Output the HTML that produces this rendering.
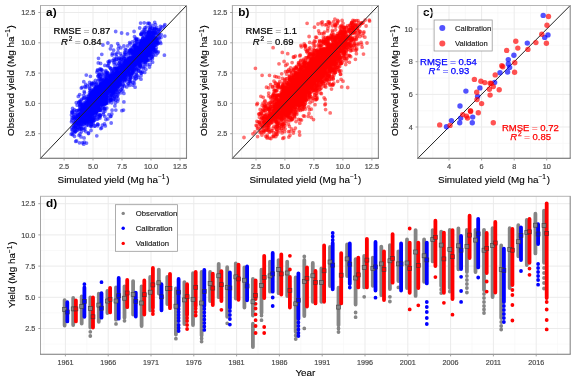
<!DOCTYPE html>
<html><head><meta charset="utf-8"><style>
html,body{margin:0;padding:0;background:#fff;width:575px;height:383px;overflow:hidden}
svg{display:block;filter:blur(0.28px)}
</style></head><body>
<svg width="575" height="383" viewBox="0 0 575 383" font-family="'Liberation Sans', sans-serif">
<rect width="575" height="383" fill="#fff"/>
<line x1="49.6" y1="5.5" x2="49.6" y2="158.3" stroke="#f5f5f5" stroke-width="0.6"/>
<line x1="78.6" y1="5.5" x2="78.6" y2="158.3" stroke="#f5f5f5" stroke-width="0.6"/>
<line x1="107.5" y1="5.5" x2="107.5" y2="158.3" stroke="#f5f5f5" stroke-width="0.6"/>
<line x1="136.5" y1="5.5" x2="136.5" y2="158.3" stroke="#f5f5f5" stroke-width="0.6"/>
<line x1="165.5" y1="5.5" x2="165.5" y2="158.3" stroke="#f5f5f5" stroke-width="0.6"/>
<line x1="40.5" y1="148.9" x2="186.5" y2="148.9" stroke="#f5f5f5" stroke-width="0.6"/>
<line x1="40.5" y1="118.6" x2="186.5" y2="118.6" stroke="#f5f5f5" stroke-width="0.6"/>
<line x1="40.5" y1="88.3" x2="186.5" y2="88.3" stroke="#f5f5f5" stroke-width="0.6"/>
<line x1="40.5" y1="57.9" x2="186.5" y2="57.9" stroke="#f5f5f5" stroke-width="0.6"/>
<line x1="40.5" y1="27.6" x2="186.5" y2="27.6" stroke="#f5f5f5" stroke-width="0.6"/>
<line x1="64.1" y1="5.5" x2="64.1" y2="158.3" stroke="#ebebeb" stroke-width="1"/>
<line x1="93" y1="5.5" x2="93" y2="158.3" stroke="#ebebeb" stroke-width="1"/>
<line x1="122" y1="5.5" x2="122" y2="158.3" stroke="#ebebeb" stroke-width="1"/>
<line x1="151" y1="5.5" x2="151" y2="158.3" stroke="#ebebeb" stroke-width="1"/>
<line x1="180" y1="5.5" x2="180" y2="158.3" stroke="#ebebeb" stroke-width="1"/>
<line x1="40.5" y1="133.7" x2="186.5" y2="133.7" stroke="#ebebeb" stroke-width="1"/>
<line x1="40.5" y1="103.4" x2="186.5" y2="103.4" stroke="#ebebeb" stroke-width="1"/>
<line x1="40.5" y1="73.1" x2="186.5" y2="73.1" stroke="#ebebeb" stroke-width="1"/>
<line x1="40.5" y1="42.8" x2="186.5" y2="42.8" stroke="#ebebeb" stroke-width="1"/>
<line x1="40.5" y1="12.5" x2="186.5" y2="12.5" stroke="#ebebeb" stroke-width="1"/>
<line x1="241.5" y1="5.5" x2="241.5" y2="158.3" stroke="#f5f5f5" stroke-width="0.6"/>
<line x1="270.5" y1="5.5" x2="270.5" y2="158.3" stroke="#f5f5f5" stroke-width="0.6"/>
<line x1="299.4" y1="5.5" x2="299.4" y2="158.3" stroke="#f5f5f5" stroke-width="0.6"/>
<line x1="328.4" y1="5.5" x2="328.4" y2="158.3" stroke="#f5f5f5" stroke-width="0.6"/>
<line x1="357.4" y1="5.5" x2="357.4" y2="158.3" stroke="#f5f5f5" stroke-width="0.6"/>
<line x1="232.4" y1="148.9" x2="378.4" y2="148.9" stroke="#f5f5f5" stroke-width="0.6"/>
<line x1="232.4" y1="118.6" x2="378.4" y2="118.6" stroke="#f5f5f5" stroke-width="0.6"/>
<line x1="232.4" y1="88.3" x2="378.4" y2="88.3" stroke="#f5f5f5" stroke-width="0.6"/>
<line x1="232.4" y1="57.9" x2="378.4" y2="57.9" stroke="#f5f5f5" stroke-width="0.6"/>
<line x1="232.4" y1="27.6" x2="378.4" y2="27.6" stroke="#f5f5f5" stroke-width="0.6"/>
<line x1="256" y1="5.5" x2="256" y2="158.3" stroke="#ebebeb" stroke-width="1"/>
<line x1="284.9" y1="5.5" x2="284.9" y2="158.3" stroke="#ebebeb" stroke-width="1"/>
<line x1="313.9" y1="5.5" x2="313.9" y2="158.3" stroke="#ebebeb" stroke-width="1"/>
<line x1="342.9" y1="5.5" x2="342.9" y2="158.3" stroke="#ebebeb" stroke-width="1"/>
<line x1="371.9" y1="5.5" x2="371.9" y2="158.3" stroke="#ebebeb" stroke-width="1"/>
<line x1="232.4" y1="133.7" x2="378.4" y2="133.7" stroke="#ebebeb" stroke-width="1"/>
<line x1="232.4" y1="103.4" x2="378.4" y2="103.4" stroke="#ebebeb" stroke-width="1"/>
<line x1="232.4" y1="73.1" x2="378.4" y2="73.1" stroke="#ebebeb" stroke-width="1"/>
<line x1="232.4" y1="42.8" x2="378.4" y2="42.8" stroke="#ebebeb" stroke-width="1"/>
<line x1="232.4" y1="12.5" x2="378.4" y2="12.5" stroke="#ebebeb" stroke-width="1"/>
<clipPath id="ca"><rect x="40.5" y="5.5" width="146.0" height="152.8"/></clipPath>
<clipPath id="cb"><rect x="232.4" y="5.5" width="145.99999999999997" height="152.8"/></clipPath>
<g clip-path="url(#ca)">
<path d="M106.7 99.6h0M79.4 110.8h0M117 75.8h0M141.7 52.3h0M118.8 81.9h0M88.3 110h0M96.7 105.1h0M95.6 106.8h0M97.8 118.9h0M89.6 102.1h0M90.8 110h0M145.1 54.5h0M151.4 49.7h0M96.3 86.6h0M78.2 122.5h0M82.6 107.6h0M114 76h0M85.8 131.6h0M101.9 78.4h0M99.9 99.9h0M144.1 52.9h0M86.7 96.5h0M100.5 115h0M93.6 96.1h0M84.4 119.5h0M96.4 107.3h0M84.2 112.1h0M135.3 51.1h0M103 86.9h0M80.8 103.6h0M97.1 104h0M87.8 113.4h0M94.2 108.6h0M98.2 103.9h0M103.3 85.4h0M87.2 108.9h0M93.2 104.1h0M118.6 81.8h0M146.4 58.3h0M125.6 75.2h0" stroke="#0000ff" stroke-width="3.8" stroke-linecap="round" stroke-opacity="0.55" fill="none"/>
<path d="M121 80.1h0M162 27.2h0M143.6 55.4h0M99.8 69.1h0M150 36.6h0M157.8 43h0M94.7 105.3h0M84.4 115.6h0M87 98.6h0M77.4 130.2h0M162.9 27.8h0M156 55h0M150.6 37.7h0M125.7 61.2h0M117.7 101.1h0M82.3 118.6h0M153.7 33.8h0M121.8 70.5h0M148.1 39.3h0M115.5 94.2h0M105.8 91.7h0M155.8 49.6h0M129.6 42.7h0M96.7 98h0M93.2 109.9h0M98.1 98.3h0M144.8 33.1h0M90.7 109.3h0M127.6 45.9h0M97.5 104.9h0M98.5 58.3h0M89.6 122.6h0M100.4 98.8h0M117.5 77.8h0M100.1 116.8h0M133.1 71.5h0M101.7 85.3h0M75.3 131.5h0M121.6 67.9h0M96.5 97.1h0" stroke="#0000ff" stroke-width="3.8" stroke-linecap="round" stroke-opacity="0.55" fill="none"/>
<path d="M129 63.5h0M141 66.6h0M95.2 89h0M156.4 40.2h0M132.6 70.6h0M119 63.3h0M112 80.1h0M106.5 92.2h0M87.7 102.2h0M110.3 100h0M98.7 86.8h0M97.9 91.8h0M99.5 97.5h0M117.1 82.4h0M89.9 117.6h0M95.3 101.7h0M86.9 108.7h0M140.8 42.9h0M121.1 65.9h0M150.5 41.7h0M71.5 121.8h0M115.8 91.9h0M141.1 61.6h0M92.2 115.7h0M87.1 111.1h0M114.1 81.7h0M145.9 56.4h0M144.2 33.1h0M155.2 40.9h0M141.5 72.9h0M109.4 88.1h0M150.2 28.6h0M106.1 91.4h0M136.7 54.7h0M106.9 100.1h0M81.8 121h0M123.7 76.7h0M104.2 108.7h0M145.6 61.9h0M90.5 104.8h0" stroke="#0000ff" stroke-width="3.8" stroke-linecap="round" stroke-opacity="0.55" fill="none"/>
<path d="M120.1 62.7h0M145.4 58.5h0M95.3 106.8h0M106.5 95.4h0M98.4 104.9h0M111.9 83.5h0M96.3 89.6h0M109 114.7h0M100.6 89.1h0M94.6 108.8h0M93.3 110h0M150.2 45.3h0M97.1 99.5h0M106.8 97.9h0M137.5 51h0M100.3 106.9h0M88.8 101.3h0M85 128.7h0M96.6 99.9h0M83.2 104.8h0M148.4 54.9h0M138.9 51.3h0M118.7 72.2h0M83 114.3h0M118.2 74.7h0M116.5 83.1h0M123.5 76.8h0M151.1 41.6h0M146.3 50.9h0M140.2 46.3h0M110.5 116.6h0M137.3 57.8h0M109.5 87.7h0M113.8 84.1h0M77.3 126.9h0M103.5 82.9h0M150.2 32.2h0M131.3 73.8h0M144 51.2h0M90.5 109.4h0" stroke="#0000ff" stroke-width="3.8" stroke-linecap="round" stroke-opacity="0.55" fill="none"/>
<path d="M100.3 115.3h0M98.9 102.1h0M150.5 50.7h0M152.6 31.8h0M82 106.5h0M127.4 70.4h0M99.6 93.2h0M93.6 91.1h0M97.8 87.9h0M130.1 58.4h0M81.3 105.2h0M92.2 95.1h0M89.2 115.9h0M90.2 110.7h0M149.5 50.5h0M107.9 87.8h0M143.1 38.2h0M141.9 40.7h0M106.9 86.8h0M126.3 63.4h0M136.7 39.5h0M97.5 95.3h0M96.9 100.9h0M133.4 53.2h0M87.6 115.4h0M91.7 85.5h0M91.2 126.6h0M139.8 60.2h0M140.7 55.9h0M101.9 88.5h0M134 56.2h0M79.9 121.2h0M136.5 62.1h0M147 48.3h0M149.4 29.7h0M140.6 23.1h0M112.5 92.8h0M146.4 54.9h0M77 129.8h0M86.1 119.6h0" stroke="#0000ff" stroke-width="3.8" stroke-linecap="round" stroke-opacity="0.55" fill="none"/>
<path d="M94 117.6h0M85.7 111.5h0M91.7 105.2h0M100.8 98.2h0M94.6 107.6h0M144.7 59.2h0M146.5 39.6h0M142.6 71.9h0M136.1 51.1h0M105.3 91h0M136 75.9h0M94.2 96.5h0M80.7 125.9h0M97.3 95.2h0M95.6 101.6h0M89.7 115.6h0M121.3 59h0M122.5 75.4h0M142.3 47.4h0M125.4 71.2h0M80.5 101.9h0M115.2 54.1h0M85.2 109.6h0M113.8 86h0M106.3 90.8h0M96.5 93.5h0M83.3 114.5h0M143.3 62.7h0M103.5 112.5h0M128.7 52.7h0M117.3 78.2h0M154.1 41.8h0M73.7 114.2h0M126.2 50h0M85.2 121.5h0M103.7 93.8h0M142.3 46.7h0M78.4 121.8h0M116.5 56.7h0M110.5 81h0" stroke="#0000ff" stroke-width="3.8" stroke-linecap="round" stroke-opacity="0.55" fill="none"/>
<path d="M121.4 55.9h0M72 117.9h0M86.5 119.4h0M106.8 108.1h0M136.5 65.8h0M122.9 70.6h0M137.7 53.3h0M133.3 52.3h0M122.4 77.9h0M132.5 60.6h0M106.2 93.4h0M145.3 51.3h0M94.5 110.3h0M139.1 61.9h0M95.8 100.7h0M132.6 72.5h0M88.6 122.3h0M85.5 105h0M128.1 64.9h0M156.2 44.7h0M87.1 106h0M134.8 56.8h0M128.1 69.2h0M103.7 87.3h0M152 41.2h0M112.8 90.7h0M120.8 92.8h0M105.9 108.9h0M138.4 64.5h0M89.7 119.8h0M84.5 110h0M102.6 93.5h0M137.7 59.6h0M98.5 106.8h0M145.5 49.2h0M92.7 94.5h0M116.6 72.6h0M158.4 31.6h0M145.3 52.2h0M129.2 72.3h0" stroke="#0000ff" stroke-width="3.8" stroke-linecap="round" stroke-opacity="0.55" fill="none"/>
<path d="M105.1 74.7h0M117.4 92.3h0M86.3 123.4h0M144 52.1h0M93 103.5h0M95 95.7h0M106 73.5h0M123.5 66.7h0M117.2 84.7h0M91.2 94h0M145 62.7h0M88.2 115.2h0M99.8 118.2h0M134.5 49.5h0M150.5 48.7h0M84.9 110.4h0M147.3 44.3h0M119.2 86.2h0M158.3 51.8h0M98.5 99.4h0M87.9 124.3h0M141.8 55h0M99.3 91.7h0M148.3 47.7h0M150.8 40.2h0M94.6 103.2h0M96.1 86.7h0M147.9 53.3h0M86.3 75.1h0M83.7 121.1h0M125.4 73.2h0M105.3 96.1h0M124.2 75.4h0M115.8 100.2h0M99.6 90.3h0M92.6 122.1h0M103.8 100.2h0M123.4 67.9h0M105.5 87.5h0M85.4 104.1h0" stroke="#0000ff" stroke-width="3.8" stroke-linecap="round" stroke-opacity="0.55" fill="none"/>
<path d="M106.6 91.4h0M100.9 96.8h0M108.2 87.7h0M135.8 56.1h0M153.3 47.4h0M91.5 93.3h0M104.9 99.5h0M140.8 56.3h0M94.3 104.6h0M155.8 34.9h0M118.2 80.2h0M125.3 75.7h0M129.3 74.9h0M82.5 111.3h0M116 84.3h0M145.5 48.3h0M136.1 48.5h0M114.5 77.4h0M123.2 68.1h0M95.5 113.4h0M137.7 63.9h0M140.9 41.2h0M97.9 98.8h0M150.1 51.4h0M90.7 101.7h0M141 34.2h0M105.1 108.4h0M139.1 64.3h0M94.5 86.6h0M99.3 89.9h0M143.9 40.3h0M115.6 102.8h0M147.4 33.1h0M147.1 59.8h0M110.9 116.2h0M87.2 115.1h0M90 103h0M143.7 47.8h0M141.6 59.2h0M123.5 65.9h0" stroke="#0000ff" stroke-width="3.8" stroke-linecap="round" stroke-opacity="0.55" fill="none"/>
<path d="M89.3 113.8h0M83.7 108.5h0M114.3 72.2h0M95.5 97.5h0M91.4 119.1h0M146.9 50.3h0M93.3 100.6h0M143.4 60.1h0M88.2 103.1h0M91.8 105.6h0M86.4 122.6h0M97.7 70.7h0M92.1 91.1h0M85 120h0M109.9 85.8h0M71.2 134.2h0M75.2 119.7h0M100.8 91.1h0M101.7 87.7h0M146.3 44.4h0M121.8 62h0M128.8 65.7h0M120.8 79.4h0M94 107.6h0M136.7 53h0M111.4 99.6h0M101.2 86.5h0M138.6 77.4h0M102.8 103.4h0M137 47.7h0M111.1 95.8h0M129.6 81.4h0M149.5 53.9h0M123.9 71.5h0M138.6 71h0M101.8 99.6h0M96.5 105.8h0M136.6 57.6h0M124.9 70.5h0M97.3 95.5h0" stroke="#0000ff" stroke-width="3.8" stroke-linecap="round" stroke-opacity="0.55" fill="none"/>
<path d="M72.6 108.4h0M155.2 45.3h0M93.9 91.2h0M91.2 125.2h0M95 109.5h0M102.2 84.9h0M149.2 52.4h0M84.4 111.4h0M150.7 42.7h0M126.1 80.1h0M95.6 115.2h0M117.2 86h0M86.1 110.9h0M97.1 108h0M147.9 46.1h0M96 96.8h0M99.5 96.6h0M148.2 45.3h0M96.9 99.3h0M91.2 96.2h0M101.3 79.6h0M114.7 78.8h0M101.9 74.2h0M106.6 74.6h0M132.3 68.3h0M104.5 89.7h0M103.5 87.7h0M101 83.2h0M149 49.7h0M87.6 106.5h0M99 90.6h0M143.2 68.6h0M87.6 104h0M154.2 44.9h0M102.5 108.5h0M156.3 42.5h0M88.4 102.2h0M100.3 92.6h0M146.7 51.4h0M130.4 62h0" stroke="#0000ff" stroke-width="3.8" stroke-linecap="round" stroke-opacity="0.55" fill="none"/>
<path d="M91 112.9h0M82.2 106.5h0M152.4 50.7h0M117.9 89.3h0M154.7 22.3h0M107.8 90.1h0M150 45.2h0M155.4 37.8h0M117.8 79h0M148.9 41.5h0M95.6 97.6h0M91.3 121.4h0M124.6 85.9h0M145.9 57h0M97.5 94.2h0M130.9 62.6h0M102.1 100.6h0M141.3 34.3h0M104 104.7h0M114.6 67.7h0M96.5 93h0M130.9 57.8h0M131.7 52.7h0M147.4 54.3h0M96.8 107.6h0M76.1 124.2h0M151.9 44.8h0M153.8 41.4h0M92.6 100.9h0M139.4 64h0M117.9 81.9h0M137.9 51.2h0M87.1 98.5h0M124.8 70.3h0M122.8 77.5h0M97.2 100.3h0M126.7 68.4h0M118.3 79.1h0M74.1 126.6h0M87 115.4h0" stroke="#0000ff" stroke-width="3.8" stroke-linecap="round" stroke-opacity="0.55" fill="none"/>
<path d="M100.7 76.5h0M145.4 49.6h0M95.5 80.3h0M134 52.7h0M95.1 105.8h0M150.7 46.5h0M109.1 90.9h0M123.9 93.4h0M84.2 91.5h0M96.7 106.5h0M107.9 84.6h0M141.8 53h0M90.2 103h0M153.3 33.3h0M125 58.9h0M84.9 106.4h0M105.9 119.6h0M104.1 108.9h0M100.7 90.6h0M107.8 89h0M82.2 104.6h0M92.5 100.5h0M153.7 37.9h0M97.7 101.2h0M103.8 103.8h0M101.8 99.1h0M113.2 90.1h0M131.8 68.5h0M157.4 44h0M81.4 124h0M98.5 96.6h0M103.8 91.8h0M157.6 53h0M119.8 84.6h0M85.8 103.5h0M87.8 112.5h0M79 102.6h0M106.3 83.8h0M88.4 117.1h0M107.5 87.1h0" stroke="#0000ff" stroke-width="3.8" stroke-linecap="round" stroke-opacity="0.55" fill="none"/>
<path d="M90.6 117.9h0M145.5 38.5h0M138.4 62.1h0M132.7 51.1h0M121.1 59.4h0M105.9 96.7h0M148 41.3h0M103.7 101h0M147.6 55.8h0M92.3 93.9h0M114.1 90.5h0M148.6 40.8h0M119.7 62h0M101 85h0M77 110.7h0M153.2 47h0M81.3 123h0M111.1 89.4h0M93 92.4h0M97.6 100.9h0M124.7 54.2h0M127.4 60.1h0M110.1 81.9h0M80.3 120.2h0M111 81.6h0M117.9 76.5h0M97.2 100.8h0M95.8 84.5h0M93.8 94.9h0M136.5 69.7h0M84 130h0M124.3 61.5h0M150.7 40.2h0M149.1 46.6h0M121.7 72.1h0M138.5 62.8h0M91.1 107.2h0M111.3 77.7h0M147.4 52.4h0M93.4 112.6h0" stroke="#0000ff" stroke-width="3.8" stroke-linecap="round" stroke-opacity="0.55" fill="none"/>
<path d="M99.6 103.4h0M106.9 92.9h0M81 116.9h0M99.3 74.7h0M81.8 110.5h0M81.3 88.1h0M147.2 48.8h0M96.4 90.7h0M124.1 63.2h0M100.5 84.4h0M121.5 77.6h0M109.2 79.1h0M120 84.8h0M86.1 109h0M129.4 64.4h0M88.6 96.1h0M133.6 61.4h0M134.1 56.8h0M143.9 54.9h0M89.3 105.6h0M118.4 86.1h0M79 126.8h0M151.8 39.3h0M143.5 46.2h0M87.8 116.5h0M90.5 112.5h0M99.4 101.8h0M148.9 23.2h0M111.8 71.2h0M99.7 76.2h0M146.9 52h0M112.5 82.6h0M110.5 91.4h0M141.4 60.2h0M121.8 69.4h0M93.2 111.2h0M84.3 117.4h0M120.5 73.8h0M118.8 45.8h0M86.7 99.2h0" stroke="#0000ff" stroke-width="3.8" stroke-linecap="round" stroke-opacity="0.55" fill="none"/>
<path d="M84.8 117.9h0M115.8 59.9h0M98 80.9h0M146.3 34.4h0M99 104.7h0M73.3 125.3h0M98.2 100.3h0M137.8 47.8h0M76.9 116.2h0M119.3 91.6h0M81.9 108.5h0M86.4 125.5h0M130 64.5h0M102.2 88.9h0M153.8 49.4h0M144 45h0M129 67.8h0M135.7 56.5h0M83.3 112.6h0M143.5 32.1h0M97.1 97.2h0M103.5 87.6h0M90.4 105.1h0M127 62h0M96.6 99.4h0M118.8 67.8h0M115.8 59.1h0M100.5 109.7h0M149.2 43.8h0M97 83.1h0M102.7 94.4h0M137.2 75.6h0M92.7 111.3h0M148.3 43.2h0M96 112.7h0M143.9 42.5h0M74.6 117.4h0M104.1 87.1h0M129.2 62.9h0M125 79.1h0" stroke="#0000ff" stroke-width="3.8" stroke-linecap="round" stroke-opacity="0.55" fill="none"/>
<path d="M93.5 105.4h0M148.5 52.7h0M88.5 133.5h0M143.2 67h0M75.3 130.9h0M97.6 124.2h0M84.3 142.2h0M161.2 34.7h0M122.1 72h0M91 93.7h0M151.2 41h0M142.6 58.9h0M129.6 79.6h0M88.3 119.4h0M73.4 111.2h0M100.2 95.5h0M131.1 51.5h0M82.3 124.6h0M106.4 85.5h0M96.8 106.2h0M105.1 89.3h0M125.6 71.9h0M105.8 92.9h0M143.1 49.7h0M148.2 38.2h0M79.7 119.9h0M149.9 26.5h0M137.3 51.7h0M112.6 78.2h0M99.5 99.4h0M134.4 46.4h0M110.2 85.9h0M147.5 52.6h0M138.7 62.6h0M72.1 129.6h0M112.2 82h0M116.7 77.2h0M90 103.5h0M112.9 93.5h0M76.6 118.5h0" stroke="#0000ff" stroke-width="3.8" stroke-linecap="round" stroke-opacity="0.55" fill="none"/>
<path d="M149.5 23.6h0M145.7 44.3h0M88.2 102h0M116.6 76.5h0M124.8 74.8h0M144.6 52.8h0M91.1 119.6h0M103.3 94.4h0M145.1 61.5h0M151.3 36.7h0M132 62h0M105.9 94.3h0M112.1 110.2h0M80 134h0M118.1 76.3h0M92.1 92.6h0M121.6 33h0M91.3 102.9h0M93.9 109h0M90.9 115.9h0M146.5 59.8h0M78.5 125.2h0M149.5 67h0M100.2 103.4h0M106.5 77.9h0M160.3 29.3h0M127.6 74.1h0M114.3 87.1h0M130.4 68.4h0M93.6 113.1h0M129.2 80.5h0M99.7 92.8h0M158.2 43.4h0M114.8 96.8h0M80.8 100.8h0M137.3 48.2h0M95.3 100h0M128.5 73.2h0M96 102.4h0M129.8 63.8h0" stroke="#0000ff" stroke-width="3.8" stroke-linecap="round" stroke-opacity="0.55" fill="none"/>
<path d="M77 113.1h0M160.8 43.4h0M136.5 41.3h0M152.7 28.6h0M132.7 72.6h0M157.1 42.2h0M90.6 107.5h0M152 39.9h0M157.1 40.7h0M103.4 93.8h0M97.8 100.4h0M94.1 105.6h0M124.6 56h0M101 97h0M130 50.5h0M89.4 114.2h0M104.5 89.3h0M101.1 81.2h0M123.5 110.1h0M95.8 107.1h0M97.7 90.8h0M135.8 78.8h0M92.2 90.1h0M119.4 77.5h0M153.9 45.6h0M114.5 86h0M99.2 98.6h0M109.2 76.5h0M152.3 44.2h0M116.4 70.6h0M147.6 52.3h0M102.9 106.8h0M90 101.6h0M134.8 62.6h0M100.3 99h0M133.9 58.8h0M134.2 57.5h0M100.8 128.6h0M129.3 59.2h0M89.2 94.8h0" stroke="#0000ff" stroke-width="3.8" stroke-linecap="round" stroke-opacity="0.55" fill="none"/>
<path d="M124.2 67h0M93.6 89.9h0M115.8 79.5h0M122.7 68.7h0M151.2 47.8h0M97.9 99.8h0M144.6 41.1h0M107.8 81.4h0M104 91.6h0M92.1 113.3h0M88.8 104.7h0M133.1 71.3h0M124.6 66h0M112.3 86.5h0M72 112.5h0M84 117.5h0M147.7 39.1h0M128.6 77.1h0M145.3 48.5h0M131.4 50.4h0M109.2 75.8h0M122.7 66.5h0M95.1 96.1h0M109 86.1h0M101 92.5h0M98.7 108.7h0M124.9 75.3h0M107.4 88.2h0M148.5 49.6h0M89.5 104.9h0M73.6 127.8h0M77.7 127.4h0M93.9 82.5h0M112.2 74.1h0M104.5 98.6h0M100.4 90h0M116 84.1h0M109.8 67.6h0M137.6 61.6h0M105.4 98.6h0" stroke="#0000ff" stroke-width="3.8" stroke-linecap="round" stroke-opacity="0.55" fill="none"/>
<path d="M103.7 99.1h0M129.8 62.9h0M133.9 46.2h0M113 82.2h0M138.8 70.6h0M85 117.3h0M76.5 110.8h0M118.2 93.1h0M146.9 36.4h0M134.3 56.7h0M92.2 109.2h0M74.3 124.1h0M109.3 89.8h0M116.6 90.3h0M147 47.2h0M152.2 39.3h0M92.3 114.1h0M134.8 55.3h0M129.5 50.4h0M107.9 84.4h0M127 63.1h0M133.1 73.3h0M114.7 84h0M134.4 51.4h0M110.8 93.7h0M148 35.4h0M81.4 112.3h0M131.2 63.5h0M151.7 48.4h0M90.6 102.8h0M93.8 97.6h0M97.8 101.2h0M100.3 81.9h0M100.5 84.5h0M95.8 98.2h0M95.6 97.2h0M157.2 42h0M80.8 115.4h0M142.4 60.8h0M146.2 46.7h0" stroke="#0000ff" stroke-width="3.8" stroke-linecap="round" stroke-opacity="0.55" fill="none"/>
<path d="M134.9 46h0M154.9 27.9h0M95.2 92.2h0M106.9 85.2h0M149.4 35.7h0M86.5 143.1h0M107.5 97.2h0M148.2 38.1h0M148 56.4h0M134.2 51.9h0M75.6 125.3h0M120.1 81.9h0M149.6 29.9h0M94.1 101.7h0M103.5 101.5h0M127.3 74h0M135.7 60.8h0M99 97.7h0M102.4 125.1h0M145.6 48.4h0M120.8 84.6h0M149.9 48.8h0M101.9 102.2h0M94 94.8h0M146.4 27.1h0M142.8 48.3h0M90.5 112.6h0M113.2 92.5h0M93.7 96.8h0M97.5 101.1h0M124 77.4h0M87.3 103.1h0M96.8 99.6h0M137.4 57h0M157.7 35.6h0M134.3 83.5h0M105 99.3h0M116.4 70.2h0M110.4 75.8h0M99.4 114.8h0" stroke="#0000ff" stroke-width="3.8" stroke-linecap="round" stroke-opacity="0.55" fill="none"/>
<path d="M114.8 74.7h0M113.8 72.9h0M130.6 82.4h0M90.9 110.6h0M88.9 99.7h0M103.8 96.5h0M102.9 88.5h0M86.8 119.8h0M120.5 77.7h0M90.5 111.1h0M145.5 57.8h0M91.6 104.5h0M137.9 56.9h0M112.5 73.7h0M135.3 48.4h0M96.4 90.8h0M131.8 58.1h0M146.4 52.6h0M109.7 84.5h0M94.8 108.3h0M92.5 105.2h0M145.9 45.6h0M117.6 81.9h0M93.7 95.3h0M123.4 79.3h0M127.5 33.8h0M148.6 32.9h0M78.3 123.2h0M97.9 96.5h0M119.9 78.9h0M155.8 38.6h0M105.8 100.2h0M152.1 41.1h0M145.8 45.3h0M142.2 44.2h0M115.8 90.1h0M116.5 74.1h0M88.5 108.5h0M94.9 104h0M133.8 65.6h0" stroke="#0000ff" stroke-width="3.8" stroke-linecap="round" stroke-opacity="0.55" fill="none"/>
<path d="M82.1 110.2h0M130.3 53.6h0M140.8 56.7h0M118.1 98.9h0M150.3 37.3h0M102.6 93.3h0M134.8 62.9h0M96.9 95.3h0M130.3 62.9h0M117.3 79h0M134.4 65.6h0M108 89.2h0M120.9 72.8h0M90.2 114.1h0M126.8 73.5h0M107.7 93.2h0M160.4 26.4h0M72.8 134.8h0M135.1 40h0M100.6 102.7h0M120.6 53.8h0M148.7 38.2h0M106 95h0M126.7 86.9h0M97.9 104h0M128.5 75h0M131.6 59.8h0M78.6 124.2h0M119.8 71.6h0M152.4 30.5h0M104.8 82.2h0M133.9 69.2h0M144.6 44.3h0M145.3 52.7h0M111.1 77h0M101.8 86.8h0M87.7 109.2h0M109.2 92.1h0M99 110.6h0M115.3 88.3h0" stroke="#0000ff" stroke-width="3.8" stroke-linecap="round" stroke-opacity="0.55" fill="none"/>
<path d="M97.8 101.6h0M85.9 120.4h0M142.7 58h0M148.4 32.6h0M103.9 91.9h0M95.5 88.1h0M141.1 45.2h0M126.5 77h0M156 42.3h0M152.3 40.5h0M127.8 65.9h0M79.8 119.5h0M144.5 55.9h0M148.9 43h0M83 103.4h0M94.5 97.4h0M133.3 77.3h0M144.5 40.8h0M85.5 102.1h0M109.2 81.9h0M92.4 104.5h0M100.5 92.3h0M140.7 43.3h0M132.5 51.8h0M107 73h0M112.6 70.3h0M95.8 95.2h0M164.4 55.2h0M123.7 75.3h0M104.8 77.6h0M150.8 35.3h0M130.6 57.7h0M100.6 100h0M86.6 111.9h0M152.6 37.4h0M135.8 51h0M102.5 80.2h0M93.4 98.7h0M79.7 94.6h0M147 51.5h0" stroke="#0000ff" stroke-width="3.8" stroke-linecap="round" stroke-opacity="0.55" fill="none"/>
<path d="M150.1 64.4h0M153.5 31h0M142.2 31.8h0M92.5 102.6h0M101.4 91.6h0M147.4 42.1h0M74.7 122.8h0M96.9 72.1h0M136.3 72.4h0M96.5 89h0M80.6 120.5h0M99.8 92.5h0M105.9 85.3h0M149.9 38.3h0M115 75.4h0M104.5 123.9h0M147.9 35.3h0M108.4 91.8h0M142.5 51.9h0M99.5 78h0M98 91.9h0M146.3 31.4h0M150.9 58.1h0M140.8 64.6h0M101.1 87.8h0M130.2 44h0M146.5 60.3h0M93.5 105h0M97 95.8h0M106.5 92.1h0M106.2 80.8h0M83.5 124h0M129.4 74.4h0M88 113.2h0M100.5 110h0M149.3 42.4h0M106 82.3h0M106 100.9h0M80.1 117.9h0M113.8 81.9h0" stroke="#0000ff" stroke-width="3.8" stroke-linecap="round" stroke-opacity="0.55" fill="none"/>
<path d="M109.6 88.8h0M149.4 53.4h0M98.1 88.1h0M106.5 91.2h0M114.6 77.8h0M96.5 105h0M100.8 84.8h0M104.7 86h0M135.9 59.2h0M120.1 76.1h0M125.3 73.1h0M104.4 97.5h0M104 80.7h0M109.8 80.8h0M106.2 87.2h0M150 34.1h0M120.6 82.8h0M98.3 91.4h0M91.6 113.8h0M107.6 85.8h0M92.9 120.2h0M97.9 100.3h0M73.4 117.5h0M73 118.3h0M89 106.8h0M134.3 57h0M124.1 80.3h0M87.1 121.6h0M153.1 40.9h0M83 120.4h0M87.3 119.9h0M109.5 60.8h0M100.8 88.6h0M95.7 101.7h0M124.9 64.8h0M87 103.6h0M85.9 111.9h0M134 57.8h0M100.4 94.5h0M148.9 32h0" stroke="#0000ff" stroke-width="3.8" stroke-linecap="round" stroke-opacity="0.55" fill="none"/>
<path d="M91.5 97.1h0M95.4 94.4h0M141.3 48.6h0M121.3 69.1h0M74.2 132.7h0M124.3 58.4h0M109.6 82.9h0M95 111.3h0M103.6 90.1h0M96 100.1h0M97.7 104h0M96.7 90.2h0M135.6 49.1h0M95.1 117h0M118.4 59.8h0M96.3 83.7h0M107.6 84h0M135.8 45h0M92.2 99.1h0M81.4 99.5h0M142.9 51.3h0M96.3 100.6h0M147 43.1h0M117.8 72.8h0M98.3 97.1h0M98 101.8h0M140.3 71.5h0M140.2 65.3h0M94.2 120h0M123.8 58.6h0M108.8 79.7h0M95.7 98.9h0M96.1 112.2h0M148.5 49.6h0M91.3 104.3h0M89.1 117.4h0M150.1 41.1h0M98.2 87.8h0M110.5 88.4h0M154.8 32.2h0" stroke="#0000ff" stroke-width="3.8" stroke-linecap="round" stroke-opacity="0.55" fill="none"/>
<path d="M100.3 92.6h0M101.2 91.7h0M102.5 83.7h0M95.3 92.5h0M106.1 93.9h0M100.3 98h0M123.8 64.4h0M90.1 94.9h0M115 69h0M100.2 95.5h0M137.1 55.2h0M100.2 94.7h0M100.9 85.8h0M111.3 90h0M135.8 68.5h0M84.1 137.9h0M92.5 103.1h0M114.6 99h0M123.6 74.1h0M164.2 26.1h0M103.3 94.8h0M97.5 70h0M153.5 48.1h0M137.9 56h0M95.6 112.1h0M151.1 41.3h0M128.5 84h0M104.8 94h0M113.9 62.3h0M96 106h0M77.2 105.2h0M139.6 56.7h0M90.7 116h0M149 53.8h0M87.7 102.3h0M151.8 39.9h0M135.7 55.3h0M139.4 58.2h0M89.9 113.3h0M144.8 63.8h0" stroke="#0000ff" stroke-width="3.8" stroke-linecap="round" stroke-opacity="0.55" fill="none"/>
<path d="M122.2 72.3h0M135.1 62h0M130.1 58.8h0M133.3 66.4h0M157.8 39.8h0M110 84.6h0M147.5 55.8h0M98.6 102.7h0M106.6 80.5h0M77.7 119.1h0M84 118.7h0M151.9 56.7h0M159.1 30.6h0M114.5 79.2h0M88.3 125.3h0M114.9 76.5h0M98.8 108h0M144.1 36.9h0M99.9 96.8h0M158.1 29.6h0M117.8 65.6h0M85.5 104.3h0M146.1 47h0M90.3 91.3h0M139 62.5h0M164.8 36.1h0M97.1 93.9h0M77.3 114.6h0M97.1 88.4h0M140.3 55.7h0M85.3 119.1h0M104.7 101.5h0M72.1 133.8h0M106.4 88h0M84.1 124.1h0M142.4 55.8h0M106.2 101.6h0M102.3 87.7h0M147.8 55.3h0M154.1 41.7h0" stroke="#0000ff" stroke-width="3.8" stroke-linecap="round" stroke-opacity="0.55" fill="none"/>
<path d="M96.2 88.3h0M102.9 45h0M102.3 104.6h0M147.1 59.1h0M98.1 106.6h0M81.2 116.6h0M83.6 115.3h0M141.7 56.3h0M98.7 90.3h0M76.4 122.8h0M139.8 62.1h0M83.9 121.5h0M108.2 65.5h0M97.8 103.8h0M155 32.7h0M95.3 99.1h0M87.7 107.8h0M101.9 83.4h0M139.1 58.1h0M106.8 85.6h0M97 91.8h0M99 110.4h0M135.1 54.1h0M113.4 77.1h0M102.1 98.8h0M84.2 107.4h0M133.3 62.8h0M110.6 68.3h0M135.1 87.2h0M90.6 105.3h0M161 37.5h0M106.5 79.6h0M98.5 92h0M94.7 120.2h0M105.3 90.2h0M104.8 89.2h0M100 90.6h0M112.8 95.8h0M96.7 97.3h0M88.3 102.6h0" stroke="#0000ff" stroke-width="3.8" stroke-linecap="round" stroke-opacity="0.55" fill="none"/>
<path d="M99.1 89.8h0M90.9 113.5h0M134.5 61.7h0M128 53.4h0M108.9 89.9h0M126.2 71.7h0M103.6 86.6h0M106.3 78.9h0M123.3 77.1h0M90.9 103.5h0M150.7 44.7h0M105 99.1h0M121.8 69.5h0M83.4 111.9h0M93.5 97.6h0M82.4 142.8h0M119.8 65.4h0M89.6 88.4h0M99.6 88.6h0M147.6 45.1h0M87.5 106.7h0M113.2 82.6h0M148.8 48.8h0M97.1 90.7h0M118.5 84.7h0M80.7 126.4h0M97.4 105h0M123.9 101.9h0M83.9 116.5h0M104.9 111.2h0M96 88h0M90.9 109.1h0M114.6 89h0M136.3 74.3h0M90.5 112.1h0M125 72.3h0M120.2 64.7h0M121.8 71.4h0M139 54.8h0M91.6 97h0" stroke="#0000ff" stroke-width="3.8" stroke-linecap="round" stroke-opacity="0.55" fill="none"/>
<path d="M145.3 53.8h0M149.5 54.6h0M145.7 55h0M94.6 126h0M135.9 64.4h0M88.7 123.3h0M112.9 96.1h0M150.9 44.9h0M150.3 41.4h0M71.5 115h0M104.7 87.2h0M128.4 62.6h0M96.9 97.2h0M101.9 97.9h0M109.8 87h0M79.2 122.8h0M83.6 128h0M116.5 85.1h0M104.8 100.8h0M149.1 39.7h0M133.9 59.3h0M135 42.9h0M114.1 86.9h0M114.1 58.9h0M156.3 47.7h0M150.4 60.3h0M80.2 107.2h0M109.4 61.8h0M140.2 57.6h0M146.4 49.3h0M133.8 54.6h0M147.9 37.5h0M150.5 36h0M111.7 102.8h0M82.4 112.2h0M97.4 103.2h0M122.4 86.7h0M148 53h0M147.7 38.9h0M118.4 68.4h0" stroke="#0000ff" stroke-width="3.8" stroke-linecap="round" stroke-opacity="0.55" fill="none"/>
<path d="M115.4 88.9h0M88.4 133h0M135.7 60.7h0M151.8 37.9h0M147.4 64.5h0M128.8 68.3h0M139.1 60.4h0M130.7 66.6h0M117.2 96.1h0M117.3 71.5h0M93.5 120.7h0M79.8 128.9h0M116.4 59.3h0M155.9 39.2h0M92.4 101.3h0M115.4 68.3h0M121.2 71.6h0M139.8 55.3h0M134.8 64.3h0M123.3 77.1h0M93 107h0M146.7 48.9h0M84.4 116h0M128.7 66.3h0M109.3 95.4h0M84.7 120.4h0M95.2 102.1h0M102.3 88.4h0M103.3 90.7h0M91.3 113.3h0M97.5 103.5h0M86.3 111.5h0M128.3 59.7h0M100.6 63.4h0M80.1 118.4h0M96.8 115.2h0M127.9 64.2h0M105.8 71.8h0M91.1 99.1h0M125.4 60.6h0" stroke="#0000ff" stroke-width="3.8" stroke-linecap="round" stroke-opacity="0.55" fill="none"/>
<path d="M98.1 86.7h0M117.9 95h0M107.4 85.2h0M83.5 121.3h0M104.1 88.4h0M91 130.5h0M87.2 111h0M139.2 59h0M158.9 33.7h0M116.7 54.1h0M144.7 53.2h0M78.5 123.6h0M137.7 54.4h0M152.8 49.1h0M101.7 99.5h0M131.2 50.7h0M138.9 50.5h0M125.3 67.6h0M147.4 51.1h0M119.8 83.5h0M104.7 81.8h0M136.7 69.1h0M106.3 91.6h0M92.8 110.6h0M125.1 72h0M141.8 53.2h0M102.6 93.3h0M83.7 113.8h0M115.6 80.4h0M75.7 141.4h0M101.7 96.1h0M110.5 98.2h0M148.1 45.4h0M144 48.4h0M86.8 101.1h0M117.2 82.7h0M135 51.9h0M151 40.2h0M95.4 89.7h0M80.4 118h0" stroke="#0000ff" stroke-width="3.8" stroke-linecap="round" stroke-opacity="0.55" fill="none"/>
<path d="M105.1 81.8h0M116.6 78.9h0M99.9 107h0M123.9 46h0M115.3 81.5h0M118.1 68.7h0M80.3 122.4h0M123.4 72.1h0M105.5 85.7h0M140.2 53.4h0M92.1 113.4h0M114.2 96.8h0M101.9 104.5h0M115.5 80.1h0M112.4 86.1h0M99.2 96.1h0M111.5 82h0M149.4 32h0M112.7 87.5h0M142.7 38.2h0M136.1 63.6h0M113.6 74.6h0M102.3 84.7h0M104.7 82h0M134.2 49.7h0M142.6 43.6h0M118 80.3h0M125.8 60.2h0M129.7 58.4h0M146.8 39.9h0M138.1 55.7h0M113 88.5h0M132.4 41.9h0M119.8 78.3h0M118.8 80.8h0M136 61.5h0M120.7 89.6h0M116.6 75h0M144.8 52h0M105.8 85.6h0" stroke="#0000ff" stroke-width="3.8" stroke-linecap="round" stroke-opacity="0.55" fill="none"/>
<path d="M116.9 89.1h0M122.7 65.6h0M139.4 65.5h0M133.2 68.6h0M143.1 56.8h0M133.1 82.7h0M96.8 135.8h0M145.8 44.2h0M152.8 37.7h0M98.5 88.8h0M145.1 46.2h0M141.5 60.6h0M116.7 81.5h0M103.4 88.4h0M141.8 53.1h0M144.1 43.2h0M129.2 63.3h0M92.7 104.5h0M102.8 102.4h0M110.3 81.6h0M74.1 131h0M92.1 106.5h0M111.3 92.7h0M123.2 68.9h0M89 113.5h0M144.8 59.5h0M91.7 96.3h0M108.1 92.8h0M113.2 89.2h0M152.6 36.5h0M104.5 88.5h0M118.5 81.1h0M134.5 70.2h0M98.1 96.4h0M99.7 100.8h0M89.5 92.7h0M105.3 83.9h0M131.9 64.1h0M137.8 49.2h0M83.3 117.7h0" stroke="#0000ff" stroke-width="3.8" stroke-linecap="round" stroke-opacity="0.55" fill="none"/>
<path d="M137.7 58h0M117.3 75.9h0M104 89.6h0M79.1 114.5h0M146.7 41.2h0M122.1 76.9h0M87.6 103.7h0M85.8 87.4h0M116.4 80.7h0M92.4 104.7h0M95.9 111.4h0M83 110.1h0M92.6 102.9h0M140.1 65.7h0M122.6 74.9h0M109 89.3h0M131.6 63.7h0M145.6 55.9h0M155.6 37.8h0M91 101.9h0M84.8 115.1h0M126.2 65.6h0M110.7 77.9h0M125.5 52.7h0M79.2 115.2h0M132.3 67.8h0M99 86.4h0M104.9 65.4h0M111.1 99.1h0M140.6 54.8h0M118.3 48.6h0M89.2 106.5h0M140.9 57.2h0M141.7 41.3h0M100.1 92.1h0M99.8 95h0M105.3 92.2h0M152 28.3h0M114.6 93h0M141.7 59h0" stroke="#0000ff" stroke-width="3.8" stroke-linecap="round" stroke-opacity="0.55" fill="none"/>
<path d="M94.6 111h0M146.4 49.6h0M109 77.8h0M105.4 93h0M153.2 47.7h0M141.7 45.2h0M90 88.7h0M95.4 103.2h0M90.9 101.5h0M124.4 72.5h0M74.5 136.3h0M92.2 115.8h0M95.7 101h0M90.9 95.4h0M146.5 49.4h0M80.9 117.6h0M119 72.8h0M148 47.8h0M127.8 83.3h0M140.2 58.9h0M125.3 62.4h0M105.7 102.8h0M98 124.4h0M118 76.5h0M105.8 88.9h0M77.1 122.3h0M140 66.3h0M144.7 39.3h0M145 40.9h0M116.2 86.1h0M81.7 119.6h0M138.5 49.9h0M76.4 128.8h0M86.1 105.2h0M159.1 37.8h0M98 76h0M106.4 82.4h0M113.8 77.6h0M86.8 120.3h0M149.1 49.6h0" stroke="#0000ff" stroke-width="3.8" stroke-linecap="round" stroke-opacity="0.55" fill="none"/>
<path d="M89 107.9h0M79.4 116.1h0M92.1 119.3h0M153.7 35.3h0M98.7 93.2h0M84.8 102.4h0M105.2 98.6h0M111.2 85.7h0M106.1 102.7h0M132.7 85.2h0M131.7 64.2h0M137.7 61h0M139 49h0M97.2 94.1h0M85.1 116h0M129.6 58.9h0M124 77.7h0M144.6 56.6h0M105.8 98.9h0M112.6 87.4h0M117.4 82.4h0M137.9 39.2h0M155.4 32.6h0M153.8 33h0M100.2 102h0M107.5 83.2h0M122.5 73.3h0M125.5 72.4h0M114.5 73.9h0M114.3 64.2h0M106.8 97.7h0M126.9 71.3h0M84.5 108.1h0M125.1 66h0M110.5 74.6h0M148.5 50h0M103.1 96.9h0M80.2 113.9h0M144.9 66.3h0M148.6 50.9h0" stroke="#0000ff" stroke-width="3.8" stroke-linecap="round" stroke-opacity="0.55" fill="none"/>
<path d="M143.4 53h0M126.2 79.7h0M119.7 83.9h0M79.4 101.3h0M96.4 96.7h0M106.1 80.7h0M156.6 27.5h0M148 54.7h0M123.4 62.3h0M94.3 108.8h0M127.7 66.8h0M156 38.5h0M99.8 73.8h0M137.2 59.8h0M132.5 53.9h0M101.8 96.4h0M147.1 54.2h0M88.6 99.1h0M153.4 40.5h0M103.4 93h0M115.3 89h0M125.7 54.4h0M105.3 99.8h0M116.2 64h0M147.4 47.1h0M81.7 115.6h0M141 44.1h0M107.4 87.2h0M83.5 95.4h0M103.1 84.3h0M86 113.4h0M95.7 89.3h0M97.5 103.3h0M120.1 65.2h0M155.5 24.6h0M97.3 110.8h0M126 64.5h0M149.2 39.5h0M143.6 55.2h0M83.7 144.2h0" stroke="#0000ff" stroke-width="3.8" stroke-linecap="round" stroke-opacity="0.55" fill="none"/>
<path d="M121.3 59.6h0M146.9 43h0M84.5 92.8h0M130.2 74.1h0M103.6 89.9h0M146.4 39.3h0M111.2 95.3h0M122.1 75.1h0M150.5 42h0M149.3 43.2h0M96.2 105h0M77 122.6h0M144.7 40.7h0M146.8 48.5h0M84.7 97.4h0M111.4 89.7h0M141 79.2h0M148.6 42.8h0M150 43.8h0M121.4 65.7h0M111 84.6h0M72.3 112.5h0M126.1 68h0M146.3 48.8h0M103.1 95.6h0M93 112.2h0M101.2 104.7h0M151 55h0M90 109.1h0M108.6 83.7h0M157.1 38.3h0M78.3 96.4h0M99.8 99.9h0M96.2 87.8h0M97.4 105.3h0M96.2 107.2h0M83.3 116h0M141 46.7h0M91.6 102.6h0M135.2 58.7h0" stroke="#0000ff" stroke-width="3.8" stroke-linecap="round" stroke-opacity="0.55" fill="none"/>
<path d="M113.8 79.4h0M106.1 103.5h0M134.7 60.5h0M121.2 89.8h0M101.3 101.6h0M113.7 71.5h0M140.8 48.6h0M122.8 73.8h0M79 123.4h0M142.1 53.9h0M90.9 101.1h0M87.1 114h0M121.4 70.3h0M99.6 100h0M111.1 79.3h0M139.7 55.3h0M80.6 116.3h0M141.1 59.5h0M156.6 29.9h0M152.4 58.7h0M136.9 43.4h0M144.8 58.3h0M87 115.3h0M113.8 99.1h0M126.5 67.3h0M99.9 96.2h0M101.7 92.2h0M148.6 37h0M100 102.3h0M127.2 64.1h0M116.6 68.3h0M146.1 36.2h0M91.6 84.2h0M107.1 82.1h0M155.5 33h0M95.2 94.6h0M148.8 51.9h0M141 75.7h0M98.9 79.3h0M97 96.5h0" stroke="#0000ff" stroke-width="3.8" stroke-linecap="round" stroke-opacity="0.55" fill="none"/>
<path d="M117.5 87.8h0M139 48.2h0M146.4 42.6h0M94.7 99.8h0M104.6 96.4h0M134.3 63.7h0M83.7 115.4h0M103.2 73.9h0M90.5 95.1h0M89 111.3h0M79 110.3h0M100.1 87.4h0M93.4 105.5h0M153 41.7h0M125.3 70.6h0M110 100.8h0M152.3 38.6h0M153.7 43.8h0M141 53.6h0M102.2 75.4h0M79.5 128.8h0M101.4 92.1h0M105.4 95.3h0M128.2 70.9h0M83.3 98.6h0M116.6 74.7h0M93.5 97.7h0M80.4 113.7h0M100.9 85.3h0M147.6 23.3h0M86.7 110.6h0M141.1 34.6h0M82.5 108.8h0M111.5 76.1h0M137.2 54.5h0M108.7 63.3h0M117.9 85h0M126.8 61.1h0M92.8 97.4h0M131.2 58.1h0" stroke="#0000ff" stroke-width="3.8" stroke-linecap="round" stroke-opacity="0.55" fill="none"/>
<path d="M103.6 103.1h0M112.9 77.3h0M140.9 63.5h0M105 91.6h0M99 91.2h0M96.9 101.9h0M113.5 81.6h0M75.7 127.4h0M87.4 108.7h0M148.4 55.1h0M92.7 119.1h0M86.7 103.6h0M97.9 114.6h0M143.6 49.9h0M152.6 62.2h0M122.9 90.8h0M150.3 27.1h0M104.2 87.1h0M92.6 119.3h0M147 43.4h0M110.6 97h0M95.9 98.3h0M98.5 104.7h0M100.6 89.1h0M90 103.9h0M139.9 55.6h0M118.3 86.5h0M90.3 112.9h0M99.8 94h0M110.9 99.9h0M81.7 128.8h0M106.3 84.7h0M101.7 104.7h0M130.3 70.7h0M150.8 36.5h0M87.9 107.6h0M100.7 69.1h0M147.8 55h0M84.8 86.7h0M130.9 58.3h0" stroke="#0000ff" stroke-width="3.8" stroke-linecap="round" stroke-opacity="0.55" fill="none"/>
<path d="M152.2 37.1h0M74.9 126.7h0M128.5 69h0M144.5 51.4h0M154.7 29.1h0M141.1 40.3h0M95 99.1h0M150.6 43h0M103.5 80.1h0M138.3 56.4h0M97 96.1h0M122.9 84.2h0M109.9 89.3h0M144.4 57h0M134.3 66.2h0M114 68.7h0M139.2 59.6h0M93.3 123.1h0M145.2 40.7h0M113.8 68.9h0M113.8 81.5h0M136.2 78.2h0M152.7 39h0M96.2 105.7h0M152 47.6h0M150.8 45.7h0M154.1 34.4h0M97.2 98.8h0M97.1 111.3h0M136.3 65.6h0M108.1 73.2h0M149.6 54.7h0M101.1 93.9h0M93.1 111.1h0M151.6 32.4h0M110.1 88.9h0M119.7 73.3h0M79.4 109.3h0M148.2 36.8h0M71.9 120.2h0" stroke="#0000ff" stroke-width="3.8" stroke-linecap="round" stroke-opacity="0.55" fill="none"/>
<path d="M81.8 110.1h0M151 52.7h0M74.1 122.6h0M132.7 47.9h0M147.4 60.4h0M133.2 57.5h0M108.4 98.1h0M89.4 121.6h0M108.8 80.3h0M124.8 63.9h0M93.8 107h0M91.8 101.7h0M116.3 82.8h0M93.3 93.7h0M86 110.5h0M113.6 82h0M114.9 105.9h0M124.2 70h0M92.7 118.3h0M104.9 116.4h0M105.3 86.2h0M130.1 59.9h0M147.4 55.2h0M107.2 81.6h0M154.2 39.9h0M109.2 85.4h0M72.4 130.8h0M97.4 97.5h0M139.6 41.4h0M90.2 104.6h0M137.9 56.6h0M105.3 85.7h0M107.7 85.5h0M73.6 128.8h0M85.8 84.3h0M141.6 41.1h0M143 58h0M151.6 40.3h0M89.6 82.5h0M130.6 78h0" stroke="#0000ff" stroke-width="3.8" stroke-linecap="round" stroke-opacity="0.55" fill="none"/>
<path d="M147.9 43.1h0M147.4 44.3h0M116.8 74.9h0M144.3 51.2h0M89.7 98.1h0M84.2 114.7h0M153.8 40.4h0M159.6 29.8h0M77.3 117h0M113 86.7h0M119.5 58.4h0M93.2 105.3h0M98 90.5h0M103.4 92.4h0M84.3 107.7h0M141.7 50.7h0M97.6 103.7h0M111.5 91h0M124.5 71.6h0M123.9 69.6h0M91.9 109.4h0M100.5 93.5h0M80.1 117.5h0M125.4 65.9h0M108.9 101h0M119.2 79.1h0M140.3 50.7h0M143.5 46.2h0M139.7 49.2h0M117.9 77.6h0M118.5 73.6h0M133.8 60.6h0M89.3 113h0M135.4 53.1h0M105.6 91.1h0M142.3 54.6h0M123.9 66.9h0M121.9 110.7h0M106.8 80.4h0M134.6 61h0" stroke="#0000ff" stroke-width="3.8" stroke-linecap="round" stroke-opacity="0.55" fill="none"/>
<path d="M146.6 43.2h0M81.1 114.5h0M93.1 100h0M92.5 107.4h0M116.5 73.6h0M98 97.8h0M96.3 96h0M146.5 45.4h0M105.6 94.3h0M142.4 52.2h0M84.2 114.4h0M100 86.6h0M75.7 121h0M113.8 85.3h0M124.5 81.7h0M128.8 66.1h0M137.9 56h0M117.6 86.6h0M88.8 100.2h0M150.9 41.4h0M113.3 92h0M145.5 42.6h0M121.3 70.9h0M160.1 42h0M91.9 121.6h0M109 76.3h0M98.6 104.6h0M114.8 79.7h0M107.3 81.4h0M106.2 82.9h0M85.3 123.1h0M106.9 82.4h0M117.7 86.2h0M130.3 58.9h0M101.7 100.1h0M102.9 94h0M93.5 92h0M75.2 127.3h0M107.1 94.1h0M88.1 108.5h0" stroke="#0000ff" stroke-width="3.8" stroke-linecap="round" stroke-opacity="0.55" fill="none"/>
<path d="M121 66.4h0M106 81.2h0M90.3 107.4h0M96.8 98.8h0M152.6 48.3h0M130.4 67.5h0M101.6 97h0M104.8 103.9h0M127.4 57.9h0M125.4 79h0M96.8 105.5h0M121.6 73.7h0M143.7 42.9h0M119.5 77.7h0M140.1 67h0M139 61.5h0M107.6 81.5h0M105.5 76.4h0M138 53.7h0M102.6 89.8h0M97.6 96.9h0M83.8 81.7h0M94.3 107.5h0M91.7 124.3h0M98.9 74.4h0M80.1 104.5h0M95.5 98.5h0M107.9 88.1h0M86.1 105.6h0M84.8 112.3h0M95.6 93h0M140.8 53h0M128.2 56.4h0M132.2 68.2h0M142.6 57h0M149.1 44.4h0M111.2 123h0M139.3 49.1h0M87.1 111.9h0M144.7 46.6h0" stroke="#0000ff" stroke-width="3.8" stroke-linecap="round" stroke-opacity="0.55" fill="none"/>
<path d="M106.1 86.9h0M137 68.4h0M90.9 105.5h0M86.6 104.4h0M77 116.7h0M107.6 75.7h0M79.6 114.9h0M151.1 46.3h0M106.2 86.7h0M138.6 57.9h0M91.8 103.5h0M136.1 52.1h0M129.4 85.4h0M89.4 104.6h0M133.1 58h0M88.7 107.7h0M103.7 99.9h0M91.6 105.2h0M116.8 83h0M143.1 51.9h0M133 69.3h0M137 62.5h0M121.8 71.1h0M125.6 76.3h0M111.9 80.8h0M123.2 57.1h0M89.5 98.2h0M93.3 102.5h0M101.3 92.5h0M149.2 40.6h0M97.2 97.3h0M94.2 100h0M96.2 111.5h0M98.2 76.1h0M112.5 80.9h0M114.8 78.8h0M77.2 123.3h0M99.4 98.9h0M135.5 60h0M144 29.5h0" stroke="#0000ff" stroke-width="3.8" stroke-linecap="round" stroke-opacity="0.55" fill="none"/>
<path d="M87.4 114h0M150.7 36.5h0M82.5 104.6h0M152.8 42.5h0M135.9 50.1h0M86.5 111.3h0M132.3 51.5h0M120.7 80.1h0M97.2 99h0M148.1 48.2h0M154.8 51.6h0M90.9 107.1h0M79.9 105.2h0M82.8 109.4h0M152.2 57.1h0M144.8 61.3h0M116.8 69.3h0M89.9 104.2h0M111.3 83.3h0M110.4 76.4h0M143.3 49h0M128.7 66.8h0M106 103.2h0M95.5 98.9h0M164.9 24.7h0M88.2 113.1h0M105.3 125.9h0M105.4 100.3h0M144.9 29.8h0M144.2 47.8h0M76.5 140.9h0M94.5 95.2h0M87.4 115.4h0M154.6 41.5h0M104 82h0M122.7 64.7h0M90.9 104.5h0M94.2 99.5h0M87.4 120.3h0M130.3 77.3h0" stroke="#0000ff" stroke-width="3.8" stroke-linecap="round" stroke-opacity="0.55" fill="none"/>
<path d="M154.2 42.2h0M144.5 51h0M87.6 107.8h0M98.3 62.9h0M103 94h0M144.1 53.8h0M82.9 113.1h0M88.5 102.9h0M144.2 22.8h0M143.7 47.3h0M133.7 57.1h0M105 83.6h0M91.4 92.8h0M97.9 103.3h0M91.7 100.7h0M119.8 71.9h0M90.6 114.1h0M147.2 38.6h0M130.5 50h0M137.2 47.5h0M98.2 97.2h0M123.2 84.9h0M149.8 55.2h0M86.6 118.5h0M115.8 110.1h0M114.8 77.5h0M146.4 58.9h0M114.7 81.3h0M117.5 69.2h0M134.3 52.3h0M96.6 103.8h0M134.8 76.8h0M129.2 63.7h0M77.3 123.1h0M142.7 50.5h0M101.1 98h0M91 102.3h0M82.8 121.9h0M111.8 114h0M111.5 86.5h0" stroke="#0000ff" stroke-width="3.8" stroke-linecap="round" stroke-opacity="0.55" fill="none"/>
<path d="M100.2 97.5h0M98.7 87.3h0M100.6 110.6h0M111.4 75.5h0M140.3 60.1h0M119 83h0M130.8 54.6h0M79.8 113.9h0M147.9 38.2h0M85.7 108.8h0M131.8 50h0M128.6 71.7h0M73.9 116.9h0M140.6 45.3h0M134.3 80.3h0M109.9 87.8h0M98.4 91.4h0M104.6 82.3h0M154.2 45.8h0M154.7 29h0M145.7 50.9h0M113.4 77.9h0M82.1 87.3h0M90.2 105.7h0M90.9 103.8h0M152.9 32.7h0M92.7 101.7h0M108.1 61.8h0M102.4 87.6h0M118.9 58.2h0M110.4 99.7h0M88.9 101.8h0M133.7 66.7h0M96.8 106.2h0M101.6 69.7h0M111.7 94.3h0M150 49.3h0M91.6 109.1h0M143.6 53.3h0M93.9 83.6h0" stroke="#0000ff" stroke-width="3.8" stroke-linecap="round" stroke-opacity="0.55" fill="none"/>
<path d="M84.6 107.7h0M146.7 48.2h0M95.9 111.3h0M125.8 65.9h0M107.4 86.4h0M120.6 71.8h0M90.5 121.3h0M139.9 61.3h0M79.8 106.5h0M143.6 43.9h0M131.7 74.6h0M97.7 105.9h0M134.5 55.1h0M89.9 99.7h0M144 44.7h0M112.6 60.7h0M118.1 75.3h0M74.5 110h0M100.6 98.6h0M148.8 33.2h0M128.2 65h0M83.9 115.3h0M128.9 59h0M119.4 71h0M108.5 81.5h0M93.5 102.8h0M145.9 69.3h0M101.6 88.4h0M151.4 49h0M124.1 58.2h0M78.8 102.5h0M135.3 46.1h0M143.3 53.4h0M136.3 48h0M144.2 43.8h0M74.8 114.4h0M122.4 73.9h0M94 102.7h0M85.3 114.2h0M147.3 43.5h0" stroke="#0000ff" stroke-width="3.8" stroke-linecap="round" stroke-opacity="0.55" fill="none"/>
<path d="M149 43.6h0M87 115.5h0M152.6 47.8h0M113.9 89.4h0M104.1 93.9h0M99.1 107.9h0M95.9 100.7h0M116.4 73.9h0M114.3 60.5h0M100.2 89.2h0M106.7 84.4h0M137.4 42.1h0M88.4 119.5h0M144.3 52.1h0M109 86.6h0M103.4 97.4h0M118 68.4h0M91.9 105.6h0M153.3 48.3h0M94.7 91.9h0M81.4 114.9h0M131 69h0M80.8 129.1h0M107 84.7h0M115.7 76.9h0M89.4 96.9h0M75.6 117.7h0M106.9 89h0M142.2 50.2h0M138.5 61.6h0M81 124.7h0M123.2 73.4h0M77.8 115.7h0M109.6 82.4h0M84.6 122.5h0M142.9 35.1h0M96.3 101.5h0M116.8 68.3h0M90.4 90.8h0M89.2 100.7h0" stroke="#0000ff" stroke-width="3.8" stroke-linecap="round" stroke-opacity="0.55" fill="none"/>
<path d="M130 67.7h0M99.1 85.2h0M81.3 131.8h0M99.7 115.8h0M136.2 63.3h0M141 51.3h0M106.8 91.2h0M116.3 72.8h0M97.9 109.7h0M98.9 97.5h0M139.3 68h0M111.8 89.8h0M92.2 98.9h0M113.8 82.9h0M84.4 119.6h0M97 96.4h0M95.6 101.8h0M116.9 76.5h0M124.4 66.3h0M81 136.9h0M142.9 38.8h0M100.3 94.5h0M155.4 39.6h0M131.5 67h0M150.8 52.7h0M94.4 106.3h0M130.3 76.8h0M90.4 76.3h0M115.8 79.3h0M115.2 75.8h0M103.4 114.5h0M104.7 79.4h0M88.8 113.5h0M142.4 53.3h0M92.1 105.5h0M128.3 69.7h0M144.5 44.4h0M94.9 126h0M108.8 84.2h0M116.7 72.7h0" stroke="#0000ff" stroke-width="3.8" stroke-linecap="round" stroke-opacity="0.55" fill="none"/>
<path d="M144.1 44.8h0M79 135.3h0M136.8 61.6h0M85.4 115.8h0M148.4 41.1h0M100.5 99.8h0M133.8 45.3h0M118.6 77.1h0M104.5 88.3h0M101.2 85.8h0M106.7 96.4h0M91.1 95.5h0M100.9 84.5h0M122.6 75.5h0M74.2 119.1h0M132.6 60.5h0M104.5 84.3h0M94 96.3h0M89.7 85.2h0M152.8 54.4h0M151.3 53.5h0M105.3 87.4h0M141.1 59.6h0M139.7 50.2h0M140.4 45.6h0M85.2 121.9h0M83.8 106.7h0M90.8 108.5h0M105.2 92.2h0M150.6 45.6h0M100.9 83.5h0M137 53.6h0M130.5 81.4h0M81.3 110.5h0M114 74.9h0M109.4 89.7h0M92.2 109.4h0M103.9 105h0M100.2 95h0M145.9 58.4h0" stroke="#0000ff" stroke-width="3.8" stroke-linecap="round" stroke-opacity="0.55" fill="none"/>
<path d="M131.4 69.9h0M107.3 72.3h0M78.5 120.4h0M97 119.1h0M135.4 63.4h0M138.6 51.6h0M122.4 80.8h0M124.6 52.4h0M117.7 72.7h0M85.8 116.4h0M131.3 48h0M91.2 108.1h0M135.2 65h0M129 63h0M91.5 124.4h0M113 100.3h0M120.7 72.1h0M110.9 69h0M146.5 49.5h0M141.4 33.4h0M147.9 60.6h0M101.8 54.3h0M130.4 73.8h0M147.1 36.9h0M147.6 47.7h0M106 103.6h0M115.2 82.3h0M93.2 103.3h0M138.8 46.5h0M104.4 85.3h0M115.9 87h0M107.5 65.8h0M131.4 63.2h0M101.6 94.3h0M151.1 44.6h0M116.5 96.9h0M134 54.2h0M81.4 128.3h0M88.5 106.3h0M95.2 110.4h0" stroke="#0000ff" stroke-width="3.8" stroke-linecap="round" stroke-opacity="0.55" fill="none"/>
<path d="M128.8 66.8h0M140.6 52.5h0M132.8 55.7h0M153.5 36h0M110.7 80.7h0M83.4 115.4h0M96.1 99.3h0M128.8 68.9h0M108.5 102.8h0M118.4 80.9h0M76.3 102.7h0M124.6 61h0M122 70.8h0M113.6 50.2h0M150.9 42h0M117 77.1h0M129.9 59h0M86.1 113.1h0M143.4 50.9h0M135.1 64.2h0M152.2 47.9h0M98 95.3h0M119.9 75.3h0M134.1 31.5h0M127.3 73h0M102.3 90.8h0M92.7 94.4h0M120.7 67.9h0M105.4 94.9h0M115.4 77.9h0M150.5 42.6h0M91.3 110.2h0M152.5 25.3h0M149.7 34.1h0M155.9 51h0M88.3 112.8h0M142.2 41.6h0M107.8 118.9h0M90.6 107.9h0M111.2 84.6h0" stroke="#0000ff" stroke-width="3.8" stroke-linecap="round" stroke-opacity="0.55" fill="none"/>
<path d="M153.4 49.9h0M106.1 91.9h0M98.1 99h0M80 121.6h0M151.2 41.5h0M128.6 70.5h0M131.9 52.1h0M105.1 97.9h0M91.8 111.4h0M92.6 96.4h0M156.1 29.3h0M140 60.4h0M90.9 97.6h0M99.7 102.8h0M122.4 87.8h0M108.5 94.8h0M126 77.6h0M125.4 67.7h0M114.3 79.4h0M97.4 106.6h0M83.6 98.3h0M112.6 84.6h0M134.5 36.7h0M88.8 105.9h0M83.5 111.2h0M140.8 43.7h0M103.2 90h0M136.8 50.5h0M96.4 96.5h0M106.9 77.1h0M94.5 117.6h0M153.3 41h0M97.8 91.9h0M144.1 54.9h0M138.5 54.7h0M116.6 77.5h0M146.1 40.8h0M130.3 78.6h0M117.4 86.1h0M99.9 95.3h0" stroke="#0000ff" stroke-width="3.8" stroke-linecap="round" stroke-opacity="0.55" fill="none"/>
<path d="M96.8 102.1h0M103.1 86.3h0M148.3 41.2h0M95.5 102.5h0M99.6 99.8h0M106.6 89.5h0M90.7 105.4h0M99 86.9h0M141.2 73h0M95.9 100.4h0M95.3 96.6h0M91.8 101.1h0M92.5 83.6h0M98.9 96.5h0M100.5 102.7h0M128.3 71.7h0M114.4 93.4h0M115.5 85.1h0M141.1 43.9h0M122.5 81.2h0M97.2 99h0M108 86.2h0M149.1 44.4h0M87.7 108.6h0M102.2 70.5h0M99.1 90.8h0M92.4 112.5h0M109.8 80.6h0M108.7 85.5h0M88.9 103.2h0M159.3 38.1h0M96.7 109.3h0M146.6 50.8h0M146.3 48.6h0M84.7 108.3h0M132.2 66.3h0M88.8 116.7h0M122.4 70.7h0M109.4 91.2h0M119.1 83.6h0" stroke="#0000ff" stroke-width="3.8" stroke-linecap="round" stroke-opacity="0.55" fill="none"/>
<path d="M91.6 83.2h0M143.3 51.9h0M101.6 104.8h0M132.4 64.4h0M121.6 67.8h0M111.6 78.5h0M158.8 34.3h0M104.2 87h0M94.4 96.8h0M153.5 55.6h0M146.9 45.4h0M90.9 126.1h0M95.6 100.6h0M147 46.5h0M92 105.4h0M104.2 90.9h0M98.2 99.2h0M129.2 60.8h0M114.5 89.2h0M105.2 99.5h0M100.9 89.1h0M151.9 34h0M136.6 39.5h0M115.8 85.4h0M128.3 58.4h0M154.7 44.9h0M93.6 113.9h0M125.9 71.2h0M125.5 74.7h0M111.3 73.1h0M87.3 85.9h0M112.4 53.6h0M154.3 52.6h0M92.8 113.2h0M141 48.4h0M88.8 99.1h0M80.2 114.3h0M105.8 70.6h0M134.8 45.3h0M115.8 84.9h0" stroke="#0000ff" stroke-width="3.8" stroke-linecap="round" stroke-opacity="0.55" fill="none"/>
<path d="M122.7 77.1h0M95 103.7h0M79 123.7h0M134 68.8h0M83 114.3h0M144.5 49.3h0M94.3 106.5h0M92.6 102.4h0M106.7 79.6h0M98.3 101.4h0M153.7 48.6h0M112.9 79.7h0M145.6 40.4h0M94.7 112.2h0M129.1 51.6h0M126.2 72.2h0M102.9 90.4h0M135.5 56.7h0M100.7 70.7h0M145.3 47h0M113.7 79.6h0M107.2 73.9h0M83 117.3h0M92.4 114.9h0M98.7 117h0M147.6 53.9h0M89.7 119.2h0M71.8 127.8h0M104.6 96.8h0M105.6 98h0M90.6 106h0M114.2 81.8h0M152.7 52.5h0M90.8 98.8h0M143.5 41.9h0M107.1 89h0M130.7 71.2h0M99.9 94.1h0M145 27.7h0M129.6 64.5h0" stroke="#0000ff" stroke-width="3.8" stroke-linecap="round" stroke-opacity="0.55" fill="none"/>
<path d="M103.3 94.6h0M94.1 89.2h0M95.7 90.7h0M75.8 131.5h0M125.2 49.5h0M79.5 142.8h0M140.4 60.7h0M115.1 73.4h0M155.9 51.4h0M101.6 127.8h0M72.1 111.3h0M77.9 124.1h0M144.3 53.7h0M80.4 109.5h0M131.4 75.1h0M92.9 118.3h0M149.3 54.9h0M121.9 77.4h0M102.8 98.9h0M129 58.2h0M117.1 76.5h0M97.7 125.8h0M99.1 104.6h0M105.2 83.1h0M150.1 58.7h0M138 47.4h0M100.7 79h0M90.3 99.6h0M99.7 86.9h0M105.4 87.4h0M86.7 106.3h0M83 115.7h0M82.5 117.9h0M144.7 72.4h0M139.1 43.6h0M156.9 32.8h0M110.3 83h0M150.4 33h0M117 83h0M81.3 120.4h0" stroke="#0000ff" stroke-width="3.8" stroke-linecap="round" stroke-opacity="0.55" fill="none"/>
<path d="M115.7 31.5h0M107.9 43h0M117.7 43.6h0M111.3 46h0M110.4 48.8h0M112.1 55.1h0M120.9 47.8h0M139.7 28h0M135.9 38.4h0M137.6 44.7h0M118 52h0" stroke="#0000ff" stroke-width="3.8" stroke-linecap="round" stroke-opacity="0.55" fill="none"/>
</g><g clip-path="url(#cb)">
<path d="M315.2 73.1h0M305.2 96.5h0M285.4 115.6h0M299.5 82.9h0M293.6 92h0M300.9 87.8h0M357.4 28.1h0M284.2 118.7h0M339.1 55.1h0M321 52.5h0M298.1 100.8h0M307.4 81.7h0M322 67.3h0M302 78.8h0M300.3 94.3h0M327.4 65.7h0M290.3 79.7h0M316.3 67.4h0M275 104.5h0M291.3 89.1h0M301.2 104.4h0M304 78.1h0M328.4 48.1h0M304.4 81.1h0M278.8 77.3h0M300.2 99.7h0M307.2 68.5h0M286.9 90.6h0M291.1 91.6h0M332.1 57.1h0M342.4 45.5h0M334.7 63h0M305.1 79.9h0M298.7 84.3h0M281.2 92.1h0M313.1 43.4h0M328.9 58.2h0M303.5 84.9h0M321.2 77.1h0M325.2 83.7h0" stroke="#ff0000" stroke-width="3.8" stroke-linecap="round" stroke-opacity="0.55" fill="none"/>
<path d="M304.7 69.8h0M293.8 130.6h0M337.6 20.4h0M320.9 54.8h0M298.2 98.3h0M310.9 60h0M293.1 75.4h0M306.9 83.5h0M310.1 71.1h0M304.4 70.9h0M287.8 113.3h0M307.1 67.8h0M309.9 87.7h0M294.9 117.8h0M295.8 94.1h0M332.5 46.3h0M257.4 103.4h0M335.7 24.8h0M332.9 45.1h0M316.8 65h0M321.2 84.6h0M317.2 56.7h0M297.5 74.9h0M275.1 90.5h0M287.1 91.4h0M295.1 102.3h0M274.9 113.4h0M295.9 86.8h0M329.4 47.1h0M317 54.9h0M340.5 46.6h0M271.5 114.5h0M325.6 109.6h0M292.9 84.3h0M270.8 115h0M284.6 93.2h0M329.9 71.5h0M292.2 94.1h0M324.4 74.2h0M286 79h0" stroke="#ff0000" stroke-width="3.8" stroke-linecap="round" stroke-opacity="0.55" fill="none"/>
<path d="M319.4 74.7h0M318.9 45.6h0M292.8 103.9h0M314.5 27.2h0M304.7 45.6h0M334.5 39.6h0M355 40h0M337.7 81.3h0M283.4 105.7h0M282.5 78.5h0M333.1 63.8h0M286.2 94.3h0M284 89.8h0M280.9 103.2h0M301.3 84.6h0M323.3 83.4h0M277.5 87.2h0M277.6 114.2h0M287.5 103.5h0M277.1 102.4h0M301.4 46.8h0M310.2 72.5h0M274.6 121.1h0M293.4 90.4h0M303.2 77.4h0M313.4 59h0M300.3 99.9h0M307.1 77.8h0M311.9 84.5h0M316.5 78.1h0M350.5 38.3h0M268.6 117.5h0M284.8 105.4h0M281.2 117.3h0M311.4 73.4h0M323.4 42h0M336.7 54.3h0M286.6 121.2h0M306.4 84.7h0M280.6 122.1h0" stroke="#ff0000" stroke-width="3.8" stroke-linecap="round" stroke-opacity="0.55" fill="none"/>
<path d="M284.4 112h0M302.6 93.4h0M292.6 79.8h0M332 72.4h0M307.5 50.6h0M289.9 103.6h0M311.6 72.1h0M323.5 86.2h0M324.2 60.3h0M268.6 95.9h0M322.7 58.3h0M316.8 91h0M312 75.8h0M286.2 96.3h0M300.3 91.1h0M287.8 105.8h0M321.7 68h0M321.4 87.1h0M333.6 52.5h0M318.5 51.6h0M285.2 95.4h0M290.9 103.6h0M284.6 92.9h0M282.5 90.1h0M326.1 56.5h0M287.1 111.7h0M326 67.7h0M288.3 111.6h0M306.7 86.2h0M279.4 105.5h0M347.9 37.2h0M352.3 37.8h0M313.2 49.3h0M321.3 88h0M352.9 33.6h0M312.7 50.6h0M285.7 111.8h0M329.7 38.9h0M288.8 93h0M319.4 40.6h0" stroke="#ff0000" stroke-width="3.8" stroke-linecap="round" stroke-opacity="0.55" fill="none"/>
<path d="M283.4 87.8h0M326 43.7h0M317.3 66.5h0M298.6 101.6h0M323.3 75.4h0M278.3 95.3h0M270.3 97.1h0M337.1 53.4h0M306.5 86.7h0M261.6 114.1h0M335.4 59.4h0M345.1 40.1h0M329.4 55.6h0M279.4 114.5h0M282.8 83.5h0M278.5 107.4h0M344.3 49.3h0M307.1 86.9h0M320.7 65.8h0M307.8 86.6h0M314.3 73.2h0M302.5 83.4h0M308.2 74.8h0M291.5 108.9h0M300.1 73.3h0M304.4 75.9h0M326.6 72.5h0M283.3 103.4h0M278.4 86.9h0M300 84.5h0M315.3 99.7h0M304.6 80.6h0M301.8 93h0M302.7 78.1h0M262.9 118.3h0M344.6 52.6h0M344.6 31.9h0M287.4 83h0M314.3 81.7h0M315 90.4h0" stroke="#ff0000" stroke-width="3.8" stroke-linecap="round" stroke-opacity="0.55" fill="none"/>
<path d="M313.3 90.2h0M328.3 48.2h0M310.9 74.9h0M283.1 113.9h0M307.1 94.6h0M304.9 88h0M316.7 72.4h0M310 89h0M329.4 23.1h0M280.6 118.5h0M318.8 76h0M308.2 73.4h0M322.8 68.4h0M293.1 90.4h0M271.8 114.8h0M330.3 48.6h0M320 62.5h0M338.9 41.9h0M343.2 27.1h0M277.2 116.1h0M308.6 106.8h0M344.2 58.2h0M281 108.2h0M321.3 81.6h0M336.6 36h0M273.6 94.3h0M283.7 106.5h0M271.6 117.1h0M338.5 54h0M300 101.5h0M337 48h0M336.4 63.1h0M313 76h0M299 82.4h0M356.5 49.9h0M314.2 77.7h0M308.3 86.4h0M294.4 85.6h0M313.6 73.2h0M342.4 26.3h0" stroke="#ff0000" stroke-width="3.8" stroke-linecap="round" stroke-opacity="0.55" fill="none"/>
<path d="M322.6 55h0M294 68.1h0M294.4 98.5h0M329.9 48.5h0M274.2 102.2h0M260.2 109.5h0M323.3 59.8h0M306 83.7h0M350.6 48.4h0M287.1 105h0M301.7 73.3h0M288.8 137.1h0M301 72.5h0M295.5 79.2h0M289.8 79.8h0M279 109.2h0M332.7 55.4h0M321 69.2h0M301.2 84.2h0M305.5 49.2h0M314.7 69.8h0M334.9 68.9h0M261.3 132.5h0M264.7 107.5h0M287.1 93h0M304.1 87.4h0M269.2 115.6h0M274.2 90.9h0M309.8 72.2h0M322.8 62.1h0M343.6 57.1h0M312.1 63.7h0M326.1 64.4h0M305.6 71.7h0M294.4 116.4h0M296.8 104.3h0M336.5 53h0M318.6 82.5h0M311.5 78.1h0M320.8 72.6h0" stroke="#ff0000" stroke-width="3.8" stroke-linecap="round" stroke-opacity="0.55" fill="none"/>
<path d="M296.6 102.4h0M346.5 35.9h0M330.6 56.6h0M318 81.9h0M323.8 67.4h0M299 92.8h0M281 104.4h0M303.7 82h0M330.1 23.3h0M275.9 127.8h0M354.9 24.8h0M276.6 134.2h0M330.2 59h0M284.6 103.3h0M259.4 117.2h0M273.6 119.8h0M287.3 90.1h0M317.9 55.9h0M324 59.1h0M309.4 64h0M320.5 68.5h0M307.4 90.9h0M328.4 50.5h0M322.8 62.8h0M347.3 44.7h0M334 53.6h0M293.9 70.3h0M326 55.2h0M278.7 101.5h0M281.4 110h0M274.7 93.4h0M273.2 116.9h0M349.8 42.3h0M344.6 43.4h0M327.1 50.6h0M322.8 74.6h0M299.6 103h0M282.8 124.4h0M297.7 89.1h0M276.7 108.1h0" stroke="#ff0000" stroke-width="3.8" stroke-linecap="round" stroke-opacity="0.55" fill="none"/>
<path d="M290 135.3h0M269.1 122.2h0M289.2 89h0M289.4 84.5h0M269.3 115.9h0M284.1 93.6h0M309.1 82.3h0M290.7 101.4h0M273.5 113.5h0M305.1 75.2h0M300.6 75.9h0M305.5 103.5h0M301.1 86h0M318.4 57.3h0M288.7 100.1h0M277.3 98.8h0M285.3 103h0M305.7 80h0M310 47.6h0M256.9 121.3h0M320.6 45.3h0M287 98.4h0M286.5 82.5h0M325.4 55.6h0M289.9 96.3h0M309.4 84.3h0M292.2 103.8h0M312.5 80.3h0M344.1 35.2h0M325.6 69.4h0M334.4 64.3h0M316.3 88.8h0M291.7 106.3h0M328.2 65h0M306.4 77.6h0M300.2 78.2h0M292 119.2h0M330 50.5h0M264 131.5h0M272 113.8h0" stroke="#ff0000" stroke-width="3.8" stroke-linecap="round" stroke-opacity="0.55" fill="none"/>
<path d="M298.9 95.8h0M317.7 54h0M321.3 65.7h0M276.5 104.4h0M311.3 88.3h0M304.9 81.7h0M325.7 62.9h0M327.7 44.5h0M332.1 36.8h0M348.4 38.7h0M320.7 52.3h0M360.3 24.7h0M345.2 32.3h0M349.4 44.8h0M321.7 81.8h0M311.6 81.6h0M273.6 106.1h0M337.3 55h0M302.4 91.8h0M333 46.1h0M296.6 95.5h0M305.3 94.4h0M357 25h0M294.6 81.6h0M270.4 114.7h0M291.9 108.5h0M310.3 81.5h0M313.8 65.8h0M301 92.6h0M334.2 47.3h0M335.6 38.1h0M335.6 42.1h0M335.5 29.8h0M288.9 82.5h0M321.4 72.6h0M292 78h0M301.6 80.1h0M330.7 55.7h0M295 93.4h0M302.5 96.4h0" stroke="#ff0000" stroke-width="3.8" stroke-linecap="round" stroke-opacity="0.55" fill="none"/>
<path d="M348.8 29.6h0M281.1 117.5h0M289.5 79.4h0M324.8 73.5h0M269 129h0M322.2 59.2h0M329.5 75.6h0M316 66.3h0M293.2 100.9h0M293.5 93.9h0M322.5 55.4h0M307.7 77.4h0M274 110.3h0M296.1 81.2h0M295.8 93.8h0M341.7 86.9h0M324.3 64.6h0M310.1 83.5h0M342.7 41.8h0M296.7 99.8h0M336.9 37.3h0M285.5 96.7h0M348.1 55.8h0M318.8 51.6h0M342.3 37.8h0M304.9 91.9h0M289.2 100.9h0M321.5 50h0M328.8 57.5h0M303.1 91.1h0M296.7 78.2h0M274.6 116.2h0M300.5 92.6h0M335.2 25.5h0M334.6 60.9h0M298.4 104.6h0M293 80.1h0M309.6 62.6h0M304.9 80.6h0M313.8 59h0" stroke="#ff0000" stroke-width="3.8" stroke-linecap="round" stroke-opacity="0.55" fill="none"/>
<path d="M290.7 110.3h0M309.1 74.9h0M318.4 56.3h0M283.9 97.6h0M335.8 56.7h0M336 46.6h0M289.1 108.7h0M300.3 86.1h0M343.9 51.5h0M275.9 99.4h0M331.1 66.1h0M320.8 56.2h0M310.4 75.6h0M306 84.2h0M337.8 59.1h0M312 55.7h0M319.6 75.5h0M273.4 111.3h0M318.2 80.2h0M296.4 99.9h0M302.8 83.1h0M343 81.2h0M344.1 29.8h0M280.2 98.3h0M323 64.2h0M306.3 76.4h0M353.5 27.9h0M327.6 75.7h0M303.5 90.1h0M310.7 67.8h0M309.2 65.9h0M320.7 75h0M263.5 118.5h0M296.8 114.3h0M272 130.7h0M321.6 78h0M303.9 62.8h0M316.6 73.3h0M334.4 63.9h0M324.1 70.9h0" stroke="#ff0000" stroke-width="3.8" stroke-linecap="round" stroke-opacity="0.55" fill="none"/>
<path d="M347.8 45.1h0M292 101.4h0M293.1 92.1h0M324.9 104.8h0M299.6 105.5h0M305.1 88.1h0M331 46.4h0M311.4 79.8h0M335.4 46h0M307.7 75.1h0M359.9 36.6h0M318.6 31h0M308.3 86.3h0M348.3 45.4h0M298.5 119.5h0M299.6 81.7h0M328.2 75.6h0M290.2 93.9h0M332.6 63.2h0M326.9 62.7h0M285.7 90.8h0M339.9 41.4h0M347.7 87.5h0M293.7 93.7h0M298.5 100.7h0M316.7 60.2h0M306.8 73.4h0M334.5 60.3h0M311.1 58.3h0M299.3 89.3h0M325.1 86h0M327.8 62h0M334 73.4h0M319.1 68.3h0M342.1 20.4h0M333.7 42.7h0M345.4 41.8h0M266.4 122.6h0M332.4 44.6h0M276.8 114.3h0" stroke="#ff0000" stroke-width="3.8" stroke-linecap="round" stroke-opacity="0.55" fill="none"/>
<path d="M299.4 71.5h0M282 113.7h0M312.1 55.6h0M269.6 105.2h0M318.4 66.2h0M302.9 63.3h0M340.3 63.4h0M320.7 58h0M305.7 72.1h0M287.6 94.5h0M306.2 89.9h0M354.3 20.6h0M294.3 99.9h0M321.9 33.6h0M306.3 88.7h0M286.4 89.5h0M320.5 80.3h0M345.9 38.3h0M334.9 19.1h0M289.7 100.2h0M265.4 105.1h0M328 38h0M343.9 44h0M320.8 76.1h0M304.5 89.4h0M330.3 51.9h0M315.1 79.7h0M319 68.9h0M317.1 68.3h0M278.8 83.4h0M323.8 59.4h0M305 85.4h0M314.1 77h0M305.9 90.6h0M299.9 104.9h0M283.2 114.7h0M284 96.2h0M323.5 68.8h0M314.5 65.1h0M332.9 51.3h0" stroke="#ff0000" stroke-width="3.8" stroke-linecap="round" stroke-opacity="0.55" fill="none"/>
<path d="M303.3 75h0M324.6 63.4h0M322.1 62h0M263.3 111.6h0M306.2 90.1h0M289 99h0M365.2 20.1h0M326.3 53.7h0M332.1 39.5h0M287.8 94.5h0M301.5 71.9h0M262.8 115.6h0M307.3 84.2h0M305.3 62.3h0M322.4 64.1h0M317.7 73.4h0M324.7 64.7h0M299.6 89.6h0M343.8 27.2h0M323.8 33.7h0M300 75.2h0M340.8 45.3h0M284.3 96.1h0M340.4 39.7h0M346.5 61.4h0M305.9 82.5h0M289.4 87.6h0M312.5 65.6h0M333.2 41.5h0M325 62.1h0M275.8 106.6h0M316.2 69.2h0M327 51.6h0M288.6 114h0M316.8 59.1h0M344.1 60.7h0M279 119.1h0M295.6 110.9h0M290.4 93.8h0M281.1 114.5h0" stroke="#ff0000" stroke-width="3.8" stroke-linecap="round" stroke-opacity="0.55" fill="none"/>
<path d="M324.6 52.8h0M298.6 96.7h0M335.4 55.3h0M314.7 79.2h0M310 83.2h0M271.6 122.2h0M289.9 94.9h0M285.3 87.7h0M338.6 67.5h0M321.7 81.8h0M304.5 64.1h0M292.3 95.6h0M329.7 58.9h0M288.3 85.8h0M292.2 93.2h0M300.6 82.6h0M327.5 61.8h0M295.1 93.1h0M324.7 70.1h0M295.1 82.7h0M288.7 87.6h0M337.7 62.3h0M268.3 109h0M346.8 50.1h0M260.5 130.9h0M295.2 100.1h0M325.2 57.7h0M341.1 79.3h0M285 116.2h0M292.4 104.5h0M300.7 95.7h0M302.7 106.6h0M325.5 68h0M281.3 102.7h0M332.5 45.5h0M315 104.7h0M331.8 49h0M294.7 107.1h0M299.1 82.8h0M284 91.4h0" stroke="#ff0000" stroke-width="3.8" stroke-linecap="round" stroke-opacity="0.55" fill="none"/>
<path d="M298.9 73.5h0M274.7 106.4h0M300 97h0M303.7 105.1h0M307.7 92.9h0M302.6 91.4h0M336.5 63.7h0M268.8 108.9h0M327.4 58.6h0M314 77.8h0M312.1 81.9h0M311.4 79.4h0M345.8 39.9h0M282.2 99.9h0M335.2 48.9h0M289.5 77h0M316.4 72.1h0M307.6 71.1h0M326.6 80h0M265.7 136.3h0M274.2 89.9h0M304.8 92.6h0M325.1 50.9h0M280.8 100.4h0M282.9 85.1h0M293.9 92.2h0M302.1 84h0M314.5 83.5h0M297 99.1h0M305.2 87.1h0M321.6 40.6h0M338 60.5h0M312.5 84.1h0M291.2 94.2h0M308.8 85.8h0M288.3 102.5h0M357.3 36.5h0M325.9 53.1h0M289.1 93.3h0M328.4 45.2h0" stroke="#ff0000" stroke-width="3.8" stroke-linecap="round" stroke-opacity="0.55" fill="none"/>
<path d="M282.7 93.1h0M318.6 65.9h0M302.9 86.3h0M300.5 104h0M326 67.6h0M314.1 83h0M306.7 57.7h0M305.1 91h0M273.4 112.7h0M324.6 64.4h0M324.2 54.9h0M316.9 68.1h0M325.4 104h0M294.6 90.3h0M315 61.8h0M284.7 114.1h0M295.2 88.9h0M335.8 26.6h0M298.5 87.2h0M325.8 41.5h0M284 112.3h0M314.5 71.3h0M329 64.5h0M310 70.2h0M273.2 95.9h0M320.2 49.3h0M272.6 114.1h0M307.2 90h0M333.4 47.9h0M346.2 45.4h0M288.2 110.4h0M331.8 51.7h0M295.2 100.2h0M322 66.5h0M287.9 106.8h0M296.7 85.3h0M291.7 81.6h0M280 105.6h0M331.1 60.6h0M298.9 96.1h0" stroke="#ff0000" stroke-width="3.8" stroke-linecap="round" stroke-opacity="0.55" fill="none"/>
<path d="M281.1 112.6h0M275.4 110.8h0M312 70.4h0M300.9 81.2h0M324.8 52.5h0M324.2 64.6h0M304.1 78.4h0M268.4 120.8h0M278.3 102.1h0M273.7 135.6h0M305.2 83.6h0M282.5 110.6h0M355 31.7h0M319.7 67.1h0M306.4 86.7h0M266.7 119.1h0M313.9 81.9h0M322.1 59.7h0M297.5 72.1h0M325.2 56h0M309.1 80.8h0M290.6 117.8h0M343.6 45.8h0M304.8 78.1h0M329.8 72.6h0M276.5 110.1h0M288 71.3h0M340.5 31.6h0M317.2 66.1h0M314.2 67.6h0M281.5 94.1h0M332.8 55.6h0M336.8 44.1h0M335 49.4h0M325.4 56.5h0M308 71.7h0M293.6 81h0M301.5 120.1h0M267.8 122.6h0M299.7 92.7h0" stroke="#ff0000" stroke-width="3.8" stroke-linecap="round" stroke-opacity="0.55" fill="none"/>
<path d="M309.1 36.5h0M308.8 85.8h0M305.7 98.5h0M285.7 102.9h0M272.1 109h0M277.2 109.1h0M339.5 47.2h0M330.9 36h0M312.8 64.6h0M260.4 124.5h0M318.9 56.8h0M289 108.6h0M290 108.8h0M275.9 83.5h0M294 81.9h0M295.5 82.2h0M351.7 22.8h0M298 83.9h0M277.4 118.4h0M346.8 36.1h0M309.6 83.3h0M310.4 89.1h0M297.3 105.2h0M323.1 63.9h0M282.9 85.4h0M319.9 70.7h0M337.9 43.2h0M318.8 44.1h0M276.8 96.7h0M363.3 22.5h0M322.9 72.8h0M344.1 46.3h0M318.1 90.4h0M285.4 102.2h0M301.4 79.6h0M346.4 42.6h0M284.1 99.6h0M276.6 95.5h0M304.4 88.7h0M286.4 113.8h0" stroke="#ff0000" stroke-width="3.8" stroke-linecap="round" stroke-opacity="0.55" fill="none"/>
<path d="M309.5 73.2h0M305.9 92.3h0M321.1 61h0M304.6 95.6h0M287 104h0M292.9 81.3h0M290.9 107.3h0M263.9 106.7h0M263.8 118.6h0M344.8 42.5h0M308.5 70.6h0M321.1 73.2h0M325.5 42h0M306.7 72.9h0M310.8 73.2h0M328.8 59h0M303.4 74.6h0M291.4 100.7h0M349.5 29.8h0M346.8 31.1h0M329.2 56.4h0M327.4 42.9h0M330.4 52.9h0M309.1 79.2h0M308.6 63.3h0M263.8 132.7h0M283.9 102.9h0M264.9 101.6h0M306.7 82h0M309.3 76.7h0M285.5 91.5h0M298.4 83.8h0M304.5 63h0M352.6 27.2h0M311.1 64.1h0M270.4 118.9h0M290 90.2h0M295.9 99.5h0M269.1 132h0M274.7 111.3h0" stroke="#ff0000" stroke-width="3.8" stroke-linecap="round" stroke-opacity="0.55" fill="none"/>
<path d="M314.7 54.2h0M289 89.1h0M293.5 70h0M305.8 69.2h0M308.9 63.8h0M332.6 60.5h0M298.1 74.5h0M327.1 61.4h0M352.1 45.4h0M289.6 75.9h0M337.2 54.7h0M282.6 101.9h0M305.3 76.9h0M292.8 83h0M278.4 110.3h0M334.8 67.1h0M314.4 69h0M343.7 34.1h0M312.9 80.5h0M329.1 45.6h0M279.3 107.4h0M314.9 72.9h0M296.3 67.4h0M313.1 69.9h0M314.1 71.5h0M299.4 85.6h0M288.9 95.6h0M292.2 87.6h0M318 59.1h0M306.7 71.1h0M278 102.9h0M356.2 26.9h0M340.3 57.8h0M342.6 50h0M350.9 45.2h0M282.6 86.9h0M325.8 87.1h0M327.4 41.6h0M299.8 89.3h0M276.1 107h0" stroke="#ff0000" stroke-width="3.8" stroke-linecap="round" stroke-opacity="0.55" fill="none"/>
<path d="M292.3 105h0M277.7 131.1h0M292.1 62.6h0M263.9 121.5h0M306.2 100.4h0M293.9 69.4h0M294.3 91.3h0M317.4 59.7h0M293.7 103.5h0M340.1 35.1h0M350.7 28.2h0M309.9 69.1h0M333.7 58.8h0M295.7 98.5h0M293.6 92.9h0M310.9 54.1h0M307.1 23.3h0M295.8 93.6h0M293.2 86h0M289.8 92.3h0M274 111.9h0M291.9 81.5h0M293.9 98.3h0M277.7 108.3h0M333 49.2h0M317 65h0M286.6 100.3h0M317.4 77.2h0M269.1 116.7h0M262 117.9h0M327.1 61.9h0M320.9 77.3h0M304.6 95.8h0M310.2 85.4h0M332.9 54.4h0M275.5 96.8h0M341.2 50.6h0M292.6 82.1h0M343.7 47.3h0M280.7 86.9h0" stroke="#ff0000" stroke-width="3.8" stroke-linecap="round" stroke-opacity="0.55" fill="none"/>
<path d="M296.3 68.2h0M301.9 76.5h0M320.4 67.8h0M277.8 123.7h0M298.6 94.3h0M282.9 104.1h0M297.4 87.2h0M331.9 56.8h0M358.6 33.3h0M331.6 59.3h0M304 75.4h0M341.2 32.2h0M300.8 99.2h0M273.7 132.7h0M321.7 64.2h0M278.5 110.1h0M330.7 62.6h0M257.6 136.6h0M315.4 72.3h0M346 32.3h0M283.3 128h0M315.9 86.1h0M323.7 43.5h0M293.5 88.8h0M309.9 66.9h0M312.4 82.9h0M326.9 79.6h0M287.5 109.1h0M322.3 24.7h0M313 66.5h0M301 93.3h0M309 95.8h0M309.1 85.4h0M268.2 123h0M275.9 126.7h0M322.6 82.9h0M292.7 104h0M305.7 76.9h0M321.5 45.1h0M318.7 85.5h0" stroke="#ff0000" stroke-width="3.8" stroke-linecap="round" stroke-opacity="0.55" fill="none"/>
<path d="M335.6 49.2h0M314.8 70.5h0M328.6 47.2h0M271.3 119.4h0M275.7 133.8h0M265.5 114.6h0M288.7 89h0M314.5 79.2h0M281 105.3h0M297 98.2h0M282.4 124.4h0M256.9 126h0M315.2 68.5h0M282.2 93.5h0M295.1 84.3h0M325.1 65.6h0M268.2 108.2h0M294.9 107.5h0M315.6 65h0M295.6 102.9h0M308.8 75.6h0M305.2 66.8h0M309.6 65.7h0M337.5 51.6h0M317.7 57.6h0M292.5 102.4h0M321.6 59.6h0M283.6 104.5h0M289.6 102h0M333.8 45.8h0M314 81h0M328.4 76h0M314.2 69.8h0M284.9 93.2h0M285.7 65.4h0M288.8 90.6h0M347.6 39.1h0M320.2 46.6h0M323.2 53.4h0M308.4 66.1h0" stroke="#ff0000" stroke-width="3.8" stroke-linecap="round" stroke-opacity="0.55" fill="none"/>
<path d="M309 76h0M319.4 60.2h0M285 125.6h0M341.4 35.5h0M258.1 128.1h0M322.5 65.7h0M351.2 40.3h0M347.9 38.8h0M264.6 117.3h0M332.3 53.5h0M313 70.4h0M296 101.2h0M298.4 85h0M285.9 104.7h0M298 92h0M324.3 56.7h0M265.2 116h0M281 106.7h0M311.3 77.7h0M287.1 110.5h0M294.1 77.5h0M300.9 102.8h0M283.3 91.5h0M301.3 101h0M335.5 53h0M306.4 82.8h0M331.2 47.4h0M323.9 62.3h0M322.5 54.3h0M296.2 76h0M326.5 64.9h0M288.1 102.7h0M280.8 102h0M294.9 89.7h0M336 43.4h0M317.3 71.5h0M296.7 112.8h0M293.2 93.9h0M305.3 66.4h0M313.3 52.3h0" stroke="#ff0000" stroke-width="3.8" stroke-linecap="round" stroke-opacity="0.55" fill="none"/>
<path d="M316.8 99.3h0M317.6 52.6h0M316.6 72.9h0M303.6 76.3h0M310.8 76.3h0M297.1 79.7h0M313.3 80.7h0M298.5 62.7h0M332.9 66.8h0M331 56.3h0M353.8 39.6h0M295.7 79.5h0M295.9 85.4h0M339.8 50.3h0M330.1 45.9h0M346.4 38.3h0M301 45.3h0M332.7 68.1h0M298.8 92.8h0M324.9 68.4h0M295.2 85.1h0M301.5 95.1h0M342.5 32.7h0M318.8 58.4h0M266.9 126.5h0M336.4 56.5h0M324.1 67.6h0M268.4 121.6h0M292.3 118.6h0M289.2 101.6h0M311.3 109.2h0M320.6 69.5h0M343.4 53.6h0M280.4 103.3h0M289.9 105.7h0M313.1 89.6h0M290.4 107.6h0M292 105h0M311 64.9h0M320.1 63.2h0" stroke="#ff0000" stroke-width="3.8" stroke-linecap="round" stroke-opacity="0.55" fill="none"/>
<path d="M279.2 100.3h0M270.9 108.1h0M332.9 36.8h0M329.9 70.2h0M327.4 47.8h0M327.6 73.4h0M298.1 79.8h0M304.4 82.5h0M278.7 131.9h0M288.6 96.7h0M318.7 67.8h0M301.5 75.4h0M267.8 115.7h0M311.2 68.1h0M300.2 98.9h0M305.6 46.8h0M344 45.7h0M342.8 36.1h0M319 58.4h0M313.5 81.6h0M361.6 44.3h0M346.6 27.5h0M314.6 64.7h0M289.8 116.9h0M283.9 89.2h0M328.3 37.1h0M279.9 99.8h0M362.7 35.7h0M335.2 70.1h0M294.7 93.2h0M281.1 104.8h0M294 79.5h0M297.7 100.1h0M299.5 78.8h0M307.6 81h0M309.2 73.8h0M294.9 114h0M319.9 41.6h0M317.6 78.9h0M330.6 66.8h0" stroke="#ff0000" stroke-width="3.8" stroke-linecap="round" stroke-opacity="0.55" fill="none"/>
<path d="M286.6 97.6h0M333 48.2h0M313.4 72.3h0M344.7 32.5h0M333.4 61.5h0M277.8 108.6h0M302.1 101.2h0M326.3 63.5h0M305.9 92.5h0M304.9 72.1h0M314.2 75h0M355.4 59.3h0M292.4 92.9h0M298.4 97.9h0M287.4 71.2h0M281.5 128.8h0M280.8 102h0M269.5 113.6h0M303.4 84.1h0M348.8 30.5h0M311.1 86.6h0M335.2 38.2h0M276.7 107.6h0M316.9 56.2h0M301.6 102.9h0M328.6 57h0M294.3 115.7h0M299.5 73.6h0M318.2 67.6h0M277.8 103h0M276.4 105.3h0M291.7 95.5h0M283.9 114.2h0M282 100.9h0M302.2 89.4h0M326.5 51.6h0M311.7 79.5h0M274.9 109.1h0M303.6 84.3h0M269.3 124.8h0" stroke="#ff0000" stroke-width="3.8" stroke-linecap="round" stroke-opacity="0.55" fill="none"/>
<path d="M308.2 77.7h0M308.8 71.1h0M308.4 76.9h0M291.1 89h0M330.1 62.5h0M295.8 83.1h0M289.8 110.9h0M276 121.4h0M321.5 78.1h0M344.5 47.8h0M296 80.1h0M304.7 63.7h0M286.2 111h0M309.4 81.1h0M297.7 74.1h0M268.3 130.2h0M320.8 49.9h0M300.4 69.6h0M260.9 127.7h0M310.2 80.4h0M330.1 85.2h0M338.1 69.7h0M356.2 35.2h0M290.6 77.8h0M331.1 37.3h0M329.2 69.4h0M331.4 35.7h0M316.1 69.6h0M282.3 103.1h0M313 61.8h0M263.3 130.3h0M298.4 87.6h0M294.9 72.9h0M291.7 101.1h0M311.1 91.6h0M281.9 119.3h0M288.1 93.7h0M287.6 88.9h0M290.4 84.8h0M265.6 116.9h0" stroke="#ff0000" stroke-width="3.8" stroke-linecap="round" stroke-opacity="0.55" fill="none"/>
<path d="M312.9 82.9h0M289.2 113h0M288.8 69.6h0M285.6 106h0M290 110.8h0M277.7 115.1h0M296.2 90h0M312.8 88.4h0M286.8 103.1h0M274.8 76.3h0M307.8 88.6h0M288.2 92.6h0M318 68h0M308.7 71.7h0M316 76.5h0M329.9 70.5h0M293.4 86.2h0M353.2 25.3h0M316.6 37.4h0M283.7 102.1h0M305.6 100.2h0M309.9 66.1h0M306.9 77.5h0M333.2 52.2h0M296 99.8h0M265.9 121.2h0M312.6 57.6h0M361.1 42.3h0M299.6 85h0M294.2 94.2h0M334.5 45.2h0M270.9 119.2h0M301.6 84.5h0M272.6 117.6h0M299.3 90.4h0M267.1 138.1h0M282.7 106.2h0M286.4 98.3h0M325.3 72.5h0M298.1 86.3h0" stroke="#ff0000" stroke-width="3.8" stroke-linecap="round" stroke-opacity="0.55" fill="none"/>
<path d="M319.4 33.4h0M315.5 73.3h0M292.2 111.2h0M305.8 93.8h0M304.9 95.9h0M290.2 102.5h0M333.3 84.8h0M296.8 81.8h0M287.4 111.1h0M304.7 90h0M264.3 122.6h0M322.2 66.3h0M274 126.4h0M311.2 72.4h0M334.6 65.1h0M359.8 33.9h0M323.3 70.1h0M278.3 84.4h0M321.3 66.7h0M308.4 71.6h0M303.3 60.7h0M316.1 86.4h0M293.9 102.8h0M293.2 81.6h0M279.5 128.1h0M292.9 100h0M327.1 72.3h0M304.3 73.1h0M293.4 57h0M310 102.7h0M302.5 88.5h0M262.3 110.7h0M303.8 77.7h0M287.2 116.8h0M341.6 49.4h0M268.9 121.3h0M310.5 60.5h0M350.7 56.7h0M295.4 98.3h0M358.8 23h0" stroke="#ff0000" stroke-width="3.8" stroke-linecap="round" stroke-opacity="0.55" fill="none"/>
<path d="M299 89.7h0M285.8 106h0M301.2 92.8h0M290.2 99.8h0M279.6 107.1h0M269.9 120.6h0M294 89.4h0M337.7 57.7h0M332.7 31.9h0M296.9 86.3h0M350.2 35.3h0M299.2 79.6h0M299.8 100.1h0M340.3 61.6h0M311.2 70.5h0M287.3 97h0M298.8 85.5h0M345.7 45.2h0M302.1 96.5h0M336.5 69.5h0M312.7 63.1h0M303 84.2h0M342.7 42.5h0M319.5 71.6h0M302.6 67.3h0M328.7 55.1h0M318 24h0M303.4 86.7h0M297.9 94.4h0M297.8 74.5h0M300.3 86.1h0M273 128.2h0M277.3 124.4h0M296.8 81.1h0M328.8 53.9h0M334.5 51.6h0M302.2 106.3h0M293.2 91.7h0M268.8 103.8h0M327.4 38.2h0" stroke="#ff0000" stroke-width="3.8" stroke-linecap="round" stroke-opacity="0.55" fill="none"/>
<path d="M303.5 83h0M325.7 51.3h0M288.5 90.8h0M317.1 77.5h0M309.1 84.4h0M269.3 113.2h0M312.9 74.7h0M344.5 32.6h0M295.1 72.3h0M275.1 119.7h0M312.7 80.5h0M311.9 69.9h0M317.5 85h0M307 80.5h0M355.2 28.3h0M298.8 93h0M327.1 69.1h0M295.3 81.4h0M279.7 107.3h0M270 120.7h0M298 75.9h0M292.9 97.5h0M274.4 104.6h0M327.8 69h0M262 117.9h0M265.6 108.2h0M296.4 109.4h0M314.2 86.5h0M342 44.1h0M289.9 105.2h0M327.4 41.4h0M297.1 96.3h0M343.3 36.3h0M317.5 77.2h0M314.3 50.2h0M311.4 69.3h0M285.4 95.6h0M288.1 92.9h0M292.3 80.8h0M285.2 100.7h0" stroke="#ff0000" stroke-width="3.8" stroke-linecap="round" stroke-opacity="0.55" fill="none"/>
<path d="M269.5 116.3h0M264.9 115.9h0M314.2 78.8h0M315.8 64.2h0M314.3 84.5h0M342.7 32.4h0M295.6 104.1h0M331.8 61.7h0M352.8 28h0M341 49.4h0M297.5 78.6h0M289.4 76.9h0M323.8 39.2h0M273.4 117.7h0M287.2 95.3h0M296.1 96.9h0M330.2 54.7h0M284.2 97.2h0M329.7 50.3h0M309.4 70.8h0M331.3 70.8h0M276.9 121.8h0M284.4 95.6h0M288.3 108.7h0M287.1 83.1h0M296.3 90.5h0M311.5 70.3h0M318.9 66h0M296.1 89.7h0M291.7 105.3h0M334.8 52h0M310.5 80.5h0M353.4 31.9h0M334.4 47.9h0M314.9 72.7h0M305.4 97.2h0M296.4 88.3h0M288.2 101.9h0M342.1 45.6h0M296 121.6h0" stroke="#ff0000" stroke-width="3.8" stroke-linecap="round" stroke-opacity="0.55" fill="none"/>
<path d="M293.7 103.1h0M307.6 73.9h0M276.3 98.4h0M290.2 81.5h0M330.3 57.5h0M319.3 62.9h0M283.9 124.1h0M279.9 95.5h0M328 53.7h0M306.5 80.2h0M290 120.7h0M329.8 58.2h0M304 81.3h0M314.9 76.3h0M340.2 53.9h0M300 79.8h0M324.3 64.2h0M293.8 87.7h0M286.1 105.4h0M332.7 25.8h0M310.9 61.7h0M335 49.1h0M293.1 86.7h0M335.5 38.9h0M299.2 82.2h0M298.3 89.2h0M278.1 110.1h0M309.8 72.8h0M335.5 72.3h0M303.3 92.6h0M330.2 55.9h0M306.4 70h0M316.6 85.5h0M307 76.3h0M314 78.4h0M305.2 76.1h0M332.9 56.7h0M309 92.5h0M288.8 103.8h0M335.3 60.2h0" stroke="#ff0000" stroke-width="3.8" stroke-linecap="round" stroke-opacity="0.55" fill="none"/>
<path d="M276.1 90.6h0M280.2 101.9h0M355.9 32.8h0M296.9 89.6h0M309.3 92.6h0M294.7 110h0M323.6 49.7h0M311.6 58.8h0M274.3 106.8h0M303.3 80.7h0M296.2 83.9h0M346.9 47.8h0M274.9 100.3h0M318.3 59.1h0M280.6 87.1h0M301.8 94.7h0M288.3 92h0M306.7 72.6h0M291.3 98.2h0M283.9 105.6h0M336.3 40.6h0M330.6 61.7h0M304.5 104.6h0M267.1 137h0M282.8 98.4h0M271.6 114h0M304.1 83h0M302.4 93.6h0M321 64.5h0M300.6 87.8h0M298.3 87.7h0M270.6 121.1h0M341.4 51.1h0M312.9 54h0M297.3 81.5h0M353 31h0M264.9 110.7h0M266.5 87.2h0M351.7 39.5h0M283 88.1h0" stroke="#ff0000" stroke-width="3.8" stroke-linecap="round" stroke-opacity="0.55" fill="none"/>
<path d="M286.7 103.2h0M323.5 57.2h0M286.2 101.3h0M312.5 75.7h0M344.6 30h0M292.9 76.2h0M341.7 43.3h0M300.3 55.1h0M310.1 67.4h0M327.4 49h0M326 61.5h0M308.2 53.4h0M286.2 104.8h0M321.2 52h0M304.2 73.5h0M324.2 40h0M329.5 55.9h0M269.5 110.1h0M324.4 59.7h0M323.4 37.2h0M299.8 78.7h0M328.9 52h0M316.6 89h0M330.2 58.5h0M283.3 89.1h0M344.2 52.6h0M363.9 31.8h0M310.6 84.2h0M298 87.8h0M350.3 39.3h0M333.3 70.2h0M329 22h0M326.8 56.8h0M291.5 99.3h0M305.3 60.6h0M293.9 106.8h0M325.5 62.8h0M309.5 87.4h0M291.5 73.8h0M312.7 80.7h0" stroke="#ff0000" stroke-width="3.8" stroke-linecap="round" stroke-opacity="0.55" fill="none"/>
<path d="M294.7 101.4h0M332 62.5h0M318 70.1h0M316.7 52.3h0M322.1 42.4h0M352.1 46.8h0M308.1 79.9h0M332.8 43.7h0M326.1 39.4h0M326.3 62.6h0M316.6 70.9h0M309.9 82.2h0M286.6 104.1h0M317.2 98.1h0M309.2 87.6h0M291.2 102h0M293.2 91.7h0M309.3 82.9h0M340.1 43.7h0M310.5 69.1h0M329.9 67h0M322.1 76.5h0M290.1 89.5h0M277 126.3h0M343.2 45.4h0M310.4 76.8h0M326.3 72.9h0M276.2 103.2h0M314.4 83.2h0M328.7 58.7h0M305.9 81.5h0M318.8 55.1h0M295.4 98.7h0M312.8 69.9h0M343.8 37h0M317.1 85.3h0M266.7 129.5h0M310.8 68.3h0M316.9 88.6h0M282.1 132.9h0" stroke="#ff0000" stroke-width="3.8" stroke-linecap="round" stroke-opacity="0.55" fill="none"/>
<path d="M283.6 126.3h0M339.9 46.8h0M303.9 106.8h0M276.5 95.5h0M294.9 75.2h0M316.6 64.2h0M277.4 86.7h0M350.4 38.1h0M306.4 86.3h0M306.2 77.6h0M301.2 94.1h0M352.8 26.8h0M329.6 76.5h0M340.8 63.4h0M320.4 49.7h0M294.1 101.2h0M340.5 49.9h0M351 28.1h0M285.5 71.7h0M355.8 45.6h0M340.1 42h0M305 93.4h0M321.5 67.3h0M324.3 72.2h0M264.6 121.7h0M356.5 38.1h0M325.7 41.3h0M306.8 82.2h0M312.8 87.6h0M289.5 100.5h0M273.4 119.2h0M333.8 61.7h0M329.3 54h0M315.9 70.3h0M285.1 87.7h0M281.4 92.2h0M267.1 107.2h0M280.4 95.3h0M287.1 88.9h0M275.3 83h0" stroke="#ff0000" stroke-width="3.8" stroke-linecap="round" stroke-opacity="0.55" fill="none"/>
<path d="M279.2 102.6h0M285.4 98h0M329.6 79.1h0M318.6 86.1h0M315.2 41.6h0M296 90.1h0M311.9 86.5h0M329.4 44.5h0M295.5 85.3h0M278.8 113.7h0M304.1 86.4h0M326.8 59.1h0M276.5 129.2h0M305 80.3h0M298 99.1h0M328.6 60.5h0M299.8 100.4h0M310.2 78.3h0M294.8 82.9h0M290.5 85.7h0M279.4 113.8h0M342.6 35.2h0M291.4 93.5h0M350.5 33.1h0M341.6 36.6h0M281.4 103h0M303.1 109.1h0M303.1 76.3h0M297.8 69.2h0M325.7 50.6h0M318.4 55.4h0M334.7 46.7h0M326.5 58.6h0M290.3 110.3h0M283.8 92.7h0M286 92.6h0M265.1 123.5h0M327.1 38.4h0M318.4 80.7h0M276.8 120.6h0" stroke="#ff0000" stroke-width="3.8" stroke-linecap="round" stroke-opacity="0.55" fill="none"/>
<path d="M303.1 83.5h0M327.9 53.6h0M304.7 107h0M298.6 105.6h0M273.1 115.6h0M353.7 40.9h0M293.3 77h0M333.7 64.9h0M331.7 34.2h0M304.3 77.2h0M334 57.9h0M335.2 57.5h0M294.7 86.3h0M299.2 97.6h0M304.7 76.7h0M287.5 98.2h0M297.1 84.2h0M327.8 57.3h0M320.9 56.7h0M316.9 50.8h0M332.4 40.5h0M336.2 55.9h0M308.9 87.5h0M303 99.4h0M331.2 37.6h0M336.3 52.8h0M306.8 70.1h0M281.7 73.8h0M270.5 123.2h0M276.7 106.1h0M301.6 77.1h0M298.7 73.6h0M297.2 83.7h0M321.4 75.8h0M295.3 85.5h0M345.3 37.6h0M302.5 84.7h0M314.8 53.4h0M319.6 41.8h0M321.6 48.8h0" stroke="#ff0000" stroke-width="3.8" stroke-linecap="round" stroke-opacity="0.55" fill="none"/>
<path d="M308.3 67.7h0M344.2 46.6h0M345.1 55h0M329 46.1h0M312.1 73.7h0M289.4 104.6h0M324.1 62.3h0M307.4 83h0M324.4 58.9h0M273.4 116.8h0M329.1 82.2h0M299.7 85.1h0M302.8 77.1h0M306.7 71.3h0M322.8 62.1h0M305 87.2h0M339.3 38.4h0M309.3 67.4h0M285.1 99h0M330.6 64.3h0M328.9 64h0M305 102.2h0M297.5 104.1h0M264 123.6h0M285 106.5h0M301.9 76.8h0M276.1 108.2h0M324.7 49.4h0M281.7 114.5h0M307.6 73.2h0M302.4 85.6h0M327.5 63.7h0M290.8 70.6h0M317.6 62.9h0M327.2 79.5h0M328.6 65.2h0M292.7 105.7h0M283.4 112h0M289.6 99.9h0M266.8 118.5h0" stroke="#ff0000" stroke-width="3.8" stroke-linecap="round" stroke-opacity="0.55" fill="none"/>
<path d="M296 72.5h0M317 50.3h0M292.4 116.8h0M287.1 101.2h0M351 50.1h0M328.3 54.9h0M351.2 40.3h0M294.4 114.7h0M335.4 66.6h0M309.8 92.5h0M308.7 97h0M321.4 63.8h0M335.2 51.2h0M283.6 113.2h0M302.5 94.3h0M311.6 59.6h0M335 72.4h0M295.5 84.9h0M331.8 38.5h0M308.7 68.4h0M343.6 51.1h0M299.6 108.3h0M299.4 104.6h0M273.1 106.2h0M289.4 101.2h0M291.9 111.8h0M320.6 74.3h0M305.7 62.7h0M353.2 23.8h0M345.9 47.3h0M299.7 86.9h0M323.2 66h0M320.2 63h0M302.9 84.7h0M287.2 95.9h0M322.6 57.9h0M278.6 113.1h0M296.1 96.3h0M289.1 84.8h0M314.8 53.3h0" stroke="#ff0000" stroke-width="3.8" stroke-linecap="round" stroke-opacity="0.55" fill="none"/>
<path d="M323.8 48.7h0M288.8 114.8h0M292.4 94.8h0M295.4 92.4h0M283.2 123.2h0M293.4 85.9h0M333.4 68.9h0M322.5 64.2h0M277 90.7h0M281 114h0M310 89.1h0M309.7 54.4h0M298.7 95.7h0M291.3 93.8h0M271 115.7h0M298.5 88.7h0M313.1 81.8h0M332.3 85.2h0M345.8 40.3h0M298.6 88.1h0M328.4 38.8h0M285.1 110h0M339.7 66.4h0M342.4 42.4h0M294.5 86.7h0M303.1 67.5h0M276.8 112.2h0M265.6 129.9h0M309.1 72.8h0M277.2 122.6h0M270.6 108.1h0M338.7 53.7h0M296.7 88.5h0M284.4 109.9h0M279.8 117.4h0M311 70.7h0M305.8 74.8h0M339.4 59.1h0M313.2 98h0M318.1 67h0" stroke="#ff0000" stroke-width="3.8" stroke-linecap="round" stroke-opacity="0.55" fill="none"/>
<path d="M292.5 102h0M311.7 85.9h0M261.2 125.7h0M296.4 68.7h0M315.9 90.1h0M297.3 93.7h0M335 57.4h0M322.1 62h0M296.5 87.4h0M308.6 79.4h0M357.4 30.3h0M291.8 87.8h0M284.3 117.6h0M284.9 123.2h0M288.5 105.4h0M317.5 61.5h0M261 119.3h0M268.9 119.7h0M318.8 66.1h0M299.8 90.3h0M328.7 25.8h0M298.6 80.3h0M295.5 88.9h0M311 80h0M273.8 136.7h0M310.8 74h0M316.3 79.8h0M311.7 76h0M324.9 70.4h0M300.4 80.5h0M332.1 70.3h0M279.8 104.8h0M308.8 65.2h0M350.8 42.4h0M317.1 73.3h0M321.6 65.3h0M265.4 110.5h0M312.7 72.9h0M314.7 68.2h0M330.6 58h0" stroke="#ff0000" stroke-width="3.8" stroke-linecap="round" stroke-opacity="0.55" fill="none"/>
<path d="M289.8 78.8h0M342.3 38.5h0M328.7 63.6h0M276.4 124.2h0M300.7 84.3h0M300.8 104.9h0M280.3 96.2h0M317.5 65h0M286.5 105h0M323.8 63.9h0M316 97.9h0M274.8 108.5h0M328.3 68.9h0M296.6 89.5h0M265.7 122.9h0M303.3 89.6h0M285.8 108h0M283.2 87.9h0M288.8 104.6h0M320.6 63.5h0M334.1 63.1h0M287.6 116h0M284.9 105.1h0M287.4 92.3h0M344.2 27.5h0M308.5 81.6h0M317.8 79.1h0M296.5 80.5h0M342.9 35.3h0M308.2 85h0M332.6 68.3h0M260.9 112.7h0M341 48.9h0M263.6 130.6h0M306.5 78.8h0M327.1 48.4h0M278.5 110.9h0M279.7 95h0M346.3 53.3h0M318.7 75.2h0" stroke="#ff0000" stroke-width="3.8" stroke-linecap="round" stroke-opacity="0.55" fill="none"/>
<path d="M303.3 87.9h0M284.1 61.5h0M301.1 101.7h0M260.1 132.5h0M267.7 127.5h0M318.5 59.5h0M307.9 72.3h0M314.5 73.4h0M327.8 62.7h0M340.4 51.3h0M270.7 106.7h0M282.4 111.3h0M314 80.9h0M332.5 44.6h0M308.9 56.8h0M307.3 95.5h0M293.4 133h0M349.4 62.3h0M306.3 75.2h0M276.1 109h0M268 118.6h0M327.6 49.2h0M262.4 121.6h0M340.4 38.2h0M343.8 49h0M289.7 111.6h0M287.1 110.6h0M264.9 100.6h0M352.5 32.6h0M278.6 115h0M300.5 61.2h0M301.3 76.8h0M259.5 122.6h0M344 27.8h0M325 55.2h0M324.2 51.1h0M288.3 96.1h0M289.4 106.7h0M319.4 53.2h0M291.1 99.4h0" stroke="#ff0000" stroke-width="3.8" stroke-linecap="round" stroke-opacity="0.55" fill="none"/>
<path d="M352.1 39.1h0M311.9 84.2h0M275.1 115h0M296.2 103.2h0M340.3 45h0M301.9 82.5h0M285 102.6h0M352.2 23.5h0M295.9 87.7h0M317.3 49.8h0M306.4 72.7h0M325.2 79.3h0M316.7 67h0M295.5 94h0M295 104.2h0M319.1 77.5h0M304.7 77.4h0M327.9 83.4h0M288.1 117.6h0M309.3 64.4h0M313.2 77.4h0M317.9 78.4h0M300.5 81.3h0M305.4 45.4h0M319.3 75h0M317.9 61.9h0M287.8 99.4h0M339.2 47.7h0M295.3 97.9h0M301.5 86.2h0M333.3 53.6h0M289.3 94.8h0M282.6 112.8h0M293.9 84.9h0M343.8 52.8h0M290 99.2h0M286.5 89.5h0M321.6 71.3h0M322.3 21.9h0M352.7 25.2h0" stroke="#ff0000" stroke-width="3.8" stroke-linecap="round" stroke-opacity="0.55" fill="none"/>
<path d="M290.8 101.7h0M334.4 48.8h0M333.9 56.3h0M308.9 48.8h0M340.9 70.9h0M286.9 94.3h0M323.9 56.5h0M361.5 23.3h0M299.8 92.7h0M327.3 55.4h0M299 85.3h0M338.7 36.8h0M279.2 87.9h0M261.9 135h0M310.2 64.3h0M311.8 85.5h0M315.9 51h0M315.3 66.5h0M303.2 87.7h0M314.2 73.6h0M292.3 88h0M327 80.2h0M339.7 58.2h0M323.2 63.7h0M308 71h0M351.5 23.1h0M321.5 69.1h0M288.1 107h0M350.3 32.3h0M347.2 38.7h0M300.8 85.5h0M281.2 126.1h0M328.2 50.3h0M289.6 109.6h0M324.2 49.2h0M286.3 97.9h0M325.9 59.9h0M319.8 58.9h0M298.1 84.8h0M295.5 81.5h0" stroke="#ff0000" stroke-width="3.8" stroke-linecap="round" stroke-opacity="0.55" fill="none"/>
<path d="M311.2 68.9h0M315.3 76.8h0M313 75.2h0M304.7 86.8h0M272.9 136.3h0M276.2 131.8h0M292.5 82.4h0M291.5 93.2h0M329.2 49.9h0M344 43.6h0M323.8 62.2h0M326.4 47.1h0M339.4 70.9h0M302.7 103.7h0M290.1 94.3h0M266.6 130.3h0M285.2 95.6h0M317 66h0M300.4 69.7h0M335.1 72.5h0M279 125.4h0M284.6 90.2h0M266.5 125.1h0M308 83.4h0M310.5 80.3h0M330.2 112.9h0M334.9 47.9h0M276.7 121.3h0M334.6 55.6h0M296 91.2h0M343.4 52.7h0M304.6 99.4h0M278.4 117.6h0M311.1 73.9h0M325.2 99.5h0M304.1 90.4h0M302.2 87.1h0M264.1 121.5h0M284.5 110.4h0M280.2 102.7h0" stroke="#ff0000" stroke-width="3.8" stroke-linecap="round" stroke-opacity="0.55" fill="none"/>
<path d="M288.7 119.9h0M337 57.7h0M310.8 62.9h0M273 118.2h0M300.4 83.3h0M295.1 99.7h0M291.6 101.6h0M285.5 104.4h0M282 117.1h0M270.9 113.6h0M281.9 118.3h0M323 80.9h0M305.2 80.3h0M287.1 91.8h0M336.5 51.4h0M276.3 107.2h0M312.4 101.2h0M322.9 60.3h0M296.4 95.9h0M292.8 96.9h0M303.2 80.9h0M298.4 96.3h0M311 58.7h0M332.5 70.6h0M308.5 66.8h0M297.6 80.8h0M343.6 40.6h0M270.6 106.6h0M283.3 121.1h0M276.7 129.3h0M291.5 93.2h0M301.1 89.2h0M291.7 92.6h0M322 68.5h0M320.9 69.3h0M300.6 67.6h0M283 93.6h0M332.4 30.4h0M324.2 41.4h0M318.8 52.9h0" stroke="#ff0000" stroke-width="3.8" stroke-linecap="round" stroke-opacity="0.55" fill="none"/>
<path d="M315.7 61.7h0M299.2 101.7h0M286.5 93h0M307.3 64h0M283.5 87.5h0M262.7 125.7h0M300.6 88.5h0M293.8 101h0M266.7 113.9h0M319.3 57.7h0M341.5 63.4h0M269.6 138.2h0M294.3 102.5h0M336.4 41.1h0M304.4 82.5h0M301 94.5h0M338.1 58.5h0M336.4 41.7h0M316.7 85.1h0M323.4 60.9h0M307.4 77.8h0M274.8 113.5h0M283.3 90.5h0M347.5 49.2h0M278.9 103.6h0M328.2 46.5h0M332.3 54.5h0M330.2 69.2h0M334.2 47h0M331.8 57.1h0M338 36h0M309 113.4h0M277.2 99.5h0M295.8 84.9h0M301.9 94h0M296.5 104.4h0M312 69.9h0M294.4 90.2h0M299.9 79.5h0M321.1 83.8h0" stroke="#ff0000" stroke-width="3.8" stroke-linecap="round" stroke-opacity="0.55" fill="none"/>
<path d="M307.8 86h0M326.6 54.7h0M298.9 84.9h0M304 104.2h0M299.9 66.3h0M272.7 95.7h0M276.1 90.8h0M295.8 76.5h0M285.6 91.7h0M276.5 112.5h0M291.5 88.1h0M329 57.1h0M266.1 106.5h0M294.1 88.4h0M271.4 104.2h0M277.4 114.3h0M345 34.2h0M296.9 81.6h0M313.1 71.2h0M324.7 78.2h0M331.2 56.6h0M334.8 49.1h0M337.2 23.7h0M286.2 87h0M317.2 65.7h0M304.6 86.2h0M302.4 104.7h0M287.4 93h0M322.7 60.9h0M313.8 83.3h0M313.6 85.7h0M312.1 59.6h0M325.2 62.9h0M276.7 111.7h0M351 45.7h0M304.2 104.5h0M316.9 67.4h0M324.3 52.6h0M281.2 99.9h0M289 103.5h0" stroke="#ff0000" stroke-width="3.8" stroke-linecap="round" stroke-opacity="0.55" fill="none"/>
<path d="M315.6 87.6h0M307.9 99.2h0M282.1 101.6h0M341.3 42.7h0M335.2 62.4h0M282.6 101.5h0M311.2 78.1h0M304.8 46.3h0M340.4 74.3h0M327.7 50.8h0M313.9 82.5h0M320.4 69.6h0M341.1 25.7h0M267.4 126.1h0M282 95.8h0M281.8 125.7h0M290 131.6h0M285.2 96.8h0M306.6 82.4h0M320.5 71.3h0M322.7 61.4h0M293.3 100.8h0M278.7 123.1h0M346.8 27.6h0M294.9 94.1h0M272.1 122.8h0M340.6 40.9h0M301.6 69.7h0M320.8 74.7h0M303 73.7h0M353.3 28.2h0M304.4 66.4h0M329.4 67.2h0M300.8 91.2h0M310.7 61.7h0M300.8 78.1h0M274.4 112h0M309.7 80.3h0M340.4 30.9h0M333.8 34.6h0" stroke="#ff0000" stroke-width="3.8" stroke-linecap="round" stroke-opacity="0.55" fill="none"/>
<path d="M286.4 85h0M297.9 77.2h0M315 72.6h0M293.6 105.5h0M275.8 114.5h0M311.9 77.2h0M321.7 46h0M298.1 97.5h0M291.7 109.8h0M362.1 23.2h0M352 28.6h0M336.3 47.6h0M343.8 42.5h0M322.5 57.5h0M318 72.1h0M322.2 74.6h0M304.1 76h0M303.8 91.5h0M300.1 95.8h0M299.6 81.6h0M338.2 21.3h0M287 78.6h0M313.9 92.3h0M343.4 38.8h0M323.7 75.4h0M281.6 96.2h0M287.2 106.2h0M310.8 75.8h0M300.7 91.8h0M309.4 72.1h0M369.6 21.1h0M313.3 66.7h0M329.1 65.7h0M317.7 56.2h0M286.5 93h0M298.4 64.3h0M325.3 62.6h0M302 97.6h0M320.2 65.4h0M298 88.1h0" stroke="#ff0000" stroke-width="3.8" stroke-linecap="round" stroke-opacity="0.55" fill="none"/>
<path d="M276.6 98.9h0M289.9 83.7h0M329.8 57.8h0M292.3 84.5h0M280.8 113.9h0M275.3 111.7h0M325.7 75.9h0M307.3 73.6h0M300.2 86.8h0M330.4 54h0M279.1 123.3h0M291.2 100.3h0M276.5 116.7h0M318.1 60.1h0M320.4 85h0M333.6 59h0M306.8 81.9h0M331.4 59.4h0M299.3 103.5h0M296.4 66.3h0M366.1 26h0M269.7 110.9h0M293.6 104.7h0M290.9 93.5h0M323.5 62.1h0M313.2 78.3h0M311.2 86.3h0M324.8 66.9h0M319.7 53.7h0M277 96h0M336.5 45.9h0M286.3 112h0M317.4 56.1h0M332.3 39.1h0M284.6 113.4h0M322.7 49.6h0M321.9 63.1h0M293.3 93.2h0M269.3 115.9h0M339.1 35h0" stroke="#ff0000" stroke-width="3.8" stroke-linecap="round" stroke-opacity="0.55" fill="none"/>
<path d="M314.7 95h0M308 74.3h0M301.4 79.7h0M298.2 88.9h0M342 62.5h0M313.1 62.2h0M303.7 94.8h0M261.2 122.6h0M337 50.2h0M307.7 83.3h0M349.2 37.9h0M336.6 56.6h0M302.2 95.8h0M347.3 31.8h0M325.4 37.6h0M273.9 108.7h0M284.2 97.9h0M295.4 92.6h0M307.8 77.8h0M289.9 79.6h0M292.4 85.2h0M302.7 77.4h0M315.8 75h0M282.3 86.9h0M322 80.5h0M334.5 70.5h0M299.8 55.9h0M306.9 80.2h0M321.2 62.3h0M258.1 121.9h0M327.1 67.2h0M291.2 103.7h0M352.5 32.7h0M308.4 79h0M304.1 99.2h0M335.2 37.2h0M325.3 56.6h0M307.3 81.7h0M313.6 76.7h0M286.6 90.4h0" stroke="#ff0000" stroke-width="3.8" stroke-linecap="round" stroke-opacity="0.55" fill="none"/>
<path d="M279.8 106h0M286.1 106.5h0M319.3 60h0M260.1 114.2h0M280.3 111.3h0M299.1 78.2h0M318.6 64.3h0M312 53.7h0M332.9 76.8h0M330.5 52.2h0M294.7 80.4h0M295.9 75.3h0M304.1 79.6h0M333.1 35.4h0M306.2 79.8h0M321.7 61.1h0M312.8 69.9h0M335 55.9h0M325.9 71.7h0M319.6 63.7h0M312 83.1h0M280.5 112.9h0M315.9 73.7h0M311.6 76.1h0M283.2 117.8h0M314 58.2h0M336.2 56.4h0M285.5 98h0M313 66.5h0M354.4 38h0M330.4 54.8h0M352.9 38.8h0M256.1 125.3h0M257.6 128.8h0M326.4 54.5h0M314 83.1h0M320.7 93.1h0M357.1 25.8h0M299.4 131.8h0M363.5 54.1h0" stroke="#ff0000" stroke-width="3.8" stroke-linecap="round" stroke-opacity="0.55" fill="none"/>
<path d="M324.7 52.6h0M268.8 125.5h0M337.2 67.7h0M342.6 40.4h0M322 64.8h0M281.9 130.7h0M297.7 80.4h0M284.4 108.5h0M294.6 83.9h0M317.5 80h0M307.1 69.9h0M280.3 107.9h0M333.2 37.1h0M359.3 26.2h0M313.2 71.1h0M287.5 101.8h0M283 108.3h0M302.2 93h0M288.5 131.6h0M298.2 87.7h0M317.6 81h0M300 80.4h0M273.1 118.8h0M281.7 95.9h0M310.6 70.4h0M320.9 74.6h0M283.1 96.1h0M339.4 56.5h0M336.9 46.3h0M324.2 61.2h0M312.7 98.3h0M306.4 70.4h0M308.6 73.2h0M324.4 72.8h0M288.3 113.2h0M316.9 58.6h0M306.1 85.2h0M328.4 37.8h0M336.1 44.3h0M333.9 54.3h0" stroke="#ff0000" stroke-width="3.8" stroke-linecap="round" stroke-opacity="0.55" fill="none"/>
<path d="M333.4 22h0M322.6 67.1h0M331.5 58h0M308.9 94.8h0M319.1 59.4h0M274.8 95.7h0M287.8 100.7h0M298.4 97.5h0M301.5 88.3h0M299.4 109.5h0M341.2 50.5h0M309.3 83.9h0M327.1 75.3h0M282.8 138.4h0M307 96.5h0M307.6 83h0M324.4 58.5h0M302.7 70h0M315.4 56.5h0M276.1 109.5h0M322.5 56.2h0M283.5 99.2h0M270 109.9h0M303.8 74.5h0M300.8 94.2h0M291.9 76.2h0M312.4 77.8h0M326.2 57.4h0M350 35.3h0M291.4 98.4h0M318 80h0M322.3 63.2h0M324.7 54.1h0M346.7 58.2h0M310.6 96.3h0M277.7 117h0M308 57.6h0M295.6 81h0M315.2 64h0M344.3 52h0" stroke="#ff0000" stroke-width="3.8" stroke-linecap="round" stroke-opacity="0.55" fill="none"/>
<path d="M313.2 55.5h0M336.6 54h0M332.2 51.4h0M355.6 50.3h0M300.9 97.8h0M334.7 24.9h0M286.2 88.1h0M288.9 101.7h0M342.6 45.2h0M319.7 70.1h0M340.8 57.3h0M296.6 94.9h0M291 111.8h0M307.4 68.9h0M338.4 39h0M296.2 94.2h0M315.7 63.9h0M320.7 70.4h0M268.6 87.8h0M312.4 80.1h0M298.2 87.9h0M336.9 22.7h0M284.9 107.2h0M319.6 71.1h0M293 77.9h0M297.6 82h0M291.3 114.7h0M311.9 69.9h0M349.1 55.4h0M311.6 81.3h0M295.6 73.7h0M355.5 25.6h0M321.7 69h0M308.1 73.8h0M316.6 74.8h0M327.7 65h0M335.9 50.9h0M292 99.5h0M299.9 92.2h0M297.9 75h0" stroke="#ff0000" stroke-width="3.8" stroke-linecap="round" stroke-opacity="0.55" fill="none"/>
<path d="M353.4 29.7h0M282.1 108.5h0M325.9 56.4h0M290.8 96.5h0M336 54.2h0M323.7 61.9h0M288.2 92h0M302.5 101.1h0M294 89.5h0M331.1 64h0M315.2 78.6h0M326.7 53.7h0M293.2 84.9h0M333.2 54.9h0M282.1 112.5h0M284.4 101.7h0M305.2 98.4h0M296.7 88.4h0M284.5 109.8h0M295.5 89.6h0M313.7 74.6h0M325.1 60.2h0M281.3 114.3h0M331.7 57.4h0M328.9 39h0M317.7 87.7h0M292.9 93.5h0M309.6 99h0M347.3 43.3h0M317.6 62.9h0M315.9 61.2h0M292.6 95.1h0M329.9 67.7h0M278.2 85.5h0M296.4 86.7h0M285.6 108h0M314 73.3h0M322.8 59.8h0M328.1 22h0M359.9 31.9h0" stroke="#ff0000" stroke-width="3.8" stroke-linecap="round" stroke-opacity="0.55" fill="none"/>
<path d="M321.8 64.8h0M306.5 65.2h0M337.6 33.7h0M281.8 104.9h0M293.9 75.2h0M326.9 59.5h0M309.7 96.1h0M302.2 91.7h0M275.5 116.6h0M288.3 99h0M304.1 72.5h0M300.9 87.7h0M299.9 87.4h0M299.9 107.2h0M270.9 138.5h0M350.2 25.6h0M307 51.9h0M300.9 86.6h0M287.9 84.5h0M308.1 76.5h0M296.1 67.4h0M263.1 103.1h0M323.7 56.9h0M313.4 78.6h0M323 76.8h0M343.9 38.2h0M316.3 74.9h0M290 97.8h0M332 44.8h0M340.4 51.1h0M288.6 84.9h0M327.8 28.5h0M270.5 111.5h0M311.9 61h0M310.4 86.2h0M338 65.4h0M316.7 79.7h0M318 62.2h0M339.9 41.3h0M309 56.8h0" stroke="#ff0000" stroke-width="3.8" stroke-linecap="round" stroke-opacity="0.55" fill="none"/>
<path d="M358.2 44.6h0M305.5 57.9h0M278.1 111h0M333 64.1h0M335.7 38.5h0M306.1 67.2h0M285.6 113.9h0M280.1 106h0M319.3 68.6h0M320 63.1h0M291.9 95.9h0M289.7 91.7h0M333.2 57.6h0M301.3 88.9h0M304.1 91.4h0M330.9 54.3h0M295.2 95.5h0M298 110.5h0M300.8 97.3h0M314.3 88.6h0M279.3 101.6h0M305.2 82.9h0M297.7 82.8h0M278.3 84.6h0M321.8 63h0M299.9 94.9h0M345 58.7h0M315.9 72.6h0M292.1 90.5h0M252.9 133.8h0M330.4 57.1h0M311 85h0M320.1 55.6h0M307.9 83.7h0M299 71.3h0M340.3 41.3h0M299.2 84.7h0M337 43.1h0M301.1 68.1h0M280.5 98.2h0" stroke="#ff0000" stroke-width="3.8" stroke-linecap="round" stroke-opacity="0.55" fill="none"/>
<path d="M274.6 99.3h0M302 73.7h0M284.9 99.6h0M289.7 97.2h0M326.4 44.7h0M319.7 58.7h0M337.9 52.3h0M268.8 127.8h0M332.2 52.7h0M320.1 70.1h0M272.7 86.8h0M315.8 67.8h0M336.8 67.6h0M302.7 98.5h0M306 75h0M288.5 102.7h0M288.4 91.9h0M322.2 59.5h0M325.1 56.8h0M340 27.2h0M295 85.3h0M284 86.7h0M291.4 100.3h0M328.1 69h0M289.8 101.8h0M331.4 68.3h0M310.1 68.9h0M329.9 57.3h0M332.1 70.7h0M309.6 82.2h0M284.2 94.2h0M333.8 83.1h0M312.5 70.8h0M297.3 74.6h0M277.1 134.6h0M297.5 77h0M286.3 85.4h0M303.3 71.9h0M295.6 83.7h0M288.2 100.6h0" stroke="#ff0000" stroke-width="3.8" stroke-linecap="round" stroke-opacity="0.55" fill="none"/>
<path d="M303.5 91.9h0M290.1 71.3h0M286.1 90.5h0M296.5 88.1h0M329.7 79h0M283.9 91h0M325.8 49.1h0M303.6 101.8h0M330.2 84.3h0M331.5 89.1h0M291.8 95h0M284.4 79.6h0M300.3 82.7h0M296.5 102.6h0M290.9 101.9h0M320.4 68.5h0M357 28h0M335.7 67.3h0M309.7 42.4h0M314.9 65.2h0M319.7 89.6h0M272.1 96.3h0M332.1 76.5h0M323 70.9h0M278.2 105.4h0M309.4 87.4h0M304.5 73.4h0M295.3 82.9h0M310.6 84.7h0M261.3 113.3h0M315.6 57.9h0M288.8 100.3h0M328.9 43.5h0M309.5 50.3h0M267.3 135.2h0M302.3 66.9h0M331.6 63.7h0M283.9 137.7h0M307.4 88.2h0M310.2 83.7h0" stroke="#ff0000" stroke-width="3.8" stroke-linecap="round" stroke-opacity="0.55" fill="none"/>
<path d="M278.3 103h0M281 106h0M268.4 123.3h0M306.5 85.3h0M290.2 100.4h0M297.6 107.5h0M299.6 69.1h0M285.2 98.4h0M317.6 66.3h0M302.1 77.6h0M283.5 95.4h0M295.4 128.1h0M296.7 82.3h0M318.4 77.9h0M324.5 32.1h0M289.4 126.3h0M334.2 61.5h0M282 93.9h0M270 102.3h0M301.2 82.9h0M280.7 113.7h0M273.6 112.1h0M317.3 71.1h0M277.8 111.3h0M282.5 112.2h0M324.4 49.4h0M301 82.3h0M348.6 44.2h0M325.6 66.3h0M332.4 84.4h0M293.8 94.5h0M318.1 73.5h0M305 69.5h0M295.3 91.6h0M307.7 78h0M324.6 64.7h0M344.9 38.9h0M343.6 36.5h0M302.5 109.7h0M331.9 52.9h0" stroke="#ff0000" stroke-width="3.8" stroke-linecap="round" stroke-opacity="0.55" fill="none"/>
<path d="M341.7 29.7h0M279 63.8h0M321 50.7h0M305.7 80h0M316.9 71.6h0M326.5 49.3h0M289.6 101.5h0M297.7 84.2h0M310.2 83.7h0M318.6 72.1h0M353.3 32.7h0M304.5 61.6h0M294.9 83.5h0M306.6 51.2h0M294.9 95.5h0M296.6 80.9h0M304 87.8h0M311.4 80.5h0M270.9 102.4h0M314.5 59.2h0M284 96.1h0M339 35h0M293 94.2h0M281.8 89.1h0M309 78.1h0M299.7 135.1h0M309.9 97.4h0M347.1 47.3h0M303 77h0M283 97.5h0M284.3 98.2h0M330.1 45.4h0M295.7 107.4h0M276.6 117.1h0M277 99.7h0M339 39.2h0M299.2 69.9h0M310.2 92.6h0M309.8 86.1h0M311 82.5h0" stroke="#ff0000" stroke-width="3.8" stroke-linecap="round" stroke-opacity="0.55" fill="none"/>
<path d="M262.9 127.3h0M290.6 96h0M279.1 102.7h0M281 101.2h0M358.1 43.3h0M308.8 83.2h0M305.4 109h0M267.9 118.7h0M319.2 82.5h0M312.9 75.7h0M289.6 102.8h0M312 64h0M333.3 54.6h0M293.6 81h0M329.6 57.9h0M328.8 43.2h0M334.3 62.1h0M288.5 97.2h0M280 120.1h0M323.9 70.3h0M309.9 53.9h0M290.1 96.1h0M307.7 78.8h0M294.2 109.5h0M329.6 52.1h0M343.2 37.6h0M281.8 119.5h0M311.6 64.9h0M305.6 74.7h0M264.3 127.5h0M330.7 62.3h0M290.5 103.3h0M289.5 100h0M317 79.2h0M321.1 22.8h0M285.7 94.3h0M305 90.7h0M327.3 50.7h0M313.1 59.5h0M303.4 92.4h0" stroke="#ff0000" stroke-width="3.8" stroke-linecap="round" stroke-opacity="0.55" fill="none"/>
<path d="M297.4 79.6h0M334.8 53.7h0M314.1 59.7h0M309.5 93.3h0M304.9 72.6h0M313.9 65.3h0M315.4 74.3h0M292.2 89.4h0M287.2 98.9h0M275.6 119.7h0M300 104.6h0M319.1 63.7h0M350.2 28.5h0M328.6 51.2h0M324.4 71.9h0M291.7 91.5h0M293.2 105.1h0M307.3 80.2h0M269.3 108.8h0M339.2 71.3h0M303.7 100.8h0M316.3 80.3h0M335.9 51h0M313.6 81.5h0M334 44.9h0M296 74.4h0M315.2 45.7h0M308.1 76.4h0M321.4 93.7h0M329.5 50h0M284.4 92.1h0M295.8 88.5h0M285.9 100.7h0M293.4 99.1h0M310 75.6h0M287 92.9h0M313.7 55.5h0M287.2 90.4h0M306.4 87.2h0M340 37.9h0" stroke="#ff0000" stroke-width="3.8" stroke-linecap="round" stroke-opacity="0.55" fill="none"/>
<path d="M277 103.2h0M312.9 67.2h0M321.6 67h0M292.7 106.5h0M279.5 105.8h0M346 40.4h0M320.3 51.7h0M306.3 81.2h0M292.9 95.1h0M288.8 81.5h0M306.5 82.1h0M310.7 79.9h0M278.5 102.4h0M326.5 75.9h0M273 99.8h0M325 59.3h0M274.4 114.2h0M328.1 45.4h0M291.6 89.9h0M288.6 117h0M320.1 89h0M290.5 99.3h0M259.5 123.9h0M316.5 79.6h0M320.4 65.4h0M340.7 60.6h0M325.2 58.7h0M271.3 130.8h0M285.9 89.1h0M281.6 116.9h0M309.7 65.7h0M294.7 92.2h0M312.4 86.2h0M318.2 74.1h0M309.8 84.9h0M317.7 82.5h0M343.8 50.9h0M317.6 75.4h0M312.8 72.6h0M315.2 95.2h0" stroke="#ff0000" stroke-width="3.8" stroke-linecap="round" stroke-opacity="0.55" fill="none"/>
<path d="M363.6 33.1h0M277.9 112h0M315.6 58.4h0M321.7 61.3h0M300.6 64.9h0M328.9 45.3h0M319.3 61h0M305.7 86.5h0M329.4 76.3h0M301.9 98.5h0M341 29.2h0M276.2 107h0M322.9 75.7h0M308.8 77h0M325.3 78.7h0M288 115.7h0M335 40.5h0M337 53.5h0M258.7 114.1h0M294.8 93.6h0M314.3 79.9h0M316.7 82.5h0M324.1 97.8h0M340 33.1h0M337.2 48.4h0M333.9 47.7h0M319.9 67.7h0M343 31.5h0M322.6 41.7h0M297.8 95h0M305.4 75.2h0M285 80.8h0M256.8 104.6h0M294.6 86.7h0M303.5 86.6h0M362.1 47.2h0M309.9 81.8h0M319 67.7h0M259.4 122.2h0M364.9 37.2h0" stroke="#ff0000" stroke-width="3.8" stroke-linecap="round" stroke-opacity="0.55" fill="none"/>
<path d="M286 111.1h0M309.3 79.5h0M337.9 35.8h0M264 122.4h0M303.6 94.6h0M298.5 80.2h0M274.5 102.6h0M299.8 123.2h0M264.4 105h0M309.5 84h0M335.3 40.7h0M315.9 61.3h0M318 51.8h0M295.1 107.5h0M278.4 114.6h0M289 87.8h0M317.2 70.8h0M284.5 131.7h0M314.5 40.8h0M291.4 94.6h0M298.3 73.7h0M266.7 123h0M309.6 75.2h0M328.1 52.9h0M301.8 82.9h0M326.5 24.6h0M345.7 64.6h0M321.3 72.2h0M289.9 107.4h0M305 91.7h0M314.1 42.2h0M288.3 112.2h0M321.2 72.1h0M299.8 82.3h0M340.7 39.8h0M308.4 90.8h0M327.2 56.9h0M299.6 88.2h0M266.4 118.4h0M301.2 77.9h0" stroke="#ff0000" stroke-width="3.8" stroke-linecap="round" stroke-opacity="0.55" fill="none"/>
<path d="M306.5 84.7h0M327.6 30.9h0M288.2 102.3h0M297.2 101.2h0M296.9 87.1h0M315.6 37.2h0M294.3 86.1h0M281.6 99.1h0M335.9 37.9h0M272.9 102.7h0M318.8 73.1h0M312.4 77.6h0M304.9 88h0M263.2 97.3h0M294.7 82.8h0M300.9 78.1h0M342.7 34h0M299 63.2h0M272.5 120.7h0M313.8 73.9h0M350.8 25.1h0M292.9 91.6h0M292.4 94.9h0M331.3 79.2h0M322.1 71.7h0M295.6 95.5h0M306.6 86h0M324.6 67.1h0M301 91.8h0M284 102.3h0M291.8 107.7h0M290.1 97.8h0M298.3 92.3h0M323 72.4h0M296.1 90.4h0M305.9 70.1h0M356.4 53.7h0M337.6 52.4h0M306.7 89.7h0M320.2 51.9h0" stroke="#ff0000" stroke-width="3.8" stroke-linecap="round" stroke-opacity="0.55" fill="none"/>
<path d="M346.8 50.6h0M301.9 88.5h0M305.5 91.2h0M287.9 105.1h0M317.7 65.2h0M308.7 81.7h0M342 31.3h0M306.7 86.4h0M311.9 77.8h0M307.2 63.4h0M344.4 44.8h0M302 83.6h0M291.8 103.9h0M336.7 59.4h0M283.4 115.4h0M292.2 88.9h0M276.5 76.8h0M305.1 86.7h0M342.5 41.1h0M319.4 74.2h0M296.1 100.4h0M327.9 59.9h0M284.8 115.4h0M290.6 67.9h0M298.8 102.9h0M316 73.8h0M272 101.5h0M320.6 51.7h0M323.8 56.1h0M349.8 25.1h0M316.4 70.9h0M293.6 88.9h0M285.2 103.6h0M311 76.5h0M295.7 99.1h0M296.2 73h0M309.5 75.9h0M348.7 43.2h0M339.2 32.9h0M297.6 103.3h0" stroke="#ff0000" stroke-width="3.8" stroke-linecap="round" stroke-opacity="0.55" fill="none"/>
<path d="M302.7 91.2h0M342.6 33h0M271.1 98.7h0M341 60.1h0M276.5 105.4h0M344.4 54.3h0M308.7 63.3h0M284.1 82.6h0M308.6 73.8h0M348.2 39.7h0M329.4 57.5h0M326.9 53.1h0M286.7 104h0M334.9 46.7h0M345 46.7h0M286.5 115.4h0M284.6 97.1h0M330.7 50.5h0M350.6 50.9h0M347.8 37h0M266.8 103.3h0M329.3 74.2h0M283.8 97.9h0M310 94.8h0M278.1 94.8h0M302.7 76h0M331.4 69.9h0M274.5 117.4h0M317.8 64.9h0M294.7 90.8h0M280.3 95.4h0M299.2 64.7h0M310.7 84.9h0M291.9 82.9h0M328.1 50.6h0M271.1 122.2h0M298.5 81.6h0M303.3 71.2h0M322.8 77.3h0M279.1 128.2h0" stroke="#ff0000" stroke-width="3.8" stroke-linecap="round" stroke-opacity="0.55" fill="none"/>
<path d="M313.4 74.9h0M307.6 60.1h0M311.2 74.6h0M354.8 32.2h0M288.5 124.1h0M287.9 108.4h0M313.2 61.5h0M304.8 72.5h0M355.6 24.6h0M285.1 106.4h0M327.4 65.6h0M309.4 92.9h0M300.7 69h0M324.4 49.7h0M320.9 81.5h0M310.5 85.4h0M274.4 106.1h0M312.8 90.5h0M279.2 101.1h0M354 21.8h0M294.1 95.6h0M309.5 85.4h0M313.3 71.9h0M287.4 109.8h0M300.7 82.8h0M292.6 79.2h0M301.6 82.6h0M275.7 118h0M318.6 53.2h0M344.2 36.5h0M284.6 101.9h0M264 116.4h0M289.2 102.9h0M306 99.5h0M310.5 68.3h0M346.3 35h0M300.7 82.1h0M289.4 105.7h0M323.3 49.2h0M304.6 64.1h0" stroke="#ff0000" stroke-width="3.8" stroke-linecap="round" stroke-opacity="0.55" fill="none"/>
<path d="M337.3 44.7h0M329.7 63.4h0M301.6 100.8h0M341.9 34h0M319.4 51.6h0M300.7 74h0M321.5 76.6h0M277.4 103.7h0M293.2 93.1h0M338.8 51.9h0M332.4 60.9h0M313.4 54.3h0M330.4 56.3h0M285.4 119.7h0M306.3 78.5h0M310 75.1h0M265.3 106.3h0M287.3 101.6h0M275.9 114.9h0M338.5 53h0M299.1 106.3h0M285.8 102.8h0M300.3 119.6h0M316.1 99.6h0M304.5 85.9h0M308.3 74.2h0M347.5 25.8h0M287.2 64.1h0M315.5 64.8h0M322.3 59.6h0M313.5 119.6h0M292.9 102.6h0M329.1 71.4h0M290.3 94h0M326.8 64.6h0M320.7 62.7h0M275.8 111.5h0M291.8 119.9h0M295.3 87.8h0M285.5 95.5h0" stroke="#ff0000" stroke-width="3.8" stroke-linecap="round" stroke-opacity="0.55" fill="none"/>
<path d="M300.5 66.2h0M278 95.6h0M333.9 62.4h0M289.9 101h0M296.2 81.6h0M308.5 66.1h0M344.9 42.8h0M270.6 84.7h0M304.4 71.9h0M285.5 93.1h0M338.8 61.5h0M298.6 82.7h0M292.1 90.5h0M303.7 65.8h0M323.2 61.1h0M283.1 109.4h0M309 76.9h0M311.9 72.2h0M300.4 110.4h0M281.3 116.5h0M313.3 59.3h0M296 76.1h0M349.3 47.3h0M350.5 30.5h0M264.3 124.4h0M304.1 80.2h0M296.5 79.5h0M277.6 125.9h0M338.6 38.9h0M317.7 70.1h0M317.6 67.6h0M316.2 93.6h0M280.7 104.7h0M276.5 116.5h0M342.7 45.9h0M318.9 46.9h0M286.2 93.2h0M306.9 68.4h0M304.7 77.1h0M281.1 111.7h0" stroke="#ff0000" stroke-width="3.8" stroke-linecap="round" stroke-opacity="0.55" fill="none"/>
<path d="M298.4 74.8h0M319.4 73.5h0M308.6 85.4h0M279.9 107.1h0M313 67.7h0M303.4 115.8h0M312.7 62.4h0M302.6 100.6h0M291.9 108.2h0M305.6 71.7h0M290.3 85.5h0M328 77.3h0M343.3 55.1h0M332.9 60.1h0M329.6 65h0M291.9 119.2h0M286.2 97.7h0M340.7 74.2h0M294.6 91h0M299.2 90.7h0M340.9 63.6h0M305.1 75.5h0M278.5 109.9h0M314.6 71.2h0M279.9 81.5h0M308.1 91.4h0M325.4 43.5h0M286.2 105.1h0M298.9 86.9h0M295.4 56.1h0M320.4 79.5h0M309.7 80.3h0M295.4 82.5h0M332.8 55.8h0M323.6 70.2h0M301.4 81.5h0M305 89.7h0M304.5 74.2h0M303 71.1h0M310.2 79.7h0" stroke="#ff0000" stroke-width="3.8" stroke-linecap="round" stroke-opacity="0.55" fill="none"/>
<path d="M325.1 58.2h0M290.1 94.1h0M298.6 95.6h0M310.1 66.5h0M264.3 126.4h0M323.9 70.9h0M291.5 72.7h0M323.9 43.3h0M301.9 101.1h0M307.8 79.5h0M310.5 66h0M335.8 64.4h0M300.8 87.7h0M304 63.1h0M318.9 75.3h0M263 109.3h0M352.9 20.5h0M313.5 66.1h0M323.2 56.8h0M346.1 44.1h0M318.7 79.4h0M259.4 113.9h0M314.6 50.4h0M297 92.4h0M316.7 75.9h0M313.1 72.6h0M281.2 99h0M337 47.2h0M303.5 89.4h0M272.4 112.2h0M318.3 75.9h0M301.8 74.8h0M289.8 112.8h0M293.9 90.6h0M333.2 78.3h0M293.8 113.7h0M292.3 79.8h0M324.4 70h0M300.8 60.4h0M294 57.2h0" stroke="#ff0000" stroke-width="3.8" stroke-linecap="round" stroke-opacity="0.55" fill="none"/>
<path d="M320.5 59.1h0M298.8 82.6h0M273.5 93.6h0M295.6 88.2h0M353.2 31.3h0M314.8 66.8h0M268.7 93.1h0M330.8 56.9h0M340.8 38.3h0M344.1 56.2h0M283.9 84.3h0M316 57.8h0M304.1 80.8h0M288.5 96h0M334.7 38.1h0M328.9 75.4h0M315.9 73.4h0M290 101h0M294.1 90.4h0M291 103.4h0M322.2 59.4h0M286.1 103.5h0M311.2 87.7h0M282.9 108.9h0M311.7 74.1h0M344.9 52.3h0M337.2 61h0M314.9 81.3h0M324.2 72.2h0M331.2 66.3h0M260.9 96.3h0M287 108.1h0M342.8 45.8h0M326.1 57.2h0M264 110.2h0M293 91.5h0M329 56.5h0M294.4 83h0M288.8 89.6h0M307.4 78.5h0" stroke="#ff0000" stroke-width="3.8" stroke-linecap="round" stroke-opacity="0.55" fill="none"/>
<path d="M343.3 47.7h0M328 56.8h0M275.8 136.5h0M304.1 96.4h0M288.8 97.5h0M296.9 103.9h0M333.2 79.1h0M302.3 81.5h0M313 76.7h0M290.9 86.8h0M297.8 91.7h0M291.8 85.2h0M316.6 63.3h0M334.2 49.6h0M309.5 83.7h0M338.7 66h0M323.8 64.6h0M319.5 86.9h0M339.5 44.3h0M356.3 20.7h0M285.1 128.8h0M301.2 93.9h0M328.8 44.8h0M315.7 65.5h0M328.5 58.8h0M306.2 99.6h0M340.7 33.2h0M306.3 65.7h0M295.7 91.7h0M308.2 116.3h0M272.7 97.3h0M340.6 50.6h0M354.2 45h0M297.6 93.7h0M309.7 74.5h0M305.6 71.1h0M309.7 71.5h0M267.3 109.7h0M330.7 57.8h0M315.4 75.4h0" stroke="#ff0000" stroke-width="3.8" stroke-linecap="round" stroke-opacity="0.55" fill="none"/>
<path d="M281.7 124.6h0M296.7 92.3h0M285.4 103.1h0M337.6 41.9h0M315.1 59.5h0M287.4 105.9h0M347.9 43.6h0M308.2 67.8h0M336.8 35.8h0M288.6 108.2h0M294.6 100.4h0M313.2 75.1h0M299.3 87.8h0M305.5 84.1h0M325.3 56.2h0M299.1 85.3h0M302.5 70h0M286.3 100.7h0M336.8 38.4h0M283.2 108h0M335.4 54.4h0M324.3 66.8h0M314 46.2h0M293.3 81.8h0M308.4 69.8h0M340.2 57.2h0M310.8 80.3h0M309.1 75.6h0M296.7 77.9h0M302.4 84.2h0M316.6 74h0M276.7 104.5h0M351.7 22.3h0M331.9 70.2h0M272.4 86.9h0M285.7 90.3h0M302.2 108.8h0M286.8 74.2h0M316.1 61h0M329.4 71.4h0" stroke="#ff0000" stroke-width="3.8" stroke-linecap="round" stroke-opacity="0.55" fill="none"/>
<path d="M299.7 96.8h0M307.3 92.2h0M298.9 81.6h0M321.1 76.7h0M295.2 102.2h0M336.1 51.4h0M281.4 119.8h0M343 23.3h0M314.4 62.4h0M297.2 87h0M341.3 26.6h0M295.4 112.4h0M303 74.7h0M278.6 103.1h0M317.1 66.2h0M282.2 97.1h0M302.5 103.9h0M313.5 81.8h0M308.6 56.4h0M294.5 78.9h0M309.6 77.9h0M321.3 52.8h0M316.2 62.2h0M336.6 51.3h0M322.5 66h0M351.1 45.5h0M268.7 109.7h0M309.9 53.6h0M299.9 80.4h0M302.1 65h0M324.4 59.1h0M311.3 117.4h0M301.4 93.1h0M307.4 90.1h0M304.5 80.8h0M311.2 70.2h0M279.6 108.3h0M315.4 78.1h0M320 79.5h0M317.2 93h0" stroke="#ff0000" stroke-width="3.8" stroke-linecap="round" stroke-opacity="0.55" fill="none"/>
<path d="M306.6 82.3h0M288.3 99.2h0M304.2 43.8h0M305.8 86.5h0M336.5 46.6h0M309.5 109.7h0M358.7 30.1h0M271.8 115.8h0M323.9 67.6h0M309.2 87.6h0M354.2 43.5h0M367 43h0M326.5 65.3h0M293.5 111h0M358 20.7h0M276.4 117.1h0M274.7 97.4h0M301.4 81.8h0M327.6 59.4h0M302.3 97.8h0M284.5 89.6h0M288.4 103h0M254.9 131.9h0M361.3 23h0M333.9 47h0M291.6 88.5h0M352.6 50.2h0M299.6 80.1h0M275.6 121.9h0M349.1 46.8h0M335.7 64.1h0M313.9 76.5h0M302.9 86.4h0M319.2 78.5h0M273.2 110.5h0M294.2 112.8h0M342.5 52.9h0M303.7 66.4h0M285.5 100.2h0M316.6 77.1h0" stroke="#ff0000" stroke-width="3.8" stroke-linecap="round" stroke-opacity="0.55" fill="none"/>
<path d="M288.2 106.4h0M325.5 24.9h0M326.1 79h0M328.2 40.6h0M333.2 41.9h0M313.4 82h0M302.3 90.2h0M356.5 39.3h0M286.4 114.6h0M328.7 57.9h0M329.1 56.4h0M301.5 89.9h0M291.7 84.6h0M301.6 72.4h0M300.8 94.9h0M315 63h0M310.1 73.5h0M314.2 89.9h0M287.7 93.3h0M305 95.7h0M281.1 113h0M290.9 113.4h0M338.4 47.9h0M287.2 106.4h0M346.8 58.6h0M356.7 48.5h0M349.8 55.8h0M319.2 79.2h0M339.2 55.8h0M323.7 51.9h0M298.9 95.5h0M301 85.2h0M344.8 30.3h0M313.1 82.6h0M265.4 119.2h0M317 56.8h0M324.2 80.9h0M301.5 83h0M341.4 57.3h0M290.3 95.7h0" stroke="#ff0000" stroke-width="3.8" stroke-linecap="round" stroke-opacity="0.55" fill="none"/>
<path d="M316.5 66.1h0M262.2 105.5h0M291.8 106h0M316.7 66h0M290.2 98.7h0M280.5 112.7h0M263 126.8h0M316.7 96.1h0M305.5 87.1h0M298 98.4h0M311.7 60h0M303.5 76.2h0M321.9 58.4h0M314.2 61.8h0M317.8 78.1h0M324.7 55.3h0M286.4 109h0M297.5 104.3h0M291.5 128.9h0M327.2 52.5h0M294.7 96.2h0M306.5 79.1h0M282.1 110.1h0M274.2 110.4h0M267.3 117.4h0M339 48h0M289.2 89.3h0M315.1 69.3h0M304.3 82.2h0M307.4 78.1h0M322.6 50.7h0M315.9 68.8h0M314.8 67.2h0M290.2 90.7h0M326.8 76.5h0M303.9 74.8h0M293.8 99.6h0M323.7 49.3h0M354.9 44h0M311.2 77.2h0" stroke="#ff0000" stroke-width="3.8" stroke-linecap="round" stroke-opacity="0.55" fill="none"/>
<path d="M349.6 31.6h0M288.3 85.9h0M325.7 51.2h0M294 90h0M279.2 112.8h0M297.6 97.9h0M349.6 29.7h0M303.5 59.3h0M327.6 54h0M337.6 45.5h0M268.4 125.2h0M319.5 78.1h0M318.1 76.2h0M269.9 132h0M274.8 85.9h0M304.8 91.5h0M277.5 126.5h0M270.7 116.9h0M284.2 88.9h0M351.9 38.5h0M333.9 75.2h0M299.1 93.3h0M360.3 31.6h0M290.2 117.6h0M295.4 97.3h0M289.1 109.1h0M304.4 116.2h0M314.8 55.2h0M323.8 81.5h0M323.1 41.4h0M291.9 99.6h0M354.3 29.7h0M354.5 47.9h0M369.3 20.1h0M349.8 42.8h0M297 90.1h0M286.1 87.7h0M328 56.2h0M332.6 46.6h0M296.9 80.4h0" stroke="#ff0000" stroke-width="3.8" stroke-linecap="round" stroke-opacity="0.55" fill="none"/>
<path d="M255.4 68.3h0M262.1 75.3h0M269.5 75.3h0M273.1 47.7h0M282.3 52.4h0M287.7 53.7h0M274 81.1h0M244 137.5h0" stroke="#ff0000" stroke-width="3.8" stroke-linecap="round" stroke-opacity="0.55" fill="none"/>
</g>
<line x1="40.5" y1="158.3" x2="186.5" y2="5.5" stroke="#222" stroke-width="1"/>
<line x1="40.0" y1="5.5" x2="187.0" y2="5.5" stroke="#b5b5b5" stroke-width="1"/>
<line x1="40.5" y1="5.5" x2="40.5" y2="158.3" stroke="#a5a5a5" stroke-width="1.05"/>
<line x1="186.5" y1="5.5" x2="186.5" y2="158.3" stroke="#888" stroke-width="1.1"/>
<line x1="40.0" y1="158.3" x2="187.0" y2="158.3" stroke="#606060" stroke-width="1.05"/>
<line x1="64.1" y1="158.3" x2="64.1" y2="160.5" stroke="#9a9a9a" stroke-width="0.9"/>
<text x="64.1" y="169.3" text-anchor="middle" font-size="7.3" fill="#4a4a4a" stroke="#4a4a4a" stroke-width="0.18">2.5</text>
<line x1="93" y1="158.3" x2="93" y2="160.5" stroke="#9a9a9a" stroke-width="0.9"/>
<text x="93" y="169.3" text-anchor="middle" font-size="7.3" fill="#4a4a4a" stroke="#4a4a4a" stroke-width="0.18">5.0</text>
<line x1="122" y1="158.3" x2="122" y2="160.5" stroke="#9a9a9a" stroke-width="0.9"/>
<text x="122" y="169.3" text-anchor="middle" font-size="7.3" fill="#4a4a4a" stroke="#4a4a4a" stroke-width="0.18">7.5</text>
<line x1="151" y1="158.3" x2="151" y2="160.5" stroke="#9a9a9a" stroke-width="0.9"/>
<text x="151" y="169.3" text-anchor="middle" font-size="7.3" fill="#4a4a4a" stroke="#4a4a4a" stroke-width="0.18">10.0</text>
<line x1="180" y1="158.3" x2="180" y2="160.5" stroke="#9a9a9a" stroke-width="0.9"/>
<text x="180" y="169.3" text-anchor="middle" font-size="7.3" fill="#4a4a4a" stroke="#4a4a4a" stroke-width="0.18">12.5</text>
<line x1="38.3" y1="133.7" x2="40.5" y2="133.7" stroke="#9a9a9a" stroke-width="0.9"/>
<text x="35.4" y="136.3" text-anchor="end" font-size="7.3" fill="#4a4a4a" stroke="#4a4a4a" stroke-width="0.18">2.5</text>
<line x1="38.3" y1="103.4" x2="40.5" y2="103.4" stroke="#9a9a9a" stroke-width="0.9"/>
<text x="35.4" y="106" text-anchor="end" font-size="7.3" fill="#4a4a4a" stroke="#4a4a4a" stroke-width="0.18">5.0</text>
<line x1="38.3" y1="73.1" x2="40.5" y2="73.1" stroke="#9a9a9a" stroke-width="0.9"/>
<text x="35.4" y="75.7" text-anchor="end" font-size="7.3" fill="#4a4a4a" stroke="#4a4a4a" stroke-width="0.18">7.5</text>
<line x1="38.3" y1="42.8" x2="40.5" y2="42.8" stroke="#9a9a9a" stroke-width="0.9"/>
<text x="35.4" y="45.4" text-anchor="end" font-size="7.3" fill="#4a4a4a" stroke="#4a4a4a" stroke-width="0.18">10.0</text>
<line x1="38.3" y1="12.5" x2="40.5" y2="12.5" stroke="#9a9a9a" stroke-width="0.9"/>
<text x="35.4" y="15.1" text-anchor="end" font-size="7.3" fill="#4a4a4a" stroke="#4a4a4a" stroke-width="0.18">12.5</text>
<text x="113.5" y="183" text-anchor="middle" font-size="9.9" fill="#000" stroke="#000" stroke-width="0.12">Simulated yield (Mg ha<tspan font-size="6.6" dy="-3.6">−1</tspan><tspan dx="0.6" dy="3.6">)</tspan></text>
<text transform="translate(13.899999999999999,80.5) rotate(-90)" text-anchor="middle" font-size="9.9" fill="#000" stroke="#000" stroke-width="0.12">Observed yield (Mg ha<tspan font-size="6.6" dy="-3.6">−1</tspan><tspan dx="0.6" dy="3.6">)</tspan></text>
<line x1="232.4" y1="158.3" x2="378.4" y2="5.5" stroke="#222" stroke-width="1"/>
<line x1="231.9" y1="5.5" x2="378.9" y2="5.5" stroke="#b5b5b5" stroke-width="1"/>
<line x1="232.4" y1="5.5" x2="232.4" y2="158.3" stroke="#a5a5a5" stroke-width="1.05"/>
<line x1="378.4" y1="5.5" x2="378.4" y2="158.3" stroke="#888" stroke-width="1.1"/>
<line x1="231.9" y1="158.3" x2="378.9" y2="158.3" stroke="#606060" stroke-width="1.05"/>
<line x1="256" y1="158.3" x2="256" y2="160.5" stroke="#9a9a9a" stroke-width="0.9"/>
<text x="256" y="169.3" text-anchor="middle" font-size="7.3" fill="#4a4a4a" stroke="#4a4a4a" stroke-width="0.18">2.5</text>
<line x1="284.9" y1="158.3" x2="284.9" y2="160.5" stroke="#9a9a9a" stroke-width="0.9"/>
<text x="284.9" y="169.3" text-anchor="middle" font-size="7.3" fill="#4a4a4a" stroke="#4a4a4a" stroke-width="0.18">5.0</text>
<line x1="313.9" y1="158.3" x2="313.9" y2="160.5" stroke="#9a9a9a" stroke-width="0.9"/>
<text x="313.9" y="169.3" text-anchor="middle" font-size="7.3" fill="#4a4a4a" stroke="#4a4a4a" stroke-width="0.18">7.5</text>
<line x1="342.9" y1="158.3" x2="342.9" y2="160.5" stroke="#9a9a9a" stroke-width="0.9"/>
<text x="342.9" y="169.3" text-anchor="middle" font-size="7.3" fill="#4a4a4a" stroke="#4a4a4a" stroke-width="0.18">10.0</text>
<line x1="371.9" y1="158.3" x2="371.9" y2="160.5" stroke="#9a9a9a" stroke-width="0.9"/>
<text x="371.9" y="169.3" text-anchor="middle" font-size="7.3" fill="#4a4a4a" stroke="#4a4a4a" stroke-width="0.18">12.5</text>
<line x1="230.20000000000002" y1="133.7" x2="232.4" y2="133.7" stroke="#9a9a9a" stroke-width="0.9"/>
<text x="227.3" y="136.3" text-anchor="end" font-size="7.3" fill="#4a4a4a" stroke="#4a4a4a" stroke-width="0.18">2.5</text>
<line x1="230.20000000000002" y1="103.4" x2="232.4" y2="103.4" stroke="#9a9a9a" stroke-width="0.9"/>
<text x="227.3" y="106" text-anchor="end" font-size="7.3" fill="#4a4a4a" stroke="#4a4a4a" stroke-width="0.18">5.0</text>
<line x1="230.20000000000002" y1="73.1" x2="232.4" y2="73.1" stroke="#9a9a9a" stroke-width="0.9"/>
<text x="227.3" y="75.7" text-anchor="end" font-size="7.3" fill="#4a4a4a" stroke="#4a4a4a" stroke-width="0.18">7.5</text>
<line x1="230.20000000000002" y1="42.8" x2="232.4" y2="42.8" stroke="#9a9a9a" stroke-width="0.9"/>
<text x="227.3" y="45.4" text-anchor="end" font-size="7.3" fill="#4a4a4a" stroke="#4a4a4a" stroke-width="0.18">10.0</text>
<line x1="230.20000000000002" y1="12.5" x2="232.4" y2="12.5" stroke="#9a9a9a" stroke-width="0.9"/>
<text x="227.3" y="15.1" text-anchor="end" font-size="7.3" fill="#4a4a4a" stroke="#4a4a4a" stroke-width="0.18">12.5</text>
<text x="305.4" y="183" text-anchor="middle" font-size="9.9" fill="#000" stroke="#000" stroke-width="0.12">Simulated yield (Mg ha<tspan font-size="6.6" dy="-3.6">−1</tspan><tspan dx="0.6" dy="3.6">)</tspan></text>
<text transform="translate(207.1,80.5) rotate(-90)" text-anchor="middle" font-size="9.9" fill="#000" stroke="#000" stroke-width="0.12">Observed yield (Mg ha<tspan font-size="6.6" dy="-3.6">−1</tspan><tspan dx="0.6" dy="3.6">)</tspan></text>
<text x="46.1" y="15.8" font-size="11.8" font-weight="bold" fill="#000">a)</text>
<text x="238.3" y="15.8" font-size="11.8" font-weight="bold" fill="#000">b)</text>
<text x="423.1" y="15.8" font-size="11.8" font-weight="bold" fill="#000">c)</text>
<text x="53.6" y="33.7" font-size="9.5" fill="#000" stroke="#000" stroke-width="0.22">RMSE<tspan fill="#aaa" stroke="#aaa"> = </tspan>0.87</text>
<text x="60.9" y="44.7" font-size="9.5" fill="#000" stroke="#000" stroke-width="0.22"><tspan font-style="italic">R</tspan><tspan font-size="6.5" dx="0.9" dy="-4.2">2</tspan><tspan dy="4.2" fill="#aaa" stroke="#aaa"> = </tspan>0.84</text>
<text x="245.5" y="33.7" font-size="9.5" fill="#000" stroke="#000" stroke-width="0.22">RMSE<tspan fill="#aaa" stroke="#aaa"> = </tspan>1.1</text>
<text x="252.8" y="44.7" font-size="9.5" fill="#000" stroke="#000" stroke-width="0.22"><tspan font-style="italic">R</tspan><tspan font-size="6.5" dx="0.9" dy="-4.2">2</tspan><tspan dy="4.2" fill="#aaa" stroke="#aaa"> = </tspan>0.69</text>
<line x1="432.7" y1="5.5" x2="432.7" y2="158.3" stroke="#f5f5f5" stroke-width="0.6"/>
<line x1="465.3" y1="5.5" x2="465.3" y2="158.3" stroke="#f5f5f5" stroke-width="0.6"/>
<line x1="497.9" y1="5.5" x2="497.9" y2="158.3" stroke="#f5f5f5" stroke-width="0.6"/>
<line x1="530.5" y1="5.5" x2="530.5" y2="158.3" stroke="#f5f5f5" stroke-width="0.6"/>
<line x1="563" y1="5.5" x2="563" y2="158.3" stroke="#f5f5f5" stroke-width="0.6"/>
<line x1="417.8" y1="143.4" x2="570.2" y2="143.4" stroke="#f5f5f5" stroke-width="0.6"/>
<line x1="417.8" y1="110.7" x2="570.2" y2="110.7" stroke="#f5f5f5" stroke-width="0.6"/>
<line x1="417.8" y1="78" x2="570.2" y2="78" stroke="#f5f5f5" stroke-width="0.6"/>
<line x1="417.8" y1="45.4" x2="570.2" y2="45.4" stroke="#f5f5f5" stroke-width="0.6"/>
<line x1="417.8" y1="12.7" x2="570.2" y2="12.7" stroke="#f5f5f5" stroke-width="0.6"/>
<line x1="449" y1="5.5" x2="449" y2="158.3" stroke="#ebebeb" stroke-width="1"/>
<line x1="481.6" y1="5.5" x2="481.6" y2="158.3" stroke="#ebebeb" stroke-width="1"/>
<line x1="514.2" y1="5.5" x2="514.2" y2="158.3" stroke="#ebebeb" stroke-width="1"/>
<line x1="546.7" y1="5.5" x2="546.7" y2="158.3" stroke="#ebebeb" stroke-width="1"/>
<line x1="417.8" y1="127" x2="570.2" y2="127" stroke="#ebebeb" stroke-width="1"/>
<line x1="417.8" y1="94.4" x2="570.2" y2="94.4" stroke="#ebebeb" stroke-width="1"/>
<line x1="417.8" y1="61.7" x2="570.2" y2="61.7" stroke="#ebebeb" stroke-width="1"/>
<line x1="417.8" y1="29" x2="570.2" y2="29" stroke="#ebebeb" stroke-width="1"/>
<line x1="417.8" y1="158.3" x2="570.2" y2="5.5" stroke="#222" stroke-width="1"/>
<circle cx="543.2" cy="15.4" r="2.7" fill="#0000ff" fill-opacity="0.68"/>
<circle cx="548" cy="34.9" r="2.7" fill="#0000ff" fill-opacity="0.68"/>
<circle cx="544.7" cy="37.4" r="2.7" fill="#0000ff" fill-opacity="0.68"/>
<circle cx="527.3" cy="43.1" r="2.7" fill="#0000ff" fill-opacity="0.68"/>
<circle cx="513.9" cy="55.3" r="2.7" fill="#0000ff" fill-opacity="0.68"/>
<circle cx="508.3" cy="59.6" r="2.7" fill="#0000ff" fill-opacity="0.68"/>
<circle cx="508.3" cy="64" r="2.7" fill="#0000ff" fill-opacity="0.68"/>
<circle cx="509.6" cy="67.4" r="2.7" fill="#0000ff" fill-opacity="0.68"/>
<circle cx="507.6" cy="72" r="2.7" fill="#0000ff" fill-opacity="0.68"/>
<circle cx="500" cy="72.8" r="2.7" fill="#0000ff" fill-opacity="0.68"/>
<circle cx="494.6" cy="82.5" r="2.7" fill="#0000ff" fill-opacity="0.68"/>
<circle cx="479.9" cy="87.9" r="2.7" fill="#0000ff" fill-opacity="0.68"/>
<circle cx="477.6" cy="96.4" r="2.7" fill="#0000ff" fill-opacity="0.68"/>
<circle cx="465.9" cy="91.1" r="2.7" fill="#0000ff" fill-opacity="0.68"/>
<circle cx="460" cy="106" r="2.7" fill="#0000ff" fill-opacity="0.68"/>
<circle cx="451.4" cy="120.6" r="2.7" fill="#0000ff" fill-opacity="0.68"/>
<circle cx="446.5" cy="126.8" r="2.7" fill="#0000ff" fill-opacity="0.68"/>
<circle cx="459.7" cy="122.7" r="2.7" fill="#0000ff" fill-opacity="0.68"/>
<circle cx="460.7" cy="118.1" r="2.7" fill="#0000ff" fill-opacity="0.68"/>
<circle cx="472.7" cy="117.1" r="2.7" fill="#0000ff" fill-opacity="0.68"/>
<circle cx="472.3" cy="122.7" r="2.7" fill="#0000ff" fill-opacity="0.68"/>
<circle cx="548.5" cy="16.5" r="2.7" fill="#ff0000" fill-opacity="0.68"/>
<circle cx="547" cy="25.3" r="2.7" fill="#ff0000" fill-opacity="0.68"/>
<circle cx="541.8" cy="34.2" r="2.7" fill="#ff0000" fill-opacity="0.68"/>
<circle cx="546.4" cy="43.2" r="2.7" fill="#ff0000" fill-opacity="0.68"/>
<circle cx="535.9" cy="42.6" r="2.7" fill="#ff0000" fill-opacity="0.68"/>
<circle cx="515.8" cy="41.3" r="2.7" fill="#ff0000" fill-opacity="0.68"/>
<circle cx="517.8" cy="48.1" r="2.7" fill="#ff0000" fill-opacity="0.68"/>
<circle cx="506.7" cy="50.4" r="2.7" fill="#ff0000" fill-opacity="0.68"/>
<circle cx="527.9" cy="49.4" r="2.7" fill="#ff0000" fill-opacity="0.68"/>
<circle cx="514.8" cy="62.7" r="2.7" fill="#ff0000" fill-opacity="0.68"/>
<circle cx="501.8" cy="65.7" r="2.7" fill="#ff0000" fill-opacity="0.68"/>
<circle cx="502.8" cy="66.8" r="2.7" fill="#ff0000" fill-opacity="0.68"/>
<circle cx="514.6" cy="72.3" r="2.7" fill="#ff0000" fill-opacity="0.68"/>
<circle cx="495.2" cy="74.9" r="2.7" fill="#ff0000" fill-opacity="0.68"/>
<circle cx="491.3" cy="83.4" r="2.7" fill="#ff0000" fill-opacity="0.68"/>
<circle cx="474.4" cy="79.4" r="2.7" fill="#ff0000" fill-opacity="0.68"/>
<circle cx="480.9" cy="81.3" r="2.7" fill="#ff0000" fill-opacity="0.68"/>
<circle cx="484.8" cy="82.6" r="2.7" fill="#ff0000" fill-opacity="0.68"/>
<circle cx="490.1" cy="83.3" r="2.7" fill="#ff0000" fill-opacity="0.68"/>
<circle cx="493.3" cy="86.6" r="2.7" fill="#ff0000" fill-opacity="0.68"/>
<circle cx="489.4" cy="89.2" r="2.7" fill="#ff0000" fill-opacity="0.68"/>
<circle cx="499.2" cy="89.8" r="2.7" fill="#ff0000" fill-opacity="0.68"/>
<circle cx="490.1" cy="95.1" r="2.7" fill="#ff0000" fill-opacity="0.68"/>
<circle cx="476.7" cy="92.2" r="2.7" fill="#ff0000" fill-opacity="0.68"/>
<circle cx="477" cy="99.6" r="2.7" fill="#ff0000" fill-opacity="0.68"/>
<circle cx="481.6" cy="103.6" r="2.7" fill="#ff0000" fill-opacity="0.68"/>
<circle cx="470.5" cy="110.8" r="2.7" fill="#ff0000" fill-opacity="0.68"/>
<circle cx="478.3" cy="112.7" r="2.7" fill="#ff0000" fill-opacity="0.68"/>
<circle cx="439.7" cy="124.9" r="2.7" fill="#ff0000" fill-opacity="0.68"/>
<circle cx="450" cy="125.4" r="2.7" fill="#ff0000" fill-opacity="0.68"/>
<circle cx="462.8" cy="114.6" r="2.7" fill="#ff0000" fill-opacity="0.68"/>
<circle cx="466.5" cy="116.1" r="2.7" fill="#ff0000" fill-opacity="0.68"/>
<circle cx="467.5" cy="118.1" r="2.7" fill="#ff0000" fill-opacity="0.68"/>
<circle cx="470.6" cy="111.5" r="2.7" fill="#ff0000" fill-opacity="0.68"/>
<circle cx="493.3" cy="122.7" r="2.7" fill="#ff0000" fill-opacity="0.68"/>
<text x="420.1" y="64.7" font-size="9.5" fill="#0000ff" stroke="#0000ff" stroke-width="0.25">RMSE<tspan fill="#6f6fff" stroke="#6f6fff"> = </tspan>0.54</text>
<text x="428.6" y="74.3" font-size="9.5" fill="#0000ff" stroke="#0000ff" stroke-width="0.25"><tspan font-style="italic">R</tspan><tspan font-size="6.5" dx="0.9" dy="-4.2">2</tspan><tspan dy="4.2" fill="#6f6fff" stroke="#6f6fff"> = </tspan>0.93</text>
<text x="502" y="130.7" font-size="9.5" fill="#ff0000" stroke="#ff0000" stroke-width="0.25">RMSE<tspan fill="#ff7f7f" stroke="#ff7f7f"> = </tspan>0.72</text>
<text x="510.3" y="140.3" font-size="9.5" fill="#ff0000" stroke="#ff0000" stroke-width="0.25"><tspan font-style="italic">R</tspan><tspan font-size="6.5" dx="0.9" dy="-4.2">2</tspan><tspan dy="4.2" fill="#ff7f7f" stroke="#ff7f7f"> = </tspan>0.85</text>
<line x1="417.3" y1="5.5" x2="570.7" y2="5.5" stroke="#b5b5b5" stroke-width="1"/>
<line x1="417.8" y1="5.5" x2="417.8" y2="158.3" stroke="#a5a5a5" stroke-width="1.05"/>
<line x1="570.2" y1="5.5" x2="570.2" y2="158.3" stroke="#888" stroke-width="1.1"/>
<line x1="417.3" y1="158.3" x2="570.7" y2="158.3" stroke="#606060" stroke-width="1.05"/>
<line x1="449" y1="158.3" x2="449" y2="160.5" stroke="#9a9a9a" stroke-width="0.9"/>
<text x="449" y="169.3" text-anchor="middle" font-size="7.3" fill="#4a4a4a" stroke="#4a4a4a" stroke-width="0.18">4</text>
<line x1="481.6" y1="158.3" x2="481.6" y2="160.5" stroke="#9a9a9a" stroke-width="0.9"/>
<text x="481.6" y="169.3" text-anchor="middle" font-size="7.3" fill="#4a4a4a" stroke="#4a4a4a" stroke-width="0.18">6</text>
<line x1="514.2" y1="158.3" x2="514.2" y2="160.5" stroke="#9a9a9a" stroke-width="0.9"/>
<text x="514.2" y="169.3" text-anchor="middle" font-size="7.3" fill="#4a4a4a" stroke="#4a4a4a" stroke-width="0.18">8</text>
<line x1="546.7" y1="158.3" x2="546.7" y2="160.5" stroke="#9a9a9a" stroke-width="0.9"/>
<text x="546.7" y="169.3" text-anchor="middle" font-size="7.3" fill="#4a4a4a" stroke="#4a4a4a" stroke-width="0.18">10</text>
<line x1="415.6" y1="127" x2="417.8" y2="127" stroke="#9a9a9a" stroke-width="0.9"/>
<text x="412.7" y="129.6" text-anchor="end" font-size="7.3" fill="#4a4a4a" stroke="#4a4a4a" stroke-width="0.18">4</text>
<line x1="415.6" y1="94.4" x2="417.8" y2="94.4" stroke="#9a9a9a" stroke-width="0.9"/>
<text x="412.7" y="97" text-anchor="end" font-size="7.3" fill="#4a4a4a" stroke="#4a4a4a" stroke-width="0.18">6</text>
<line x1="415.6" y1="61.7" x2="417.8" y2="61.7" stroke="#9a9a9a" stroke-width="0.9"/>
<text x="412.7" y="64.3" text-anchor="end" font-size="7.3" fill="#4a4a4a" stroke="#4a4a4a" stroke-width="0.18">8</text>
<line x1="415.6" y1="29" x2="417.8" y2="29" stroke="#9a9a9a" stroke-width="0.9"/>
<text x="412.7" y="31.6" text-anchor="end" font-size="7.3" fill="#4a4a4a" stroke="#4a4a4a" stroke-width="0.18">10</text>
<text x="494" y="183" text-anchor="middle" font-size="9.9" fill="#000" stroke="#000" stroke-width="0.12">Simulated yield (Mg ha<tspan font-size="6.6" dy="-3.6">−1</tspan><tspan dx="0.6" dy="3.6">)</tspan></text>
<text transform="translate(398.1,80.5) rotate(-90)" text-anchor="middle" font-size="9.9" fill="#000" stroke="#000" stroke-width="0.12">Observed yield (Mg ha<tspan font-size="6.6" dy="-3.6">−1</tspan><tspan dx="0.6" dy="3.6">)</tspan></text>
<rect x="434.1" y="20" width="58.1" height="31" fill="#fff" stroke="#999" stroke-width="0.8"/>
<circle cx="442.3" cy="28" r="3" fill="#0000ff" fill-opacity="0.68"/>
<circle cx="442.3" cy="43.4" r="3" fill="#ff0000" fill-opacity="0.68"/>
<text x="455" y="31" font-size="7.6" fill="#1a1a1a" stroke="#1a1a1a" stroke-width="0.15">Calibration</text>
<text x="455" y="46.4" font-size="7.6" fill="#1a1a1a" stroke="#1a1a1a" stroke-width="0.15">Validation</text>
<line x1="44" y1="196.3" x2="44" y2="354.2" stroke="#f5f5f5" stroke-width="0.6"/>
<line x1="86.8" y1="196.3" x2="86.8" y2="354.2" stroke="#f5f5f5" stroke-width="0.6"/>
<line x1="129.6" y1="196.3" x2="129.6" y2="354.2" stroke="#f5f5f5" stroke-width="0.6"/>
<line x1="172.4" y1="196.3" x2="172.4" y2="354.2" stroke="#f5f5f5" stroke-width="0.6"/>
<line x1="215.2" y1="196.3" x2="215.2" y2="354.2" stroke="#f5f5f5" stroke-width="0.6"/>
<line x1="258" y1="196.3" x2="258" y2="354.2" stroke="#f5f5f5" stroke-width="0.6"/>
<line x1="300.8" y1="196.3" x2="300.8" y2="354.2" stroke="#f5f5f5" stroke-width="0.6"/>
<line x1="343.6" y1="196.3" x2="343.6" y2="354.2" stroke="#f5f5f5" stroke-width="0.6"/>
<line x1="386.4" y1="196.3" x2="386.4" y2="354.2" stroke="#f5f5f5" stroke-width="0.6"/>
<line x1="429.2" y1="196.3" x2="429.2" y2="354.2" stroke="#f5f5f5" stroke-width="0.6"/>
<line x1="472" y1="196.3" x2="472" y2="354.2" stroke="#f5f5f5" stroke-width="0.6"/>
<line x1="514.8" y1="196.3" x2="514.8" y2="354.2" stroke="#f5f5f5" stroke-width="0.6"/>
<line x1="557.6" y1="196.3" x2="557.6" y2="354.2" stroke="#f5f5f5" stroke-width="0.6"/>
<line x1="40.5" y1="344.1" x2="570.2" y2="344.1" stroke="#f5f5f5" stroke-width="0.6"/>
<line x1="40.5" y1="312.9" x2="570.2" y2="312.9" stroke="#f5f5f5" stroke-width="0.6"/>
<line x1="40.5" y1="281.7" x2="570.2" y2="281.7" stroke="#f5f5f5" stroke-width="0.6"/>
<line x1="40.5" y1="250.5" x2="570.2" y2="250.5" stroke="#f5f5f5" stroke-width="0.6"/>
<line x1="40.5" y1="219.3" x2="570.2" y2="219.3" stroke="#f5f5f5" stroke-width="0.6"/>
<line x1="65.4" y1="196.3" x2="65.4" y2="354.2" stroke="#ebebeb" stroke-width="1"/>
<line x1="108.2" y1="196.3" x2="108.2" y2="354.2" stroke="#ebebeb" stroke-width="1"/>
<line x1="151" y1="196.3" x2="151" y2="354.2" stroke="#ebebeb" stroke-width="1"/>
<line x1="193.8" y1="196.3" x2="193.8" y2="354.2" stroke="#ebebeb" stroke-width="1"/>
<line x1="236.6" y1="196.3" x2="236.6" y2="354.2" stroke="#ebebeb" stroke-width="1"/>
<line x1="279.4" y1="196.3" x2="279.4" y2="354.2" stroke="#ebebeb" stroke-width="1"/>
<line x1="322.2" y1="196.3" x2="322.2" y2="354.2" stroke="#ebebeb" stroke-width="1"/>
<line x1="365" y1="196.3" x2="365" y2="354.2" stroke="#ebebeb" stroke-width="1"/>
<line x1="407.8" y1="196.3" x2="407.8" y2="354.2" stroke="#ebebeb" stroke-width="1"/>
<line x1="450.6" y1="196.3" x2="450.6" y2="354.2" stroke="#ebebeb" stroke-width="1"/>
<line x1="493.4" y1="196.3" x2="493.4" y2="354.2" stroke="#ebebeb" stroke-width="1"/>
<line x1="536.2" y1="196.3" x2="536.2" y2="354.2" stroke="#ebebeb" stroke-width="1"/>
<line x1="40.5" y1="328.5" x2="570.2" y2="328.5" stroke="#ebebeb" stroke-width="1"/>
<line x1="40.5" y1="297.3" x2="570.2" y2="297.3" stroke="#ebebeb" stroke-width="1"/>
<line x1="40.5" y1="266.1" x2="570.2" y2="266.1" stroke="#ebebeb" stroke-width="1"/>
<line x1="40.5" y1="234.9" x2="570.2" y2="234.9" stroke="#ebebeb" stroke-width="1"/>
<line x1="40.5" y1="203.7" x2="570.2" y2="203.7" stroke="#ebebeb" stroke-width="1"/>
<path d="M64.6 300.1V325.6M73.2 298V325.1M81.7 296.3V323.5M90.3 297.4V327.6M90.3 331.8h0M90.3 336h0M98.8 293.6V321.8M107.4 290.9V313M116 287.4V319.7M116 323.9h0M124.5 286.3V317.7M124.5 320.8h0M133.1 281.1V314.5M141.6 286.3V326M150.2 276.9V310.3M158.8 269.6V293.6M167.3 276.9V304M175.9 288.4V334.5M175.9 338.7h0M184.4 282.1V324M193 273.2V325M201.6 272V335.5M201.6 338.5h0M201.6 341.6h0M210.1 271.9V301.1M218.7 263.8V297.2M227.2 267.2V316.8M227.2 323.3h0M235.8 263.3V298.5M244.4 267.3V307.5M252.9 279V315.5M252.9 323.7V347M261.5 269.7V313M261.5 315.5h0M261.5 320.2h0M270 261.6V291.7M278.6 260.1V293.2M287.2 261.6V296M295.7 277.4V332M295.7 335.5h0M295.7 339h0M304.3 260V316M304.3 256.5h0M304.3 328.4h0M312.8 263V301.8M321.4 268.3V301.8M330 246.9V286.1M338.5 287.7V325.3M338.5 328.5h0M338.5 332h0M347.1 244.4V276M355.6 259.2V304.6M355.6 312.5h0M355.6 317.2h0M364.2 256V287.4M364.2 296.8h0M372.8 257.6V285.8M381.3 246.6V295.2M389.9 245.1V289M389.9 296.8h0M389.9 301.5h0M398.4 251.3V281.1M398.4 287.4h0M407 239.5V288M415.6 230.1V295.9M424.1 239.5V281.8M432.7 230.1V261.4M441.2 231.6V286M441.2 289.5h0M441.2 293h0M449.8 230V288M449.8 291.5h0M458.4 228.5V269.3M466.9 229.8V272.1M466.9 276h0M466.9 280h0M466.9 284h0M466.9 288h0M466.9 292.5h0M475.5 229.8V272.1M484 229.8V290M484 294h0M484 298h0M484 302h0M484 306h0M484 309.5h0M484 313h0M492.6 228.2V297M501.2 245.5V318M501.2 322h0M501.2 326h0M501.2 329.5h0M509.7 228.2V288M518.3 225.2V256.3M526.8 220V265M535.4 213.7V253.4M544 210.6V262.8M544 268h0M544 273h0M544 278h0M544 283h0M544 288.5h0" stroke="#858585" stroke-width="3.8" stroke-linecap="round" fill="none"/>
<path d="M67.3 302.2V321.4M84.4 287.5V316.8M84.4 284.2h0M101.5 293.2V317.7M101.5 282.2h0M118.7 278V318.7M135.8 292.6V316.6M161.5 284.2V310.3M178.6 279V306.3M178.6 309h0M178.6 312h0M178.6 315h0M178.6 318h0M178.6 321h0M178.6 325h0M178.6 328h0M178.6 331h0M204.3 270V306M204.3 309h0M204.3 312.5h0M204.3 316h0M204.3 319.5h0M204.3 323h0M204.3 326.5h0M204.3 329.9h0M229.9 272.4V307.7M229.9 311h0M229.9 315h0M229.9 319h0M229.9 324.6h0M247.1 266.4V300.3M272.7 252.9V291.7M272.7 297.5h0M272.7 306h0M298.4 273.3V319M298.4 322.5h0M298.4 326h0M298.4 329.5h0M298.4 333h0M298.4 336h0M332.7 243V289.3M332.7 233h0M332.7 236.5h0M332.7 240h0M349.8 243.5V284M349.8 287.5h0M375.5 241.9V290.5M375.5 297.7h0M401.1 243.5V290.5M426.8 242.6V283.4M426.8 302h0M426.8 307h0M426.8 312h0M426.8 318h0M426.8 324h0M461.1 236V269M461.1 276.8h0M461.1 291h0M461.1 301.9h0M478.2 218.8V267.4M478.2 277.5h0M503.9 248.6V302M503.9 306h0M503.9 310h0M503.9 314h0M503.9 318h0M503.9 322h0M521 227.3V260M521 271h0M538.1 224.2V244M538.1 264h0M538.1 268h0M538.1 272h0M538.1 276h0M538.1 280h0M538.1 284.7h0" stroke="#0000ff" stroke-width="3.8" stroke-linecap="round" fill="none"/>
<path d="M75.9 300.5V321.4M93 297.4V327.6M110.1 287.8V312.4M127.2 280V307.2M144.3 280.5V314.6M152.9 267.9V308M152.9 311h0M152.9 314h0M170 273.8V308.2M187.1 284.2V315M187.1 318h0M187.1 321h0M187.1 325h0M187.1 329h0M195.7 272V306M195.7 308.5h0M195.7 312h0M195.7 315.5h0M212.8 273.7V305M221.4 271.1V301.1M221.4 309.8h0M238.5 264.6V299.8M255.6 280.3V299M255.6 303.8h0M255.6 308.5h0M255.6 314.3h0M255.6 320.2h0M255.6 326h0M255.6 333h0M264.2 255.8V298M264.2 327h0M264.2 333h0M281.3 254.4V294.6M289.9 277V307.5M289.9 255.8h0M289.9 269.5h0M307 267.3V306.5M315.5 271V303.4M324.1 245.4V301.8M341.2 253.2V303.4M358.3 257.6V287.4M366.9 238.8V287.4M384 251.3V300M392.6 234.1V282.7M409.7 242.6V292.8M409.7 228.5h0M409.7 309.4h0M418.3 242.6V288M418.3 305.3h0M435.4 220.7V266.1M435.4 277.1h0M443.9 232.6V292.8M443.9 302.8h0M452.5 230.1V299M452.5 314.7h0M469.6 215.7V258M486.7 232.9V273M486.7 281.5h0M486.7 291.6h0M495.3 222V292.5M512.4 228.9V285M512.4 290h0M512.4 295h0M512.4 305h0M512.4 320.5h0M529.5 219V262.8M529.5 268.6h0M529.5 274.8h0M546.7 203.3V298M546.7 302h0M546.7 309.5h0M546.7 320h0M546.7 329.4h0" stroke="#ff0000" stroke-width="3.8" stroke-linecap="round" fill="none"/>
<rect x="62.6" y="307.5" width="4" height="4" fill="#858585" stroke="#333" stroke-width="0.65" stroke-opacity="0.8" fill-opacity="0.85"/>
<rect x="65.3" y="310" width="4" height="4" fill="#0000ff" stroke="#333" stroke-width="0.65" stroke-opacity="0.8" fill-opacity="0.85"/>
<rect x="71.2" y="306.9" width="4" height="4" fill="#858585" stroke="#333" stroke-width="0.65" stroke-opacity="0.8" fill-opacity="0.85"/>
<rect x="73.9" y="306.9" width="4" height="4" fill="#ff0000" stroke="#333" stroke-width="0.65" stroke-opacity="0.8" fill-opacity="0.85"/>
<rect x="79.7" y="304.4" width="4" height="4" fill="#858585" stroke="#333" stroke-width="0.65" stroke-opacity="0.8" fill-opacity="0.85"/>
<rect x="82.4" y="299.5" width="4" height="4" fill="#0000ff" stroke="#333" stroke-width="0.65" stroke-opacity="0.8" fill-opacity="0.85"/>
<rect x="88.3" y="306.4" width="4" height="4" fill="#858585" stroke="#333" stroke-width="0.65" stroke-opacity="0.8" fill-opacity="0.85"/>
<rect x="91" y="314.8" width="4" height="4" fill="#ff0000" stroke="#333" stroke-width="0.65" stroke-opacity="0.8" fill-opacity="0.85"/>
<rect x="96.8" y="303.1" width="4" height="4" fill="#858585" stroke="#333" stroke-width="0.65" stroke-opacity="0.8" fill-opacity="0.85"/>
<rect x="99.5" y="306.2" width="4" height="4" fill="#0000ff" stroke="#333" stroke-width="0.65" stroke-opacity="0.8" fill-opacity="0.85"/>
<rect x="105.4" y="299" width="4" height="4" fill="#858585" stroke="#333" stroke-width="0.65" stroke-opacity="0.8" fill-opacity="0.85"/>
<rect x="108.1" y="297.3" width="4" height="4" fill="#ff0000" stroke="#333" stroke-width="0.65" stroke-opacity="0.8" fill-opacity="0.85"/>
<rect x="114" y="299" width="4" height="4" fill="#858585" stroke="#333" stroke-width="0.65" stroke-opacity="0.8" fill-opacity="0.85"/>
<rect x="116.7" y="293.7" width="4" height="4" fill="#0000ff" stroke="#333" stroke-width="0.65" stroke-opacity="0.8" fill-opacity="0.85"/>
<rect x="122.5" y="296.2" width="4" height="4" fill="#858585" stroke="#333" stroke-width="0.65" stroke-opacity="0.8" fill-opacity="0.85"/>
<rect x="125.2" y="291" width="4" height="4" fill="#ff0000" stroke="#333" stroke-width="0.65" stroke-opacity="0.8" fill-opacity="0.85"/>
<rect x="131.1" y="292.3" width="4" height="4" fill="#858585" stroke="#333" stroke-width="0.65" stroke-opacity="0.8" fill-opacity="0.85"/>
<rect x="133.8" y="299.3" width="4" height="4" fill="#0000ff" stroke="#333" stroke-width="0.65" stroke-opacity="0.8" fill-opacity="0.85"/>
<rect x="139.6" y="301" width="4" height="4" fill="#858585" stroke="#333" stroke-width="0.65" stroke-opacity="0.8" fill-opacity="0.85"/>
<rect x="142.3" y="292.7" width="4" height="4" fill="#ff0000" stroke="#333" stroke-width="0.65" stroke-opacity="0.8" fill-opacity="0.85"/>
<rect x="148.2" y="290.2" width="4" height="4" fill="#858585" stroke="#333" stroke-width="0.65" stroke-opacity="0.8" fill-opacity="0.85"/>
<rect x="150.9" y="282.9" width="4" height="4" fill="#ff0000" stroke="#333" stroke-width="0.65" stroke-opacity="0.8" fill-opacity="0.85"/>
<rect x="156.8" y="280.8" width="4" height="4" fill="#858585" stroke="#333" stroke-width="0.65" stroke-opacity="0.8" fill-opacity="0.85"/>
<rect x="159.5" y="294.8" width="4" height="4" fill="#0000ff" stroke="#333" stroke-width="0.65" stroke-opacity="0.8" fill-opacity="0.85"/>
<rect x="165.3" y="286.4" width="4" height="4" fill="#858585" stroke="#333" stroke-width="0.65" stroke-opacity="0.8" fill-opacity="0.85"/>
<rect x="168" y="286.4" width="4" height="4" fill="#ff0000" stroke="#333" stroke-width="0.65" stroke-opacity="0.8" fill-opacity="0.85"/>
<rect x="173.9" y="304.2" width="4" height="4" fill="#858585" stroke="#333" stroke-width="0.65" stroke-opacity="0.8" fill-opacity="0.85"/>
<rect x="176.6" y="290.2" width="4" height="4" fill="#0000ff" stroke="#333" stroke-width="0.65" stroke-opacity="0.8" fill-opacity="0.85"/>
<rect x="182.4" y="297.9" width="4" height="4" fill="#858585" stroke="#333" stroke-width="0.65" stroke-opacity="0.8" fill-opacity="0.85"/>
<rect x="185.1" y="294.7" width="4" height="4" fill="#ff0000" stroke="#333" stroke-width="0.65" stroke-opacity="0.8" fill-opacity="0.85"/>
<rect x="191" y="297.3" width="4" height="4" fill="#858585" stroke="#333" stroke-width="0.65" stroke-opacity="0.8" fill-opacity="0.85"/>
<rect x="193.7" y="285.3" width="4" height="4" fill="#ff0000" stroke="#333" stroke-width="0.65" stroke-opacity="0.8" fill-opacity="0.85"/>
<rect x="199.6" y="301" width="4" height="4" fill="#858585" stroke="#333" stroke-width="0.65" stroke-opacity="0.8" fill-opacity="0.85"/>
<rect x="202.3" y="289.5" width="4" height="4" fill="#0000ff" stroke="#333" stroke-width="0.65" stroke-opacity="0.8" fill-opacity="0.85"/>
<rect x="208.1" y="281.6" width="4" height="4" fill="#858585" stroke="#333" stroke-width="0.65" stroke-opacity="0.8" fill-opacity="0.85"/>
<rect x="210.8" y="286.1" width="4" height="4" fill="#ff0000" stroke="#333" stroke-width="0.65" stroke-opacity="0.8" fill-opacity="0.85"/>
<rect x="216.7" y="273.8" width="4" height="4" fill="#858585" stroke="#333" stroke-width="0.65" stroke-opacity="0.8" fill-opacity="0.85"/>
<rect x="219.4" y="282.7" width="4" height="4" fill="#ff0000" stroke="#333" stroke-width="0.65" stroke-opacity="0.8" fill-opacity="0.85"/>
<rect x="225.2" y="285.3" width="4" height="4" fill="#858585" stroke="#333" stroke-width="0.65" stroke-opacity="0.8" fill-opacity="0.85"/>
<rect x="227.9" y="286" width="4" height="4" fill="#0000ff" stroke="#333" stroke-width="0.65" stroke-opacity="0.8" fill-opacity="0.85"/>
<rect x="233.8" y="274.9" width="4" height="4" fill="#858585" stroke="#333" stroke-width="0.65" stroke-opacity="0.8" fill-opacity="0.85"/>
<rect x="236.5" y="276.9" width="4" height="4" fill="#ff0000" stroke="#333" stroke-width="0.65" stroke-opacity="0.8" fill-opacity="0.85"/>
<rect x="242.4" y="278.2" width="4" height="4" fill="#858585" stroke="#333" stroke-width="0.65" stroke-opacity="0.8" fill-opacity="0.85"/>
<rect x="245.1" y="284" width="4" height="4" fill="#0000ff" stroke="#333" stroke-width="0.65" stroke-opacity="0.8" fill-opacity="0.85"/>
<rect x="250.9" y="299.8" width="4" height="4" fill="#858585" stroke="#333" stroke-width="0.65" stroke-opacity="0.8" fill-opacity="0.85"/>
<rect x="253.6" y="293.5" width="4" height="4" fill="#ff0000" stroke="#333" stroke-width="0.65" stroke-opacity="0.8" fill-opacity="0.85"/>
<rect x="259.5" y="283.4" width="4" height="4" fill="#858585" stroke="#333" stroke-width="0.65" stroke-opacity="0.8" fill-opacity="0.85"/>
<rect x="262.2" y="275.4" width="4" height="4" fill="#ff0000" stroke="#333" stroke-width="0.65" stroke-opacity="0.8" fill-opacity="0.85"/>
<rect x="268" y="273.9" width="4" height="4" fill="#858585" stroke="#333" stroke-width="0.65" stroke-opacity="0.8" fill-opacity="0.85"/>
<rect x="270.7" y="271.9" width="4" height="4" fill="#0000ff" stroke="#333" stroke-width="0.65" stroke-opacity="0.8" fill-opacity="0.85"/>
<rect x="276.6" y="267.6" width="4" height="4" fill="#858585" stroke="#333" stroke-width="0.65" stroke-opacity="0.8" fill-opacity="0.85"/>
<rect x="279.3" y="271.9" width="4" height="4" fill="#ff0000" stroke="#333" stroke-width="0.65" stroke-opacity="0.8" fill-opacity="0.85"/>
<rect x="285.2" y="271" width="4" height="4" fill="#858585" stroke="#333" stroke-width="0.65" stroke-opacity="0.8" fill-opacity="0.85"/>
<rect x="287.9" y="288.3" width="4" height="4" fill="#ff0000" stroke="#333" stroke-width="0.65" stroke-opacity="0.8" fill-opacity="0.85"/>
<rect x="293.7" y="301.8" width="4" height="4" fill="#858585" stroke="#333" stroke-width="0.65" stroke-opacity="0.8" fill-opacity="0.85"/>
<rect x="296.4" y="298.3" width="4" height="4" fill="#0000ff" stroke="#333" stroke-width="0.65" stroke-opacity="0.8" fill-opacity="0.85"/>
<rect x="302.3" y="279.4" width="4" height="4" fill="#858585" stroke="#333" stroke-width="0.65" stroke-opacity="0.8" fill-opacity="0.85"/>
<rect x="305" y="276.3" width="4" height="4" fill="#ff0000" stroke="#333" stroke-width="0.65" stroke-opacity="0.8" fill-opacity="0.85"/>
<rect x="310.8" y="273.8" width="4" height="4" fill="#858585" stroke="#333" stroke-width="0.65" stroke-opacity="0.8" fill-opacity="0.85"/>
<rect x="313.5" y="280.4" width="4" height="4" fill="#ff0000" stroke="#333" stroke-width="0.65" stroke-opacity="0.8" fill-opacity="0.85"/>
<rect x="319.4" y="280.4" width="4" height="4" fill="#858585" stroke="#333" stroke-width="0.65" stroke-opacity="0.8" fill-opacity="0.85"/>
<rect x="322.1" y="268.8" width="4" height="4" fill="#ff0000" stroke="#333" stroke-width="0.65" stroke-opacity="0.8" fill-opacity="0.85"/>
<rect x="328" y="260" width="4" height="4" fill="#858585" stroke="#333" stroke-width="0.65" stroke-opacity="0.8" fill-opacity="0.85"/>
<rect x="330.7" y="263.1" width="4" height="4" fill="#0000ff" stroke="#333" stroke-width="0.65" stroke-opacity="0.8" fill-opacity="0.85"/>
<rect x="336.5" y="305.1" width="4" height="4" fill="#858585" stroke="#333" stroke-width="0.65" stroke-opacity="0.8" fill-opacity="0.85"/>
<rect x="339.2" y="273.2" width="4" height="4" fill="#ff0000" stroke="#333" stroke-width="0.65" stroke-opacity="0.8" fill-opacity="0.85"/>
<rect x="345.1" y="256.9" width="4" height="4" fill="#858585" stroke="#333" stroke-width="0.65" stroke-opacity="0.8" fill-opacity="0.85"/>
<rect x="347.8" y="262.2" width="4" height="4" fill="#0000ff" stroke="#333" stroke-width="0.65" stroke-opacity="0.8" fill-opacity="0.85"/>
<rect x="353.6" y="276" width="4" height="4" fill="#858585" stroke="#333" stroke-width="0.65" stroke-opacity="0.8" fill-opacity="0.85"/>
<rect x="356.3" y="272.9" width="4" height="4" fill="#ff0000" stroke="#333" stroke-width="0.65" stroke-opacity="0.8" fill-opacity="0.85"/>
<rect x="362.2" y="265.6" width="4" height="4" fill="#858585" stroke="#333" stroke-width="0.65" stroke-opacity="0.8" fill-opacity="0.85"/>
<rect x="364.9" y="258.1" width="4" height="4" fill="#ff0000" stroke="#333" stroke-width="0.65" stroke-opacity="0.8" fill-opacity="0.85"/>
<rect x="370.8" y="266.6" width="4" height="4" fill="#858585" stroke="#333" stroke-width="0.65" stroke-opacity="0.8" fill-opacity="0.85"/>
<rect x="373.5" y="265" width="4" height="4" fill="#0000ff" stroke="#333" stroke-width="0.65" stroke-opacity="0.8" fill-opacity="0.85"/>
<rect x="379.3" y="261.9" width="4" height="4" fill="#858585" stroke="#333" stroke-width="0.65" stroke-opacity="0.8" fill-opacity="0.85"/>
<rect x="382" y="267.5" width="4" height="4" fill="#ff0000" stroke="#333" stroke-width="0.65" stroke-opacity="0.8" fill-opacity="0.85"/>
<rect x="387.9" y="258.8" width="4" height="4" fill="#858585" stroke="#333" stroke-width="0.65" stroke-opacity="0.8" fill-opacity="0.85"/>
<rect x="390.6" y="256.6" width="4" height="4" fill="#ff0000" stroke="#333" stroke-width="0.65" stroke-opacity="0.8" fill-opacity="0.85"/>
<rect x="396.4" y="261.9" width="4" height="4" fill="#858585" stroke="#333" stroke-width="0.65" stroke-opacity="0.8" fill-opacity="0.85"/>
<rect x="399.1" y="261.9" width="4" height="4" fill="#0000ff" stroke="#333" stroke-width="0.65" stroke-opacity="0.8" fill-opacity="0.85"/>
<rect x="405" y="261" width="4" height="4" fill="#858585" stroke="#333" stroke-width="0.65" stroke-opacity="0.8" fill-opacity="0.85"/>
<rect x="407.7" y="266.6" width="4" height="4" fill="#ff0000" stroke="#333" stroke-width="0.65" stroke-opacity="0.8" fill-opacity="0.85"/>
<rect x="413.6" y="250" width="4" height="4" fill="#858585" stroke="#333" stroke-width="0.65" stroke-opacity="0.8" fill-opacity="0.85"/>
<rect x="416.3" y="263.5" width="4" height="4" fill="#ff0000" stroke="#333" stroke-width="0.65" stroke-opacity="0.8" fill-opacity="0.85"/>
<rect x="422.1" y="253.8" width="4" height="4" fill="#858585" stroke="#333" stroke-width="0.65" stroke-opacity="0.8" fill-opacity="0.85"/>
<rect x="424.8" y="257.9" width="4" height="4" fill="#0000ff" stroke="#333" stroke-width="0.65" stroke-opacity="0.8" fill-opacity="0.85"/>
<rect x="430.7" y="237.5" width="4" height="4" fill="#858585" stroke="#333" stroke-width="0.65" stroke-opacity="0.8" fill-opacity="0.85"/>
<rect x="433.4" y="235.3" width="4" height="4" fill="#ff0000" stroke="#333" stroke-width="0.65" stroke-opacity="0.8" fill-opacity="0.85"/>
<rect x="439.2" y="243.1" width="4" height="4" fill="#858585" stroke="#333" stroke-width="0.65" stroke-opacity="0.8" fill-opacity="0.85"/>
<rect x="441.9" y="256.9" width="4" height="4" fill="#ff0000" stroke="#333" stroke-width="0.65" stroke-opacity="0.8" fill-opacity="0.85"/>
<rect x="447.8" y="247.5" width="4" height="4" fill="#858585" stroke="#333" stroke-width="0.65" stroke-opacity="0.8" fill-opacity="0.85"/>
<rect x="450.5" y="254.7" width="4" height="4" fill="#ff0000" stroke="#333" stroke-width="0.65" stroke-opacity="0.8" fill-opacity="0.85"/>
<rect x="456.4" y="243.8" width="4" height="4" fill="#858585" stroke="#333" stroke-width="0.65" stroke-opacity="0.8" fill-opacity="0.85"/>
<rect x="459.1" y="248.2" width="4" height="4" fill="#0000ff" stroke="#333" stroke-width="0.65" stroke-opacity="0.8" fill-opacity="0.85"/>
<rect x="464.9" y="244.4" width="4" height="4" fill="#858585" stroke="#333" stroke-width="0.65" stroke-opacity="0.8" fill-opacity="0.85"/>
<rect x="467.6" y="233.1" width="4" height="4" fill="#ff0000" stroke="#333" stroke-width="0.65" stroke-opacity="0.8" fill-opacity="0.85"/>
<rect x="473.5" y="238.1" width="4" height="4" fill="#858585" stroke="#333" stroke-width="0.65" stroke-opacity="0.8" fill-opacity="0.85"/>
<rect x="476.2" y="231.9" width="4" height="4" fill="#0000ff" stroke="#333" stroke-width="0.65" stroke-opacity="0.8" fill-opacity="0.85"/>
<rect x="482" y="248.2" width="4" height="4" fill="#858585" stroke="#333" stroke-width="0.65" stroke-opacity="0.8" fill-opacity="0.85"/>
<rect x="484.7" y="246.6" width="4" height="4" fill="#ff0000" stroke="#333" stroke-width="0.65" stroke-opacity="0.8" fill-opacity="0.85"/>
<rect x="490.6" y="243.5" width="4" height="4" fill="#858585" stroke="#333" stroke-width="0.65" stroke-opacity="0.8" fill-opacity="0.85"/>
<rect x="493.3" y="241" width="4" height="4" fill="#ff0000" stroke="#333" stroke-width="0.65" stroke-opacity="0.8" fill-opacity="0.85"/>
<rect x="499.2" y="267.6" width="4" height="4" fill="#858585" stroke="#333" stroke-width="0.65" stroke-opacity="0.8" fill-opacity="0.85"/>
<rect x="501.9" y="268.5" width="4" height="4" fill="#0000ff" stroke="#333" stroke-width="0.65" stroke-opacity="0.8" fill-opacity="0.85"/>
<rect x="507.7" y="247.5" width="4" height="4" fill="#858585" stroke="#333" stroke-width="0.65" stroke-opacity="0.8" fill-opacity="0.85"/>
<rect x="510.4" y="248.2" width="4" height="4" fill="#ff0000" stroke="#333" stroke-width="0.65" stroke-opacity="0.8" fill-opacity="0.85"/>
<rect x="516.3" y="239.7" width="4" height="4" fill="#858585" stroke="#333" stroke-width="0.65" stroke-opacity="0.8" fill-opacity="0.85"/>
<rect x="519" y="233.5" width="4" height="4" fill="#0000ff" stroke="#333" stroke-width="0.65" stroke-opacity="0.8" fill-opacity="0.85"/>
<rect x="524.8" y="230.5" width="4" height="4" fill="#858585" stroke="#333" stroke-width="0.65" stroke-opacity="0.8" fill-opacity="0.85"/>
<rect x="527.5" y="229.8" width="4" height="4" fill="#ff0000" stroke="#333" stroke-width="0.65" stroke-opacity="0.8" fill-opacity="0.85"/>
<rect x="533.4" y="223.2" width="4" height="4" fill="#858585" stroke="#333" stroke-width="0.65" stroke-opacity="0.8" fill-opacity="0.85"/>
<rect x="536.1" y="232" width="4" height="4" fill="#0000ff" stroke="#333" stroke-width="0.65" stroke-opacity="0.8" fill-opacity="0.85"/>
<rect x="542" y="223.6" width="4" height="4" fill="#858585" stroke="#333" stroke-width="0.65" stroke-opacity="0.8" fill-opacity="0.85"/>
<rect x="544.7" y="231.6" width="4" height="4" fill="#ff0000" stroke="#333" stroke-width="0.65" stroke-opacity="0.8" fill-opacity="0.85"/>
<line x1="40.0" y1="196.3" x2="570.7" y2="196.3" stroke="#b5b5b5" stroke-width="1"/>
<line x1="40.5" y1="196.3" x2="40.5" y2="354.2" stroke="#a5a5a5" stroke-width="1.05"/>
<line x1="570.2" y1="196.3" x2="570.2" y2="354.2" stroke="#888" stroke-width="1.1"/>
<line x1="40.0" y1="354.2" x2="570.7" y2="354.2" stroke="#777" stroke-width="1.05"/>
<line x1="65.4" y1="354.2" x2="65.4" y2="356.4" stroke="#9a9a9a" stroke-width="0.9"/>
<text x="65.4" y="365.2" text-anchor="middle" font-size="7.2" fill="#4a4a4a" stroke="#4a4a4a" stroke-width="0.18">1961</text>
<line x1="108.2" y1="354.2" x2="108.2" y2="356.4" stroke="#9a9a9a" stroke-width="0.9"/>
<text x="108.2" y="365.2" text-anchor="middle" font-size="7.2" fill="#4a4a4a" stroke="#4a4a4a" stroke-width="0.18">1966</text>
<line x1="151" y1="354.2" x2="151" y2="356.4" stroke="#9a9a9a" stroke-width="0.9"/>
<text x="151" y="365.2" text-anchor="middle" font-size="7.2" fill="#4a4a4a" stroke="#4a4a4a" stroke-width="0.18">1971</text>
<line x1="193.8" y1="354.2" x2="193.8" y2="356.4" stroke="#9a9a9a" stroke-width="0.9"/>
<text x="193.8" y="365.2" text-anchor="middle" font-size="7.2" fill="#4a4a4a" stroke="#4a4a4a" stroke-width="0.18">1976</text>
<line x1="236.6" y1="354.2" x2="236.6" y2="356.4" stroke="#9a9a9a" stroke-width="0.9"/>
<text x="236.6" y="365.2" text-anchor="middle" font-size="7.2" fill="#4a4a4a" stroke="#4a4a4a" stroke-width="0.18">1981</text>
<line x1="279.4" y1="354.2" x2="279.4" y2="356.4" stroke="#9a9a9a" stroke-width="0.9"/>
<text x="279.4" y="365.2" text-anchor="middle" font-size="7.2" fill="#4a4a4a" stroke="#4a4a4a" stroke-width="0.18">1986</text>
<line x1="322.2" y1="354.2" x2="322.2" y2="356.4" stroke="#9a9a9a" stroke-width="0.9"/>
<text x="322.2" y="365.2" text-anchor="middle" font-size="7.2" fill="#4a4a4a" stroke="#4a4a4a" stroke-width="0.18">1991</text>
<line x1="365" y1="354.2" x2="365" y2="356.4" stroke="#9a9a9a" stroke-width="0.9"/>
<text x="365" y="365.2" text-anchor="middle" font-size="7.2" fill="#4a4a4a" stroke="#4a4a4a" stroke-width="0.18">1996</text>
<line x1="407.8" y1="354.2" x2="407.8" y2="356.4" stroke="#9a9a9a" stroke-width="0.9"/>
<text x="407.8" y="365.2" text-anchor="middle" font-size="7.2" fill="#4a4a4a" stroke="#4a4a4a" stroke-width="0.18">2001</text>
<line x1="450.6" y1="354.2" x2="450.6" y2="356.4" stroke="#9a9a9a" stroke-width="0.9"/>
<text x="450.6" y="365.2" text-anchor="middle" font-size="7.2" fill="#4a4a4a" stroke="#4a4a4a" stroke-width="0.18">2006</text>
<line x1="493.4" y1="354.2" x2="493.4" y2="356.4" stroke="#9a9a9a" stroke-width="0.9"/>
<text x="493.4" y="365.2" text-anchor="middle" font-size="7.2" fill="#4a4a4a" stroke="#4a4a4a" stroke-width="0.18">2011</text>
<line x1="536.2" y1="354.2" x2="536.2" y2="356.4" stroke="#9a9a9a" stroke-width="0.9"/>
<text x="536.2" y="365.2" text-anchor="middle" font-size="7.2" fill="#4a4a4a" stroke="#4a4a4a" stroke-width="0.18">2016</text>
<line x1="38.3" y1="328.5" x2="40.5" y2="328.5" stroke="#9a9a9a" stroke-width="0.9"/>
<text x="35.4" y="331.1" text-anchor="end" font-size="7.3" fill="#4a4a4a" stroke="#4a4a4a" stroke-width="0.18">2.5</text>
<line x1="38.3" y1="297.3" x2="40.5" y2="297.3" stroke="#9a9a9a" stroke-width="0.9"/>
<text x="35.4" y="299.9" text-anchor="end" font-size="7.3" fill="#4a4a4a" stroke="#4a4a4a" stroke-width="0.18">5.0</text>
<line x1="38.3" y1="266.1" x2="40.5" y2="266.1" stroke="#9a9a9a" stroke-width="0.9"/>
<text x="35.4" y="268.7" text-anchor="end" font-size="7.3" fill="#4a4a4a" stroke="#4a4a4a" stroke-width="0.18">7.5</text>
<line x1="38.3" y1="234.9" x2="40.5" y2="234.9" stroke="#9a9a9a" stroke-width="0.9"/>
<text x="35.4" y="237.5" text-anchor="end" font-size="7.3" fill="#4a4a4a" stroke="#4a4a4a" stroke-width="0.18">10.0</text>
<line x1="38.3" y1="203.7" x2="40.5" y2="203.7" stroke="#9a9a9a" stroke-width="0.9"/>
<text x="35.4" y="206.3" text-anchor="end" font-size="7.3" fill="#4a4a4a" stroke="#4a4a4a" stroke-width="0.18">12.5</text>
<text x="305.4" y="376.3" text-anchor="middle" font-size="9.9" fill="#000" stroke="#000" stroke-width="0.12">Year</text>
<text transform="translate(15.1,274.8) rotate(-90)" text-anchor="middle" font-size="9.9" fill="#000" stroke="#000" stroke-width="0.12">Yield (Mg ha<tspan font-size="6.6" dy="-3.6">−1</tspan><tspan dx="0.6" dy="3.6">)</tspan></text>
<text x="46.1" y="207" font-size="11.8" font-weight="bold" fill="#000">d)</text>
<rect x="115.5" y="204.7" width="62" height="46.6" fill="#fff" stroke="#999" stroke-width="0.8"/>
<circle cx="123.2" cy="213.4" r="1.7" fill="#858585"/>
<text x="135.8" y="216.2" font-size="7.7" fill="#1a1a1a" stroke="#1a1a1a" stroke-width="0.15">Observation</text>
<circle cx="123.2" cy="228.3" r="1.7" fill="#0000ff"/>
<text x="135.8" y="231.1" font-size="7.7" fill="#1a1a1a" stroke="#1a1a1a" stroke-width="0.15">Calibration</text>
<circle cx="123.2" cy="243.4" r="1.7" fill="#ff0000"/>
<text x="135.8" y="246.2" font-size="7.7" fill="#1a1a1a" stroke="#1a1a1a" stroke-width="0.15">Validation</text>
</svg>
</body></html>
